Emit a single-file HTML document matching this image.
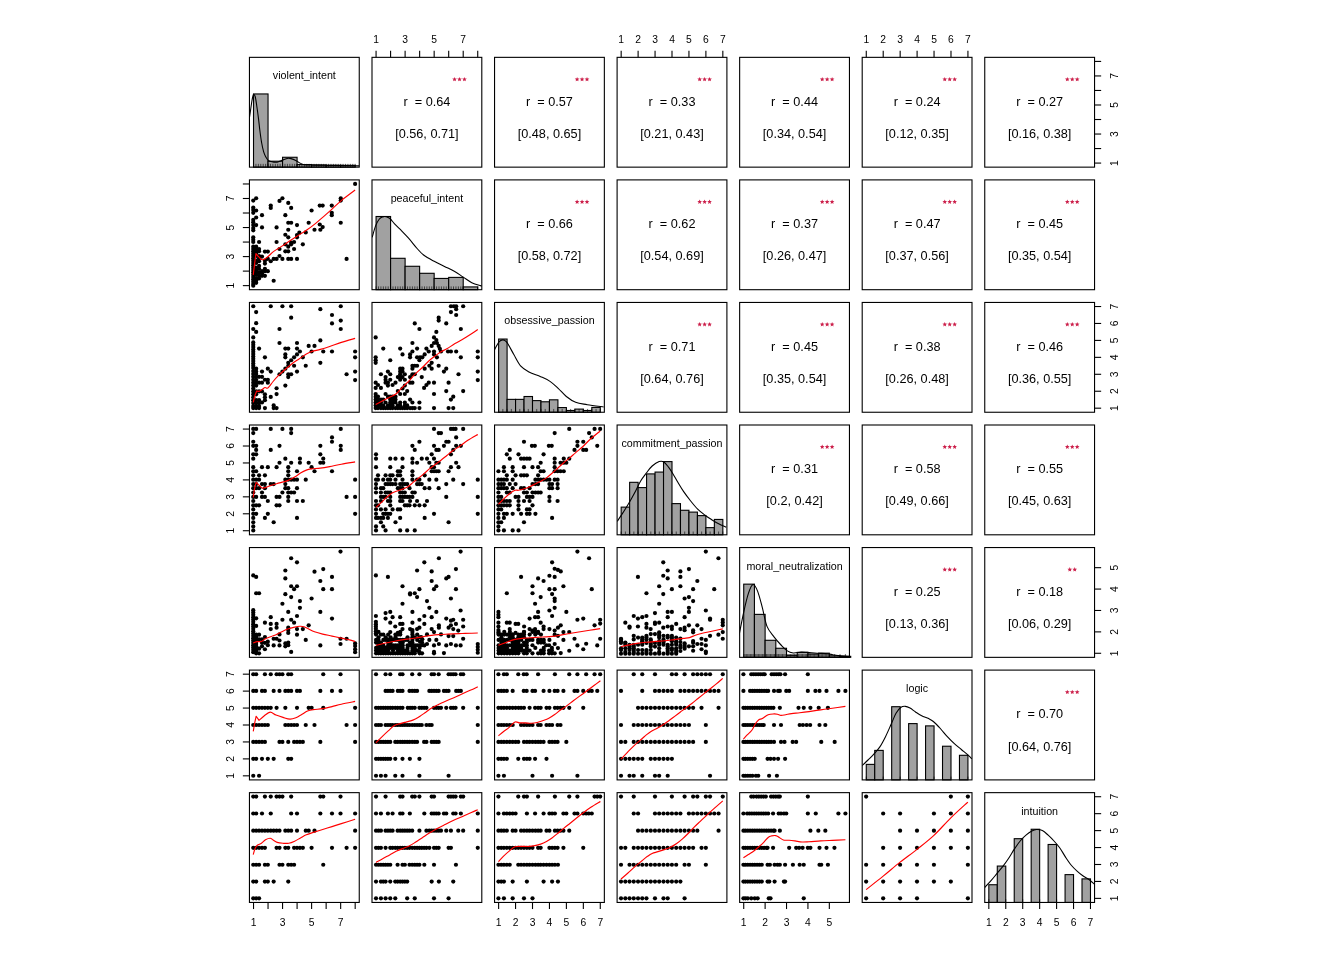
<!DOCTYPE html>
<html><head><meta charset="utf-8"><style>
html,body{margin:0;padding:0;background:#fff;}
svg{display:block;will-change:transform;}
text{font-family:"Liberation Sans", sans-serif;fill:#000;text-anchor:middle;}
.ax{font-size:10.3px;}
.lab{font-size:10.7px;}
.rt{font-size:12.7px;}
.stp{fill:#CC1F4A;}
.box rect{fill:none;stroke:#000;stroke-width:1.1;}
.axl line{stroke:#000;stroke-width:1.1;}
.bar rect{fill:#A1A1A1;stroke:#000;stroke-width:1.1;}
.dens{fill:none;stroke:#000;stroke-width:1.1;stroke-linejoin:round;}
.rug line{stroke:#000;stroke-width:0.6;}
.pt circle{fill:#000;}
.lo{fill:none;stroke:#FF0000;stroke-width:1.15;stroke-linejoin:round;}
</style></head><body>
<svg width="1344" height="960" viewBox="0 0 1344 960">
<rect width="1344" height="960" fill="#fff"/>
<defs>
<clipPath id="c00"><rect x="249.45" y="57.35" width="109.8" height="109.8"/></clipPath>
<clipPath id="c01"><rect x="372" y="57.35" width="109.8" height="109.8"/></clipPath>
<clipPath id="c02"><rect x="494.55" y="57.35" width="109.8" height="109.8"/></clipPath>
<clipPath id="c03"><rect x="617.1" y="57.35" width="109.8" height="109.8"/></clipPath>
<clipPath id="c04"><rect x="739.65" y="57.35" width="109.8" height="109.8"/></clipPath>
<clipPath id="c05"><rect x="862.2" y="57.35" width="109.8" height="109.8"/></clipPath>
<clipPath id="c06"><rect x="984.75" y="57.35" width="109.8" height="109.8"/></clipPath>
<clipPath id="c10"><rect x="249.45" y="179.9" width="109.8" height="109.8"/></clipPath>
<clipPath id="c11"><rect x="372" y="179.9" width="109.8" height="109.8"/></clipPath>
<clipPath id="c12"><rect x="494.55" y="179.9" width="109.8" height="109.8"/></clipPath>
<clipPath id="c13"><rect x="617.1" y="179.9" width="109.8" height="109.8"/></clipPath>
<clipPath id="c14"><rect x="739.65" y="179.9" width="109.8" height="109.8"/></clipPath>
<clipPath id="c15"><rect x="862.2" y="179.9" width="109.8" height="109.8"/></clipPath>
<clipPath id="c16"><rect x="984.75" y="179.9" width="109.8" height="109.8"/></clipPath>
<clipPath id="c20"><rect x="249.45" y="302.45" width="109.8" height="109.8"/></clipPath>
<clipPath id="c21"><rect x="372" y="302.45" width="109.8" height="109.8"/></clipPath>
<clipPath id="c22"><rect x="494.55" y="302.45" width="109.8" height="109.8"/></clipPath>
<clipPath id="c23"><rect x="617.1" y="302.45" width="109.8" height="109.8"/></clipPath>
<clipPath id="c24"><rect x="739.65" y="302.45" width="109.8" height="109.8"/></clipPath>
<clipPath id="c25"><rect x="862.2" y="302.45" width="109.8" height="109.8"/></clipPath>
<clipPath id="c26"><rect x="984.75" y="302.45" width="109.8" height="109.8"/></clipPath>
<clipPath id="c30"><rect x="249.45" y="425" width="109.8" height="109.8"/></clipPath>
<clipPath id="c31"><rect x="372" y="425" width="109.8" height="109.8"/></clipPath>
<clipPath id="c32"><rect x="494.55" y="425" width="109.8" height="109.8"/></clipPath>
<clipPath id="c33"><rect x="617.1" y="425" width="109.8" height="109.8"/></clipPath>
<clipPath id="c34"><rect x="739.65" y="425" width="109.8" height="109.8"/></clipPath>
<clipPath id="c35"><rect x="862.2" y="425" width="109.8" height="109.8"/></clipPath>
<clipPath id="c36"><rect x="984.75" y="425" width="109.8" height="109.8"/></clipPath>
<clipPath id="c40"><rect x="249.45" y="547.55" width="109.8" height="109.8"/></clipPath>
<clipPath id="c41"><rect x="372" y="547.55" width="109.8" height="109.8"/></clipPath>
<clipPath id="c42"><rect x="494.55" y="547.55" width="109.8" height="109.8"/></clipPath>
<clipPath id="c43"><rect x="617.1" y="547.55" width="109.8" height="109.8"/></clipPath>
<clipPath id="c44"><rect x="739.65" y="547.55" width="109.8" height="109.8"/></clipPath>
<clipPath id="c45"><rect x="862.2" y="547.55" width="109.8" height="109.8"/></clipPath>
<clipPath id="c46"><rect x="984.75" y="547.55" width="109.8" height="109.8"/></clipPath>
<clipPath id="c50"><rect x="249.45" y="670.1" width="109.8" height="109.8"/></clipPath>
<clipPath id="c51"><rect x="372" y="670.1" width="109.8" height="109.8"/></clipPath>
<clipPath id="c52"><rect x="494.55" y="670.1" width="109.8" height="109.8"/></clipPath>
<clipPath id="c53"><rect x="617.1" y="670.1" width="109.8" height="109.8"/></clipPath>
<clipPath id="c54"><rect x="739.65" y="670.1" width="109.8" height="109.8"/></clipPath>
<clipPath id="c55"><rect x="862.2" y="670.1" width="109.8" height="109.8"/></clipPath>
<clipPath id="c56"><rect x="984.75" y="670.1" width="109.8" height="109.8"/></clipPath>
<clipPath id="c60"><rect x="249.45" y="792.65" width="109.8" height="109.8"/></clipPath>
<clipPath id="c61"><rect x="372" y="792.65" width="109.8" height="109.8"/></clipPath>
<clipPath id="c62"><rect x="494.55" y="792.65" width="109.8" height="109.8"/></clipPath>
<clipPath id="c63"><rect x="617.1" y="792.65" width="109.8" height="109.8"/></clipPath>
<clipPath id="c64"><rect x="739.65" y="792.65" width="109.8" height="109.8"/></clipPath>
<clipPath id="c65"><rect x="862.2" y="792.65" width="109.8" height="109.8"/></clipPath>
<clipPath id="c66"><rect x="984.75" y="792.65" width="109.8" height="109.8"/></clipPath>
</defs>
<g class="bar">
<rect x="253.52" y="93.95" width="14.52" height="73.2"/>
<rect x="268.04" y="161.22" width="14.52" height="5.93"/>
<rect x="282.56" y="157.27" width="14.52" height="9.88"/>
<rect x="297.09" y="164.59" width="14.52" height="2.56"/>
<rect x="311.61" y="164.95" width="14.52" height="2.2"/>
<rect x="326.14" y="165.32" width="14.52" height="1.83"/>
<rect x="340.66" y="165.32" width="14.52" height="1.83"/>
</g>
<g clip-path="url(#c00)"><path class="dens" d="M249.3,118.6 C249.52,117.13 250.17,112.73 250.6,109.8 C251.03,106.87 251.53,103.22 251.9,101 C252.27,98.78 252.52,97.6 252.8,96.5 C253.08,95.4 253.2,94.4 253.6,94.4 C254,94.4 254.68,94.65 255.2,96.5 C255.72,98.35 256.15,101.82 256.7,105.5 C257.25,109.18 257.98,114.52 258.5,118.6 C259.02,122.68 259.3,126.1 259.8,130 C260.3,133.9 260.87,138.38 261.5,142 C262.13,145.62 262.9,149.25 263.6,151.7 C264.3,154.15 265.01,155.35 265.7,156.7 C266.39,158.05 267.03,159.05 267.75,159.8 C268.47,160.55 268.96,160.82 270,161.2 C271.04,161.58 272.67,161.97 274,162.1 C275.33,162.23 276.75,162.25 278,162 C279.25,161.75 280.33,161.07 281.5,160.6 C282.67,160.13 283.88,159.58 285,159.2 C286.12,158.82 287.2,158.4 288.2,158.3 C289.2,158.2 289.75,158.25 291,158.6 C292.25,158.95 294.37,159.75 295.7,160.4 C297.03,161.05 297.9,161.87 299,162.5 C300.1,163.13 301.13,163.8 302.3,164.2 C303.47,164.6 303.88,164.75 306,164.9 C308.12,165.05 311,165.03 315,165.1 C319,165.17 325,165.22 330,165.3 C335,165.38 340.12,165.5 345,165.6 C349.88,165.7 356.92,165.85 359.3,165.9"/></g>
<g class="rug">
<line x1="253.52" y1="167.15" x2="253.52" y2="163.85"/>
<line x1="255.94" y1="167.15" x2="255.94" y2="163.85"/>
<line x1="258.36" y1="167.15" x2="258.36" y2="163.85"/>
<line x1="260.78" y1="167.15" x2="260.78" y2="163.85"/>
<line x1="263.2" y1="167.15" x2="263.2" y2="163.85"/>
<line x1="265.62" y1="167.15" x2="265.62" y2="163.85"/>
<line x1="268.04" y1="167.15" x2="268.04" y2="163.85"/>
<line x1="270.46" y1="167.15" x2="270.46" y2="163.85"/>
<line x1="272.88" y1="167.15" x2="272.88" y2="163.85"/>
<line x1="275.3" y1="167.15" x2="275.3" y2="163.85"/>
<line x1="277.72" y1="167.15" x2="277.72" y2="163.85"/>
<line x1="280.14" y1="167.15" x2="280.14" y2="163.85"/>
<line x1="282.56" y1="167.15" x2="282.56" y2="163.85"/>
<line x1="284.98" y1="167.15" x2="284.98" y2="163.85"/>
<line x1="287.41" y1="167.15" x2="287.41" y2="163.85"/>
<line x1="289.83" y1="167.15" x2="289.83" y2="163.85"/>
<line x1="292.25" y1="167.15" x2="292.25" y2="163.85"/>
<line x1="294.67" y1="167.15" x2="294.67" y2="163.85"/>
<line x1="297.09" y1="167.15" x2="297.09" y2="163.85"/>
<line x1="299.51" y1="167.15" x2="299.51" y2="163.85"/>
<line x1="301.93" y1="167.15" x2="301.93" y2="163.85"/>
<line x1="304.35" y1="167.15" x2="304.35" y2="163.85"/>
<line x1="306.77" y1="167.15" x2="306.77" y2="163.85"/>
<line x1="309.19" y1="167.15" x2="309.19" y2="163.85"/>
<line x1="311.61" y1="167.15" x2="311.61" y2="163.85"/>
<line x1="314.03" y1="167.15" x2="314.03" y2="163.85"/>
<line x1="316.45" y1="167.15" x2="316.45" y2="163.85"/>
<line x1="318.87" y1="167.15" x2="318.87" y2="163.85"/>
<line x1="321.29" y1="167.15" x2="321.29" y2="163.85"/>
<line x1="323.72" y1="167.15" x2="323.72" y2="163.85"/>
<line x1="326.14" y1="167.15" x2="326.14" y2="163.85"/>
<line x1="328.56" y1="167.15" x2="328.56" y2="163.85"/>
<line x1="330.98" y1="167.15" x2="330.98" y2="163.85"/>
<line x1="333.4" y1="167.15" x2="333.4" y2="163.85"/>
<line x1="335.82" y1="167.15" x2="335.82" y2="163.85"/>
<line x1="338.24" y1="167.15" x2="338.24" y2="163.85"/>
<line x1="340.66" y1="167.15" x2="340.66" y2="163.85"/>
<line x1="343.08" y1="167.15" x2="343.08" y2="163.85"/>
<line x1="345.5" y1="167.15" x2="345.5" y2="163.85"/>
<line x1="347.92" y1="167.15" x2="347.92" y2="163.85"/>
<line x1="350.34" y1="167.15" x2="350.34" y2="163.85"/>
<line x1="352.76" y1="167.15" x2="352.76" y2="163.85"/>
<line x1="355.18" y1="167.15" x2="355.18" y2="163.85"/>
</g>
<text class="lab" x="304.35" y="79.3">violent_intent</text>
<text class="rt" x="426.9" y="105.65">r&#160;&#160;= 0.64</text>
<text class="rt" x="426.9" y="137.75">[0.56, 0.71]</text>
<polygon class="stp" points="454.55,76.9 455.2,78.46 456.88,78.59 455.6,79.69 455.99,81.33 454.55,80.45 453.11,81.33 453.5,79.69 452.22,78.59 453.9,78.46"/>
<polygon class="stp" points="459.5,76.9 460.15,78.46 461.83,78.59 460.55,79.69 460.94,81.33 459.5,80.45 458.06,81.33 458.45,79.69 457.17,78.59 458.85,78.46"/>
<polygon class="stp" points="464.45,76.9 465.1,78.46 466.78,78.59 465.5,79.69 465.89,81.33 464.45,80.45 463.01,81.33 463.4,79.69 462.12,78.59 463.8,78.46"/>
<text class="rt" x="549.45" y="105.65">r&#160;&#160;= 0.57</text>
<text class="rt" x="549.45" y="137.75">[0.48, 0.65]</text>
<polygon class="stp" points="577.1,76.9 577.75,78.46 579.43,78.59 578.15,79.69 578.54,81.33 577.1,80.45 575.66,81.33 576.05,79.69 574.77,78.59 576.45,78.46"/>
<polygon class="stp" points="582.05,76.9 582.7,78.46 584.38,78.59 583.1,79.69 583.49,81.33 582.05,80.45 580.61,81.33 581,79.69 579.72,78.59 581.4,78.46"/>
<polygon class="stp" points="587,76.9 587.65,78.46 589.33,78.59 588.05,79.69 588.44,81.33 587,80.45 585.56,81.33 585.95,79.69 584.67,78.59 586.35,78.46"/>
<text class="rt" x="672" y="105.65">r&#160;&#160;= 0.33</text>
<text class="rt" x="672" y="137.75">[0.21, 0.43]</text>
<polygon class="stp" points="699.65,76.9 700.3,78.46 701.98,78.59 700.7,79.69 701.09,81.33 699.65,80.45 698.21,81.33 698.6,79.69 697.32,78.59 699,78.46"/>
<polygon class="stp" points="704.6,76.9 705.25,78.46 706.93,78.59 705.65,79.69 706.04,81.33 704.6,80.45 703.16,81.33 703.55,79.69 702.27,78.59 703.95,78.46"/>
<polygon class="stp" points="709.55,76.9 710.2,78.46 711.88,78.59 710.6,79.69 710.99,81.33 709.55,80.45 708.11,81.33 708.5,79.69 707.22,78.59 708.9,78.46"/>
<text class="rt" x="794.55" y="105.65">r&#160;&#160;= 0.44</text>
<text class="rt" x="794.55" y="137.75">[0.34, 0.54]</text>
<polygon class="stp" points="822.2,76.9 822.85,78.46 824.53,78.59 823.25,79.69 823.64,81.33 822.2,80.45 820.76,81.33 821.15,79.69 819.87,78.59 821.55,78.46"/>
<polygon class="stp" points="827.15,76.9 827.8,78.46 829.48,78.59 828.2,79.69 828.59,81.33 827.15,80.45 825.71,81.33 826.1,79.69 824.82,78.59 826.5,78.46"/>
<polygon class="stp" points="832.1,76.9 832.75,78.46 834.43,78.59 833.15,79.69 833.54,81.33 832.1,80.45 830.66,81.33 831.05,79.69 829.77,78.59 831.45,78.46"/>
<text class="rt" x="917.1" y="105.65">r&#160;&#160;= 0.24</text>
<text class="rt" x="917.1" y="137.75">[0.12, 0.35]</text>
<polygon class="stp" points="944.75,76.9 945.4,78.46 947.08,78.59 945.8,79.69 946.19,81.33 944.75,80.45 943.31,81.33 943.7,79.69 942.42,78.59 944.1,78.46"/>
<polygon class="stp" points="949.7,76.9 950.35,78.46 952.03,78.59 950.75,79.69 951.14,81.33 949.7,80.45 948.26,81.33 948.65,79.69 947.37,78.59 949.05,78.46"/>
<polygon class="stp" points="954.65,76.9 955.3,78.46 956.98,78.59 955.7,79.69 956.09,81.33 954.65,80.45 953.21,81.33 953.6,79.69 952.32,78.59 954,78.46"/>
<text class="rt" x="1039.65" y="105.65">r&#160;&#160;= 0.27</text>
<text class="rt" x="1039.65" y="137.75">[0.16, 0.38]</text>
<polygon class="stp" points="1067.3,76.9 1067.95,78.46 1069.63,78.59 1068.35,79.69 1068.74,81.33 1067.3,80.45 1065.86,81.33 1066.25,79.69 1064.97,78.59 1066.65,78.46"/>
<polygon class="stp" points="1072.25,76.9 1072.9,78.46 1074.58,78.59 1073.3,79.69 1073.69,81.33 1072.25,80.45 1070.81,81.33 1071.2,79.69 1069.92,78.59 1071.6,78.46"/>
<polygon class="stp" points="1077.2,76.9 1077.85,78.46 1079.53,78.59 1078.25,79.69 1078.64,81.33 1077.2,80.45 1075.76,81.33 1076.15,79.69 1074.87,78.59 1076.55,78.46"/>
<g class="pt">
<circle cx="355.11" cy="183.9" r="2.1"/>
<circle cx="340.75" cy="198.25" r="2.1"/>
<circle cx="340.75" cy="200.58" r="2.1"/>
<circle cx="331.77" cy="205.6" r="2.1"/>
<circle cx="331.77" cy="212.84" r="2.1"/>
<circle cx="331.77" cy="215.17" r="2.1"/>
<circle cx="319.75" cy="205.6" r="2.1"/>
<circle cx="322.67" cy="205.6" r="2.1"/>
<circle cx="311.59" cy="210.5" r="2.1"/>
<circle cx="308.67" cy="222.75" r="2.1"/>
<circle cx="319.75" cy="224.5" r="2.1"/>
<circle cx="322.67" cy="227.07" r="2.1"/>
<circle cx="320.34" cy="229.75" r="2.1"/>
<circle cx="314.5" cy="229.75" r="2.1"/>
<circle cx="340.75" cy="222.75" r="2.1"/>
<circle cx="346.59" cy="258.92" r="2.1"/>
<circle cx="305.75" cy="232.44" r="2.1"/>
<circle cx="302.84" cy="244.34" r="2.1"/>
<circle cx="299.34" cy="232.67" r="2.1"/>
<circle cx="297" cy="235" r="2.1"/>
<circle cx="297" cy="237.34" r="2.1"/>
<circle cx="297" cy="225.09" r="2.1"/>
<circle cx="294.09" cy="242" r="2.1"/>
<circle cx="291.17" cy="242.59" r="2.1"/>
<circle cx="294.09" cy="249" r="2.1"/>
<circle cx="291.17" cy="244.34" r="2.1"/>
<circle cx="288.25" cy="222.75" r="2.1"/>
<circle cx="291.17" cy="222.75" r="2.1"/>
<circle cx="288.25" cy="229.75" r="2.1"/>
<circle cx="288.25" cy="202.92" r="2.1"/>
<circle cx="291.17" cy="207.93" r="2.1"/>
<circle cx="285.34" cy="215.17" r="2.1"/>
<circle cx="282.42" cy="198.25" r="2.1"/>
<circle cx="279.5" cy="200.93" r="2.1"/>
<circle cx="270.75" cy="205.6" r="2.1"/>
<circle cx="270.75" cy="207.93" r="2.1"/>
<circle cx="262" cy="215.17" r="2.1"/>
<circle cx="262" cy="227.42" r="2.1"/>
<circle cx="276.58" cy="227.42" r="2.1"/>
<circle cx="276.58" cy="242" r="2.1"/>
<circle cx="259.08" cy="242" r="2.1"/>
<circle cx="285.34" cy="234.77" r="2.1"/>
<circle cx="288.25" cy="237.34" r="2.1"/>
<circle cx="285.34" cy="244.34" r="2.1"/>
<circle cx="288.25" cy="246.67" r="2.1"/>
<circle cx="285.34" cy="251.34" r="2.1"/>
<circle cx="288.25" cy="251.34" r="2.1"/>
<circle cx="279.5" cy="249" r="2.1"/>
<circle cx="264.92" cy="251.57" r="2.1"/>
<circle cx="267.83" cy="251.57" r="2.1"/>
<circle cx="279.5" cy="256" r="2.1"/>
<circle cx="273.67" cy="258.92" r="2.1"/>
<circle cx="276.58" cy="258.92" r="2.1"/>
<circle cx="282.42" cy="258.92" r="2.1"/>
<circle cx="288.25" cy="258.92" r="2.1"/>
<circle cx="291.17" cy="258.92" r="2.1"/>
<circle cx="297" cy="258.92" r="2.1"/>
<circle cx="270.75" cy="261.25" r="2.1"/>
<circle cx="267.83" cy="258.92" r="2.1"/>
<circle cx="264.92" cy="260.67" r="2.1"/>
<circle cx="264.92" cy="263.59" r="2.1"/>
<circle cx="262" cy="256.59" r="2.1"/>
<circle cx="259.08" cy="249" r="2.1"/>
<circle cx="259.08" cy="251.34" r="2.1"/>
<circle cx="256.17" cy="246.67" r="2.1"/>
<circle cx="259.08" cy="261.25" r="2.1"/>
<circle cx="259.08" cy="265.92" r="2.1"/>
<circle cx="264.92" cy="268.84" r="2.1"/>
<circle cx="267.83" cy="271.17" r="2.1"/>
<circle cx="264.92" cy="271.17" r="2.1"/>
<circle cx="262" cy="273.5" r="2.1"/>
<circle cx="259.08" cy="275.84" r="2.1"/>
<circle cx="264.92" cy="275.84" r="2.1"/>
<circle cx="259.08" cy="278.4" r="2.1"/>
<circle cx="273.67" cy="280.74" r="2.1"/>
<circle cx="256.17" cy="282.84" r="2.1"/>
<circle cx="253.25" cy="200.58" r="2.1"/>
<circle cx="256.17" cy="198.25" r="2.1"/>
<circle cx="253.25" cy="207.58" r="2.1"/>
<circle cx="253.25" cy="209.92" r="2.1"/>
<circle cx="253.25" cy="212.84" r="2.1"/>
<circle cx="256.17" cy="210.5" r="2.1"/>
<circle cx="256.17" cy="217.5" r="2.1"/>
<circle cx="253.25" cy="219.84" r="2.1"/>
<circle cx="253.25" cy="222.17" r="2.1"/>
<circle cx="253.25" cy="225.09" r="2.1"/>
<circle cx="256.17" cy="225.09" r="2.1"/>
<circle cx="253.25" cy="228" r="2.1"/>
<circle cx="253.25" cy="230.34" r="2.1"/>
<circle cx="253.25" cy="237.34" r="2.1"/>
<circle cx="253.25" cy="239.67" r="2.1"/>
<circle cx="253.25" cy="242" r="2.1"/>
<circle cx="253.25" cy="246.67" r="2.1"/>
<circle cx="253.25" cy="249" r="2.1"/>
<circle cx="253.25" cy="251.34" r="2.1"/>
<circle cx="253.25" cy="253.67" r="2.1"/>
<circle cx="253.25" cy="256" r="2.1"/>
<circle cx="253.25" cy="258.34" r="2.1"/>
<circle cx="253.25" cy="260.67" r="2.1"/>
<circle cx="253.25" cy="263" r="2.1"/>
<circle cx="253.25" cy="265.34" r="2.1"/>
<circle cx="253.25" cy="267.67" r="2.1"/>
<circle cx="253.25" cy="270" r="2.1"/>
<circle cx="253.25" cy="272.34" r="2.1"/>
<circle cx="253.25" cy="274.67" r="2.1"/>
<circle cx="253.25" cy="277" r="2.1"/>
<circle cx="253.25" cy="279.34" r="2.1"/>
<circle cx="253.25" cy="281.67" r="2.1"/>
<circle cx="253.25" cy="284.01" r="2.1"/>
<circle cx="253.25" cy="285.76" r="2.1"/>
<circle cx="256.17" cy="249" r="2.1"/>
<circle cx="256.17" cy="251.34" r="2.1"/>
<circle cx="256.17" cy="253.67" r="2.1"/>
<circle cx="256.17" cy="256" r="2.1"/>
<circle cx="256.17" cy="260.67" r="2.1"/>
<circle cx="256.17" cy="263" r="2.1"/>
<circle cx="256.17" cy="267.67" r="2.1"/>
<circle cx="256.17" cy="270" r="2.1"/>
<circle cx="256.17" cy="272.34" r="2.1"/>
<circle cx="256.17" cy="274.67" r="2.1"/>
<circle cx="256.17" cy="278.17" r="2.1"/>
<circle cx="256.17" cy="280.51" r="2.1"/>
<circle cx="259.08" cy="256" r="2.1"/>
<circle cx="259.08" cy="258.34" r="2.1"/>
<circle cx="259.08" cy="268.84" r="2.1"/>
<circle cx="259.08" cy="272.34" r="2.1"/>
<circle cx="262" cy="271.17" r="2.1"/>
<circle cx="262" cy="275.84" r="2.1"/>
</g>
<g clip-path="url(#c10)"><path class="lo" d="M253.25,274.9 C253.44,273.31 253.97,268.88 254.42,265.34 C254.86,261.8 255.68,255.61 255.93,253.67 C256.46,254.25 258.07,256.16 259.08,257.17 C260.1,258.18 261.03,259.45 262,259.74 C262.97,260.03 263.85,259.5 264.92,258.92 C265.99,258.34 267.06,257.4 268.42,256.24 C269.78,255.07 271.43,253.22 273.08,251.92 C274.74,250.62 276.1,249.88 278.33,248.42 C280.57,246.96 283.39,245.21 286.5,243.17 C289.61,241.13 293.7,238.31 297,236.17 C300.31,234.03 303.22,232.47 306.34,230.34 C309.45,228.2 312.75,225.67 315.67,223.34 C318.59,221 321.11,218.71 323.84,216.34 C326.56,213.96 329.09,211.73 332,209.1 C334.92,206.48 337.49,203.75 341.34,200.58 C345.19,197.41 352.81,191.83 355.11,190.08"/></g>
<g class="bar">
<rect x="376.07" y="216.5" width="14.52" height="73.2"/>
<rect x="390.59" y="258.3" width="14.52" height="31.4"/>
<rect x="405.11" y="266.28" width="14.52" height="23.42"/>
<rect x="419.64" y="273.3" width="14.52" height="16.4"/>
<rect x="434.16" y="278.43" width="14.52" height="11.27"/>
<rect x="448.69" y="277.4" width="14.52" height="12.3"/>
<rect x="463.21" y="286.92" width="14.52" height="2.78"/>
</g>
<g clip-path="url(#c11)"><path class="dens" d="M372.17,237.34 C372.75,235.39 374.5,228.68 375.67,225.67 C376.83,222.65 378,220.71 379.17,219.25 C380.33,217.79 381.69,217.37 382.67,216.92 C383.64,216.47 384.13,216.47 385,216.57 C385.88,216.67 386.98,217.05 387.92,217.5 C388.85,217.95 389.53,218.24 390.6,219.25 C391.67,220.26 392.77,221.91 394.33,223.57 C395.9,225.23 397.64,226.77 400,229.2 C402.37,231.64 405.7,234.98 408.55,238.2 C411.39,241.42 414.53,245.65 417.1,248.5 C419.66,251.35 421.1,253.17 423.95,255.3 C426.8,257.44 430.78,259.45 434.2,261.3 C437.62,263.15 441.03,264.7 444.45,266.4 C447.86,268.1 451.57,269.73 454.7,271.51 C457.83,273.29 460.36,275.24 463.21,277.1 C466.06,278.95 468.94,281.22 471.79,282.64 C474.64,284.06 478.43,285.03 480.3,285.6 C482.17,286.18 482.55,286.02 483.01,286.11"/></g>
<g class="rug">
<line x1="376.07" y1="289.7" x2="376.07" y2="286.4"/>
<line x1="378.49" y1="289.7" x2="378.49" y2="286.4"/>
<line x1="380.91" y1="289.7" x2="380.91" y2="286.4"/>
<line x1="383.33" y1="289.7" x2="383.33" y2="286.4"/>
<line x1="385.75" y1="289.7" x2="385.75" y2="286.4"/>
<line x1="388.17" y1="289.7" x2="388.17" y2="286.4"/>
<line x1="390.59" y1="289.7" x2="390.59" y2="286.4"/>
<line x1="393.01" y1="289.7" x2="393.01" y2="286.4"/>
<line x1="395.43" y1="289.7" x2="395.43" y2="286.4"/>
<line x1="397.85" y1="289.7" x2="397.85" y2="286.4"/>
<line x1="400.27" y1="289.7" x2="400.27" y2="286.4"/>
<line x1="402.69" y1="289.7" x2="402.69" y2="286.4"/>
<line x1="405.11" y1="289.7" x2="405.11" y2="286.4"/>
<line x1="407.53" y1="289.7" x2="407.53" y2="286.4"/>
<line x1="409.96" y1="289.7" x2="409.96" y2="286.4"/>
<line x1="412.38" y1="289.7" x2="412.38" y2="286.4"/>
<line x1="414.8" y1="289.7" x2="414.8" y2="286.4"/>
<line x1="417.22" y1="289.7" x2="417.22" y2="286.4"/>
<line x1="419.64" y1="289.7" x2="419.64" y2="286.4"/>
<line x1="422.06" y1="289.7" x2="422.06" y2="286.4"/>
<line x1="424.48" y1="289.7" x2="424.48" y2="286.4"/>
<line x1="426.9" y1="289.7" x2="426.9" y2="286.4"/>
<line x1="429.32" y1="289.7" x2="429.32" y2="286.4"/>
<line x1="431.74" y1="289.7" x2="431.74" y2="286.4"/>
<line x1="434.16" y1="289.7" x2="434.16" y2="286.4"/>
<line x1="436.58" y1="289.7" x2="436.58" y2="286.4"/>
<line x1="439" y1="289.7" x2="439" y2="286.4"/>
<line x1="441.42" y1="289.7" x2="441.42" y2="286.4"/>
<line x1="443.84" y1="289.7" x2="443.84" y2="286.4"/>
<line x1="446.27" y1="289.7" x2="446.27" y2="286.4"/>
<line x1="448.69" y1="289.7" x2="448.69" y2="286.4"/>
<line x1="451.11" y1="289.7" x2="451.11" y2="286.4"/>
<line x1="453.53" y1="289.7" x2="453.53" y2="286.4"/>
<line x1="455.95" y1="289.7" x2="455.95" y2="286.4"/>
<line x1="458.37" y1="289.7" x2="458.37" y2="286.4"/>
<line x1="460.79" y1="289.7" x2="460.79" y2="286.4"/>
<line x1="463.21" y1="289.7" x2="463.21" y2="286.4"/>
<line x1="477.73" y1="289.7" x2="477.73" y2="286.4"/>
</g>
<text class="lab" x="426.9" y="201.85">peaceful_intent</text>
<text class="rt" x="549.45" y="228.2">r&#160;&#160;= 0.66</text>
<text class="rt" x="549.45" y="260.3">[0.58, 0.72]</text>
<polygon class="stp" points="577.1,199.45 577.75,201.01 579.43,201.14 578.15,202.24 578.54,203.88 577.1,203 575.66,203.88 576.05,202.24 574.77,201.14 576.45,201.01"/>
<polygon class="stp" points="582.05,199.45 582.7,201.01 584.38,201.14 583.1,202.24 583.49,203.88 582.05,203 580.61,203.88 581,202.24 579.72,201.14 581.4,201.01"/>
<polygon class="stp" points="587,199.45 587.65,201.01 589.33,201.14 588.05,202.24 588.44,203.88 587,203 585.56,203.88 585.95,202.24 584.67,201.14 586.35,201.01"/>
<text class="rt" x="672" y="228.2">r&#160;&#160;= 0.62</text>
<text class="rt" x="672" y="260.3">[0.54, 0.69]</text>
<polygon class="stp" points="699.65,199.45 700.3,201.01 701.98,201.14 700.7,202.24 701.09,203.88 699.65,203 698.21,203.88 698.6,202.24 697.32,201.14 699,201.01"/>
<polygon class="stp" points="704.6,199.45 705.25,201.01 706.93,201.14 705.65,202.24 706.04,203.88 704.6,203 703.16,203.88 703.55,202.24 702.27,201.14 703.95,201.01"/>
<polygon class="stp" points="709.55,199.45 710.2,201.01 711.88,201.14 710.6,202.24 710.99,203.88 709.55,203 708.11,203.88 708.5,202.24 707.22,201.14 708.9,201.01"/>
<text class="rt" x="794.55" y="228.2">r&#160;&#160;= 0.37</text>
<text class="rt" x="794.55" y="260.3">[0.26, 0.47]</text>
<polygon class="stp" points="822.2,199.45 822.85,201.01 824.53,201.14 823.25,202.24 823.64,203.88 822.2,203 820.76,203.88 821.15,202.24 819.87,201.14 821.55,201.01"/>
<polygon class="stp" points="827.15,199.45 827.8,201.01 829.48,201.14 828.2,202.24 828.59,203.88 827.15,203 825.71,203.88 826.1,202.24 824.82,201.14 826.5,201.01"/>
<polygon class="stp" points="832.1,199.45 832.75,201.01 834.43,201.14 833.15,202.24 833.54,203.88 832.1,203 830.66,203.88 831.05,202.24 829.77,201.14 831.45,201.01"/>
<text class="rt" x="917.1" y="228.2">r&#160;&#160;= 0.47</text>
<text class="rt" x="917.1" y="260.3">[0.37, 0.56]</text>
<polygon class="stp" points="944.75,199.45 945.4,201.01 947.08,201.14 945.8,202.24 946.19,203.88 944.75,203 943.31,203.88 943.7,202.24 942.42,201.14 944.1,201.01"/>
<polygon class="stp" points="949.7,199.45 950.35,201.01 952.03,201.14 950.75,202.24 951.14,203.88 949.7,203 948.26,203.88 948.65,202.24 947.37,201.14 949.05,201.01"/>
<polygon class="stp" points="954.65,199.45 955.3,201.01 956.98,201.14 955.7,202.24 956.09,203.88 954.65,203 953.21,203.88 953.6,202.24 952.32,201.14 954,201.01"/>
<text class="rt" x="1039.65" y="228.2">r&#160;&#160;= 0.45</text>
<text class="rt" x="1039.65" y="260.3">[0.35, 0.54]</text>
<polygon class="stp" points="1067.3,199.45 1067.95,201.01 1069.63,201.14 1068.35,202.24 1068.74,203.88 1067.3,203 1065.86,203.88 1066.25,202.24 1064.97,201.14 1066.65,201.01"/>
<polygon class="stp" points="1072.25,199.45 1072.9,201.01 1074.58,201.14 1073.3,202.24 1073.69,203.88 1072.25,203 1070.81,203.88 1071.2,202.24 1069.92,201.14 1071.6,201.01"/>
<polygon class="stp" points="1077.2,199.45 1077.85,201.01 1079.53,201.14 1078.25,202.24 1078.64,203.88 1077.2,203 1075.76,203.88 1076.15,202.24 1074.87,201.14 1076.55,201.01"/>
<g class="pt">
<circle cx="253.25" cy="306.25" r="2.1"/>
<circle cx="270.75" cy="306.25" r="2.1"/>
<circle cx="282.42" cy="306.25" r="2.1"/>
<circle cx="291.17" cy="306.25" r="2.1"/>
<circle cx="340.75" cy="306.25" r="2.1"/>
<circle cx="256.17" cy="312.08" r="2.1"/>
<circle cx="320.34" cy="309.17" r="2.1"/>
<circle cx="332" cy="315" r="2.1"/>
<circle cx="291.17" cy="317.68" r="2.1"/>
<circle cx="340.75" cy="320.6" r="2.1"/>
<circle cx="332" cy="323.4" r="2.1"/>
<circle cx="340.75" cy="329" r="2.1"/>
<circle cx="256.17" cy="323.17" r="2.1"/>
<circle cx="253.25" cy="329" r="2.1"/>
<circle cx="256.17" cy="331.92" r="2.1"/>
<circle cx="279.5" cy="329" r="2.1"/>
<circle cx="253.25" cy="337.4" r="2.1"/>
<circle cx="320.34" cy="340.44" r="2.1"/>
<circle cx="279.5" cy="343" r="2.1"/>
<circle cx="297" cy="343" r="2.1"/>
<circle cx="308.67" cy="345.92" r="2.1"/>
<circle cx="314.5" cy="345.92" r="2.1"/>
<circle cx="259.08" cy="348.6" r="2.1"/>
<circle cx="285.34" cy="348.6" r="2.1"/>
<circle cx="288.25" cy="348.6" r="2.1"/>
<circle cx="297" cy="348.6" r="2.1"/>
<circle cx="299.92" cy="351.52" r="2.1"/>
<circle cx="311.59" cy="351.52" r="2.1"/>
<circle cx="323.25" cy="351.52" r="2.1"/>
<circle cx="332" cy="351.52" r="2.1"/>
<circle cx="355.11" cy="351.52" r="2.1"/>
<circle cx="355.11" cy="357.35" r="2.1"/>
<circle cx="264.92" cy="357.35" r="2.1"/>
<circle cx="285.34" cy="354.44" r="2.1"/>
<circle cx="285.34" cy="357.35" r="2.1"/>
<circle cx="297" cy="354.44" r="2.1"/>
<circle cx="294.09" cy="357.35" r="2.1"/>
<circle cx="302.84" cy="357.35" r="2.1"/>
<circle cx="291.17" cy="360.27" r="2.1"/>
<circle cx="288.25" cy="362.84" r="2.1"/>
<circle cx="320.34" cy="362.84" r="2.1"/>
<circle cx="305.75" cy="365.75" r="2.1"/>
<circle cx="294.09" cy="365.75" r="2.1"/>
<circle cx="288.25" cy="365.75" r="2.1"/>
<circle cx="285.34" cy="368.67" r="2.1"/>
<circle cx="267.83" cy="368.67" r="2.1"/>
<circle cx="270.75" cy="371.59" r="2.1"/>
<circle cx="262" cy="371.59" r="2.1"/>
<circle cx="297" cy="371.59" r="2.1"/>
<circle cx="355.11" cy="371.59" r="2.1"/>
<circle cx="346.59" cy="374.27" r="2.1"/>
<circle cx="355.11" cy="380.1" r="2.1"/>
<circle cx="282.42" cy="371.59" r="2.1"/>
<circle cx="279.5" cy="374.27" r="2.1"/>
<circle cx="288.25" cy="374.27" r="2.1"/>
<circle cx="291.17" cy="374.27" r="2.1"/>
<circle cx="288.25" cy="377.07" r="2.1"/>
<circle cx="285.34" cy="385.59" r="2.1"/>
<circle cx="276.58" cy="388.27" r="2.1"/>
<circle cx="276.58" cy="394.1" r="2.1"/>
<circle cx="270.75" cy="396.9" r="2.1"/>
<circle cx="264.92" cy="408.11" r="2.1"/>
<circle cx="273.67" cy="405.42" r="2.1"/>
<circle cx="273.67" cy="408.11" r="2.1"/>
<circle cx="276.58" cy="408.11" r="2.1"/>
<circle cx="259.08" cy="376.84" r="2.1"/>
<circle cx="259.08" cy="382.67" r="2.1"/>
<circle cx="262" cy="376.84" r="2.1"/>
<circle cx="262" cy="382.67" r="2.1"/>
<circle cx="264.92" cy="379.75" r="2.1"/>
<circle cx="267.83" cy="379.75" r="2.1"/>
<circle cx="267.83" cy="382.67" r="2.1"/>
<circle cx="259.08" cy="391.42" r="2.1"/>
<circle cx="262" cy="391.42" r="2.1"/>
<circle cx="264.92" cy="394.34" r="2.1"/>
<circle cx="264.92" cy="397.25" r="2.1"/>
<circle cx="264.92" cy="400.17" r="2.1"/>
<circle cx="262" cy="402.51" r="2.1"/>
<circle cx="259.08" cy="400.17" r="2.1"/>
<circle cx="259.08" cy="403.09" r="2.1"/>
<circle cx="259.08" cy="406.01" r="2.1"/>
<circle cx="259.08" cy="408.11" r="2.1"/>
<circle cx="256.17" cy="408.11" r="2.1"/>
<circle cx="253.25" cy="342.42" r="2.1"/>
<circle cx="253.25" cy="344.75" r="2.1"/>
<circle cx="253.25" cy="347.09" r="2.1"/>
<circle cx="253.25" cy="349.42" r="2.1"/>
<circle cx="253.25" cy="351.75" r="2.1"/>
<circle cx="253.25" cy="354.09" r="2.1"/>
<circle cx="253.25" cy="356.42" r="2.1"/>
<circle cx="253.25" cy="358.75" r="2.1"/>
<circle cx="253.25" cy="361.09" r="2.1"/>
<circle cx="253.25" cy="363.42" r="2.1"/>
<circle cx="253.25" cy="365.75" r="2.1"/>
<circle cx="253.25" cy="368.09" r="2.1"/>
<circle cx="253.25" cy="371" r="2.1"/>
<circle cx="253.25" cy="373.92" r="2.1"/>
<circle cx="253.25" cy="376.84" r="2.1"/>
<circle cx="253.25" cy="379.75" r="2.1"/>
<circle cx="253.25" cy="382.67" r="2.1"/>
<circle cx="253.25" cy="385.59" r="2.1"/>
<circle cx="253.25" cy="388.5" r="2.1"/>
<circle cx="253.25" cy="391.42" r="2.1"/>
<circle cx="253.25" cy="394.34" r="2.1"/>
<circle cx="253.25" cy="397.25" r="2.1"/>
<circle cx="253.25" cy="400.17" r="2.1"/>
<circle cx="253.25" cy="403.09" r="2.1"/>
<circle cx="253.25" cy="406.01" r="2.1"/>
<circle cx="253.25" cy="408.11" r="2.1"/>
<circle cx="256.17" cy="368.67" r="2.1"/>
<circle cx="256.17" cy="371.59" r="2.1"/>
<circle cx="256.17" cy="373.92" r="2.1"/>
<circle cx="256.17" cy="376.84" r="2.1"/>
<circle cx="256.17" cy="379.75" r="2.1"/>
<circle cx="256.17" cy="382.67" r="2.1"/>
<circle cx="256.17" cy="385.59" r="2.1"/>
<circle cx="256.17" cy="391.42" r="2.1"/>
<circle cx="256.17" cy="394.34" r="2.1"/>
<circle cx="256.17" cy="400.17" r="2.1"/>
<circle cx="256.17" cy="403.09" r="2.1"/>
<circle cx="256.17" cy="406.01" r="2.1"/>
</g>
<g clip-path="url(#c20)"><path class="lo" d="M253.25,402.27 C253.54,401.14 254.42,397.41 255,395.5 C255.58,393.6 256.46,391.62 256.75,390.84 C257.04,390.94 257.82,391.46 258.5,391.42 C259.18,391.38 259.76,391.25 260.83,390.6 C261.9,389.96 263.85,387.96 264.92,387.57 C265.99,387.18 266.47,388.5 267.25,388.27 C268.03,388.04 268.61,387.3 269.58,386.17 C270.56,385.04 271.63,383.25 273.08,381.5 C274.54,379.75 276.29,377.71 278.33,375.67 C280.38,373.63 283,371.3 285.34,369.25 C287.67,367.21 290,365.17 292.34,363.42 C294.67,361.67 297,360.31 299.34,358.75 C301.67,357.2 304.2,355.31 306.34,354.09 C308.48,352.86 309.84,352.18 312.17,351.4 C314.5,350.62 317.42,350.24 320.34,349.42 C323.25,348.6 326.17,347.67 329.67,346.5 C333.17,345.34 337.1,343.78 341.34,342.42 C345.58,341.06 352.81,339.02 355.11,338.34"/></g>
<g class="pt">
<circle cx="450.92" cy="306.25" r="2.1"/>
<circle cx="453.84" cy="306.25" r="2.1"/>
<circle cx="456.17" cy="306.25" r="2.1"/>
<circle cx="463.17" cy="306.25" r="2.1"/>
<circle cx="456.17" cy="309.17" r="2.1"/>
<circle cx="450.92" cy="312.08" r="2.1"/>
<circle cx="456.17" cy="315" r="2.1"/>
<circle cx="438.67" cy="317.68" r="2.1"/>
<circle cx="438.67" cy="320.6" r="2.1"/>
<circle cx="446.25" cy="323.4" r="2.1"/>
<circle cx="414.75" cy="323.4" r="2.1"/>
<circle cx="419.42" cy="329" r="2.1"/>
<circle cx="460.84" cy="329" r="2.1"/>
<circle cx="436.34" cy="331.92" r="2.1"/>
<circle cx="375.67" cy="337.4" r="2.1"/>
<circle cx="434" cy="337.4" r="2.1"/>
<circle cx="436.34" cy="340.09" r="2.1"/>
<circle cx="434" cy="343" r="2.1"/>
<circle cx="436.92" cy="343" r="2.1"/>
<circle cx="412.42" cy="343" r="2.1"/>
<circle cx="431.67" cy="345.92" r="2.1"/>
<circle cx="438.67" cy="345.92" r="2.1"/>
<circle cx="383.25" cy="348.6" r="2.1"/>
<circle cx="400.17" cy="348.6" r="2.1"/>
<circle cx="417.09" cy="348.6" r="2.1"/>
<circle cx="426.42" cy="348.6" r="2.1"/>
<circle cx="439.84" cy="348.84" r="2.1"/>
<circle cx="441" cy="351.52" r="2.1"/>
<circle cx="448" cy="351.52" r="2.1"/>
<circle cx="450.92" cy="351.52" r="2.1"/>
<circle cx="456.17" cy="351.52" r="2.1"/>
<circle cx="477.76" cy="351.52" r="2.1"/>
<circle cx="477.76" cy="357.35" r="2.1"/>
<circle cx="412.42" cy="351.52" r="2.1"/>
<circle cx="428.75" cy="351.52" r="2.1"/>
<circle cx="434" cy="351.52" r="2.1"/>
<circle cx="434" cy="354.44" r="2.1"/>
<circle cx="402.5" cy="354.44" r="2.1"/>
<circle cx="410.09" cy="354.44" r="2.1"/>
<circle cx="424.67" cy="354.44" r="2.1"/>
<circle cx="410.09" cy="357.35" r="2.1"/>
<circle cx="417.09" cy="357.35" r="2.1"/>
<circle cx="420" cy="357.35" r="2.1"/>
<circle cx="422.34" cy="357.35" r="2.1"/>
<circle cx="436.92" cy="357.35" r="2.1"/>
<circle cx="460.84" cy="357.35" r="2.1"/>
<circle cx="419.42" cy="360.27" r="2.1"/>
<circle cx="375.67" cy="357.35" r="2.1"/>
<circle cx="375.67" cy="360.27" r="2.1"/>
<circle cx="375.67" cy="362.84" r="2.1"/>
<circle cx="390.25" cy="360.27" r="2.1"/>
<circle cx="431.67" cy="362.84" r="2.1"/>
<circle cx="412.42" cy="365.75" r="2.1"/>
<circle cx="414.75" cy="365.75" r="2.1"/>
<circle cx="417.09" cy="365.75" r="2.1"/>
<circle cx="429.34" cy="365.75" r="2.1"/>
<circle cx="438.67" cy="365.75" r="2.1"/>
<circle cx="412.42" cy="368.67" r="2.1"/>
<circle cx="400.17" cy="368.67" r="2.1"/>
<circle cx="402.5" cy="368.67" r="2.1"/>
<circle cx="424.67" cy="368.67" r="2.1"/>
<circle cx="431.67" cy="368.67" r="2.1"/>
<circle cx="446.25" cy="368.67" r="2.1"/>
<circle cx="443.92" cy="371.59" r="2.1"/>
<circle cx="387.92" cy="371.59" r="2.1"/>
<circle cx="400.17" cy="371.59" r="2.1"/>
<circle cx="402.5" cy="371.59" r="2.1"/>
<circle cx="477.76" cy="371.59" r="2.1"/>
<circle cx="380.92" cy="374.27" r="2.1"/>
<circle cx="390.25" cy="374.27" r="2.1"/>
<circle cx="400.17" cy="374.27" r="2.1"/>
<circle cx="404.84" cy="374.27" r="2.1"/>
<circle cx="412.42" cy="374.27" r="2.1"/>
<circle cx="414.75" cy="374.27" r="2.1"/>
<circle cx="458.5" cy="374.27" r="2.1"/>
<circle cx="385.58" cy="377.07" r="2.1"/>
<circle cx="397.83" cy="377.07" r="2.1"/>
<circle cx="400.17" cy="377.07" r="2.1"/>
<circle cx="402.5" cy="377.07" r="2.1"/>
<circle cx="410.09" cy="377.07" r="2.1"/>
<circle cx="421.75" cy="377.07" r="2.1"/>
<circle cx="385.58" cy="379.75" r="2.1"/>
<circle cx="390.25" cy="379.75" r="2.1"/>
<circle cx="400.17" cy="379.75" r="2.1"/>
<circle cx="404.84" cy="379.75" r="2.1"/>
<circle cx="477.76" cy="380.1" r="2.1"/>
<circle cx="375.67" cy="382.67" r="2.1"/>
<circle cx="387.92" cy="382.67" r="2.1"/>
<circle cx="385.58" cy="382.67" r="2.1"/>
<circle cx="395.5" cy="382.67" r="2.1"/>
<circle cx="392.58" cy="385" r="2.1"/>
<circle cx="410.09" cy="382.67" r="2.1"/>
<circle cx="412.42" cy="382.67" r="2.1"/>
<circle cx="434" cy="382.67" r="2.1"/>
<circle cx="448.59" cy="382.67" r="2.1"/>
<circle cx="428.75" cy="382.67" r="2.1"/>
<circle cx="426.42" cy="385" r="2.1"/>
<circle cx="424.09" cy="387.92" r="2.1"/>
<circle cx="375.67" cy="387.92" r="2.1"/>
<circle cx="380.92" cy="387.92" r="2.1"/>
<circle cx="378" cy="385" r="2.1"/>
<circle cx="387.92" cy="385.59" r="2.1"/>
<circle cx="404.84" cy="385.59" r="2.1"/>
<circle cx="402.5" cy="388.5" r="2.1"/>
<circle cx="397.83" cy="391.07" r="2.1"/>
<circle cx="407.17" cy="391.07" r="2.1"/>
<circle cx="446.25" cy="391.07" r="2.1"/>
<circle cx="463.17" cy="391.07" r="2.1"/>
<circle cx="385.58" cy="393.99" r="2.1"/>
<circle cx="400.17" cy="393.99" r="2.1"/>
<circle cx="404.84" cy="393.99" r="2.1"/>
<circle cx="434" cy="393.99" r="2.1"/>
<circle cx="453.25" cy="396.67" r="2.1"/>
<circle cx="450.92" cy="399.59" r="2.1"/>
<circle cx="410.09" cy="399.59" r="2.1"/>
<circle cx="412.42" cy="402.51" r="2.1"/>
<circle cx="419.42" cy="402.51" r="2.1"/>
<circle cx="404.84" cy="402.51" r="2.1"/>
<circle cx="375.67" cy="393.99" r="2.1"/>
<circle cx="375.67" cy="396.67" r="2.1"/>
<circle cx="378" cy="399.59" r="2.1"/>
<circle cx="380.92" cy="399.59" r="2.1"/>
<circle cx="375.67" cy="408.11" r="2.1"/>
<circle cx="378" cy="408.11" r="2.1"/>
<circle cx="380.92" cy="408.11" r="2.1"/>
<circle cx="383.25" cy="408.11" r="2.1"/>
<circle cx="385.58" cy="408.11" r="2.1"/>
<circle cx="387.92" cy="408.11" r="2.1"/>
<circle cx="390.25" cy="408.11" r="2.1"/>
<circle cx="392.58" cy="408.11" r="2.1"/>
<circle cx="395.5" cy="408.11" r="2.1"/>
<circle cx="397.83" cy="408.11" r="2.1"/>
<circle cx="400.17" cy="408.11" r="2.1"/>
<circle cx="402.5" cy="408.11" r="2.1"/>
<circle cx="404.84" cy="408.11" r="2.1"/>
<circle cx="407.17" cy="408.11" r="2.1"/>
<circle cx="410.09" cy="408.11" r="2.1"/>
<circle cx="412.42" cy="408.11" r="2.1"/>
<circle cx="414.75" cy="408.11" r="2.1"/>
<circle cx="419.42" cy="408.11" r="2.1"/>
<circle cx="434" cy="408.11" r="2.1"/>
<circle cx="448.59" cy="408.11" r="2.1"/>
<circle cx="453.25" cy="408.11" r="2.1"/>
<circle cx="375.67" cy="405.42" r="2.1"/>
<circle cx="378" cy="405.42" r="2.1"/>
<circle cx="380.92" cy="405.42" r="2.1"/>
<circle cx="383.25" cy="405.42" r="2.1"/>
<circle cx="387.92" cy="405.42" r="2.1"/>
<circle cx="390.25" cy="405.42" r="2.1"/>
<circle cx="392.58" cy="405.42" r="2.1"/>
<circle cx="397.83" cy="405.42" r="2.1"/>
<circle cx="400.17" cy="405.42" r="2.1"/>
<circle cx="404.84" cy="405.42" r="2.1"/>
<circle cx="407.17" cy="405.42" r="2.1"/>
<circle cx="375.67" cy="402.51" r="2.1"/>
<circle cx="378" cy="402.51" r="2.1"/>
<circle cx="380.92" cy="402.51" r="2.1"/>
<circle cx="385.58" cy="402.51" r="2.1"/>
<circle cx="390.25" cy="402.51" r="2.1"/>
<circle cx="392.58" cy="402.51" r="2.1"/>
<circle cx="395.5" cy="402.51" r="2.1"/>
<circle cx="400.17" cy="402.51" r="2.1"/>
<circle cx="375.67" cy="399.59" r="2.1"/>
<circle cx="383.25" cy="399.59" r="2.1"/>
<circle cx="390.25" cy="399.59" r="2.1"/>
<circle cx="392.58" cy="399.59" r="2.1"/>
<circle cx="395.5" cy="399.59" r="2.1"/>
<circle cx="378" cy="396.67" r="2.1"/>
<circle cx="390.25" cy="396.67" r="2.1"/>
<circle cx="392.58" cy="396.67" r="2.1"/>
<circle cx="395.5" cy="396.67" r="2.1"/>
<circle cx="387.92" cy="396.67" r="2.1"/>
</g>
<g clip-path="url(#c21)"><path class="lo" d="M375.67,404.61 C376.83,403.96 380.33,401.98 382.67,400.75 C385,399.53 387.53,398.32 389.67,397.25 C391.81,396.19 393.75,395.6 395.5,394.34 C397.25,393.07 398.61,391.23 400.17,389.67 C401.72,388.12 403.28,386.56 404.84,385 C406.39,383.45 407.75,382.18 409.5,380.34 C411.25,378.49 413.2,376.06 415.34,373.92 C417.47,371.78 420,369.74 422.34,367.5 C424.67,365.27 427.2,362.45 429.34,360.5 C431.48,358.56 433.23,357.29 435.17,355.84 C437.11,354.38 439.06,352.92 441,351.75 C442.95,350.59 444.5,350.2 446.84,348.84 C449.17,347.47 452.09,345.34 455,343.59 C457.92,341.84 460.55,340.67 464.34,338.34 C468.13,336 475.52,331.04 477.76,329.58"/></g>
<g class="bar">
<rect x="498.62" y="339.05" width="8.47" height="73.2"/>
<rect x="507.09" y="399.37" width="8.47" height="12.88"/>
<rect x="515.56" y="399.37" width="8.47" height="12.88"/>
<rect x="524.03" y="396.51" width="8.47" height="15.74"/>
<rect x="532.51" y="400.61" width="8.47" height="11.64"/>
<rect x="540.98" y="401.78" width="8.47" height="10.47"/>
<rect x="549.45" y="399.81" width="8.47" height="12.44"/>
<rect x="557.92" y="407.57" width="8.47" height="4.68"/>
<rect x="566.39" y="410.49" width="8.47" height="1.76"/>
<rect x="574.87" y="409.1" width="8.47" height="3.15"/>
<rect x="583.34" y="410.49" width="8.47" height="1.76"/>
<rect x="591.81" y="407.42" width="8.47" height="4.83"/>
</g>
<g clip-path="url(#c22)"><path class="dens" d="M494,351 C494.39,350.22 495.46,347.89 496.33,346.34 C497.21,344.78 498.18,342.74 499.25,341.67 C500.32,340.6 501.68,340.02 502.75,339.92 C503.82,339.82 504.79,340.4 505.67,341.09 C506.54,341.77 506.64,341.77 508,344 C509.36,346.24 511.7,350.81 513.83,354.5 C515.97,358.2 518.31,363.25 520.83,366.17 C523.36,369.09 525.7,370.25 529,372 C532.31,373.75 537.17,375.11 540.67,376.67 C544.17,378.23 547.09,379.39 550,381.34 C552.92,383.28 555.45,385.81 558.17,388.34 C560.89,390.87 563.42,394.17 566.34,396.5 C569.25,398.84 572.17,400.98 575.67,402.34 C579.17,403.7 582.67,403.89 587.34,404.67 C592,405.45 600.95,406.62 603.67,407.01"/></g>
<g class="rug">
<line x1="498.62" y1="412.25" x2="498.62" y2="408.95"/>
<line x1="502.85" y1="412.25" x2="502.85" y2="408.95"/>
<line x1="507.09" y1="412.25" x2="507.09" y2="408.95"/>
<line x1="511.32" y1="412.25" x2="511.32" y2="408.95"/>
<line x1="515.56" y1="412.25" x2="515.56" y2="408.95"/>
<line x1="519.8" y1="412.25" x2="519.8" y2="408.95"/>
<line x1="524.03" y1="412.25" x2="524.03" y2="408.95"/>
<line x1="528.27" y1="412.25" x2="528.27" y2="408.95"/>
<line x1="532.51" y1="412.25" x2="532.51" y2="408.95"/>
<line x1="536.74" y1="412.25" x2="536.74" y2="408.95"/>
<line x1="540.98" y1="412.25" x2="540.98" y2="408.95"/>
<line x1="545.21" y1="412.25" x2="545.21" y2="408.95"/>
<line x1="549.45" y1="412.25" x2="549.45" y2="408.95"/>
<line x1="553.69" y1="412.25" x2="553.69" y2="408.95"/>
<line x1="557.92" y1="412.25" x2="557.92" y2="408.95"/>
<line x1="562.16" y1="412.25" x2="562.16" y2="408.95"/>
<line x1="566.39" y1="412.25" x2="566.39" y2="408.95"/>
<line x1="570.63" y1="412.25" x2="570.63" y2="408.95"/>
<line x1="574.87" y1="412.25" x2="574.87" y2="408.95"/>
<line x1="579.1" y1="412.25" x2="579.1" y2="408.95"/>
<line x1="583.34" y1="412.25" x2="583.34" y2="408.95"/>
<line x1="587.57" y1="412.25" x2="587.57" y2="408.95"/>
<line x1="591.81" y1="412.25" x2="591.81" y2="408.95"/>
<line x1="596.05" y1="412.25" x2="596.05" y2="408.95"/>
<line x1="600.28" y1="412.25" x2="600.28" y2="408.95"/>
</g>
<text class="lab" x="549.45" y="324.4">obsessive_passion</text>
<text class="rt" x="672" y="350.75">r&#160;&#160;= 0.71</text>
<text class="rt" x="672" y="382.85">[0.64, 0.76]</text>
<polygon class="stp" points="699.65,322 700.3,323.56 701.98,323.69 700.7,324.79 701.09,326.43 699.65,325.55 698.21,326.43 698.6,324.79 697.32,323.69 699,323.56"/>
<polygon class="stp" points="704.6,322 705.25,323.56 706.93,323.69 705.65,324.79 706.04,326.43 704.6,325.55 703.16,326.43 703.55,324.79 702.27,323.69 703.95,323.56"/>
<polygon class="stp" points="709.55,322 710.2,323.56 711.88,323.69 710.6,324.79 710.99,326.43 709.55,325.55 708.11,326.43 708.5,324.79 707.22,323.69 708.9,323.56"/>
<text class="rt" x="794.55" y="350.75">r&#160;&#160;= 0.45</text>
<text class="rt" x="794.55" y="382.85">[0.35, 0.54]</text>
<polygon class="stp" points="822.2,322 822.85,323.56 824.53,323.69 823.25,324.79 823.64,326.43 822.2,325.55 820.76,326.43 821.15,324.79 819.87,323.69 821.55,323.56"/>
<polygon class="stp" points="827.15,322 827.8,323.56 829.48,323.69 828.2,324.79 828.59,326.43 827.15,325.55 825.71,326.43 826.1,324.79 824.82,323.69 826.5,323.56"/>
<polygon class="stp" points="832.1,322 832.75,323.56 834.43,323.69 833.15,324.79 833.54,326.43 832.1,325.55 830.66,326.43 831.05,324.79 829.77,323.69 831.45,323.56"/>
<text class="rt" x="917.1" y="350.75">r&#160;&#160;= 0.38</text>
<text class="rt" x="917.1" y="382.85">[0.26, 0.48]</text>
<polygon class="stp" points="944.75,322 945.4,323.56 947.08,323.69 945.8,324.79 946.19,326.43 944.75,325.55 943.31,326.43 943.7,324.79 942.42,323.69 944.1,323.56"/>
<polygon class="stp" points="949.7,322 950.35,323.56 952.03,323.69 950.75,324.79 951.14,326.43 949.7,325.55 948.26,326.43 948.65,324.79 947.37,323.69 949.05,323.56"/>
<polygon class="stp" points="954.65,322 955.3,323.56 956.98,323.69 955.7,324.79 956.09,326.43 954.65,325.55 953.21,326.43 953.6,324.79 952.32,323.69 954,323.56"/>
<text class="rt" x="1039.65" y="350.75">r&#160;&#160;= 0.46</text>
<text class="rt" x="1039.65" y="382.85">[0.36, 0.55]</text>
<polygon class="stp" points="1067.3,322 1067.95,323.56 1069.63,323.69 1068.35,324.79 1068.74,326.43 1067.3,325.55 1065.86,326.43 1066.25,324.79 1064.97,323.69 1066.65,323.56"/>
<polygon class="stp" points="1072.25,322 1072.9,323.56 1074.58,323.69 1073.3,324.79 1073.69,326.43 1072.25,325.55 1070.81,326.43 1071.2,324.79 1069.92,323.69 1071.6,323.56"/>
<polygon class="stp" points="1077.2,322 1077.85,323.56 1079.53,323.69 1078.25,324.79 1078.64,326.43 1077.2,325.55 1075.76,326.43 1076.15,324.79 1074.87,323.69 1076.55,323.56"/>
<g class="pt">
<circle cx="253.25" cy="428.9" r="2.1"/>
<circle cx="256.17" cy="428.9" r="2.1"/>
<circle cx="270.75" cy="428.9" r="2.1"/>
<circle cx="282.42" cy="428.9" r="2.1"/>
<circle cx="291.17" cy="428.9" r="2.1"/>
<circle cx="340.75" cy="428.9" r="2.1"/>
<circle cx="253.25" cy="433.1" r="2.1"/>
<circle cx="291.17" cy="433.1" r="2.1"/>
<circle cx="332" cy="437.42" r="2.1"/>
<circle cx="332" cy="441.73" r="2.1"/>
<circle cx="253.25" cy="441.73" r="2.1"/>
<circle cx="253.25" cy="445.82" r="2.1"/>
<circle cx="256.17" cy="445.82" r="2.1"/>
<circle cx="279.5" cy="445.82" r="2.1"/>
<circle cx="320.34" cy="445.82" r="2.1"/>
<circle cx="340.75" cy="445.82" r="2.1"/>
<circle cx="256.17" cy="449.9" r="2.1"/>
<circle cx="270.75" cy="449.9" r="2.1"/>
<circle cx="340.75" cy="449.9" r="2.1"/>
<circle cx="253.25" cy="454.33" r="2.1"/>
<circle cx="256.17" cy="454.33" r="2.1"/>
<circle cx="320.34" cy="454.33" r="2.1"/>
<circle cx="253.25" cy="458.65" r="2.1"/>
<circle cx="285.34" cy="458.65" r="2.1"/>
<circle cx="299.92" cy="458.65" r="2.1"/>
<circle cx="323.25" cy="458.65" r="2.1"/>
<circle cx="279.5" cy="462.74" r="2.1"/>
<circle cx="291.17" cy="462.74" r="2.1"/>
<circle cx="299.92" cy="462.74" r="2.1"/>
<circle cx="308.67" cy="462.74" r="2.1"/>
<circle cx="320.34" cy="462.74" r="2.1"/>
<circle cx="323.25" cy="462.74" r="2.1"/>
<circle cx="253.25" cy="467.17" r="2.1"/>
<circle cx="262" cy="467.17" r="2.1"/>
<circle cx="267.83" cy="467.17" r="2.1"/>
<circle cx="276.58" cy="467.17" r="2.1"/>
<circle cx="288.25" cy="467.17" r="2.1"/>
<circle cx="311.59" cy="467.17" r="2.1"/>
<circle cx="253.25" cy="471.25" r="2.1"/>
<circle cx="256.17" cy="471.25" r="2.1"/>
<circle cx="288.25" cy="471.25" r="2.1"/>
<circle cx="297" cy="471.25" r="2.1"/>
<circle cx="314.5" cy="471.25" r="2.1"/>
<circle cx="332" cy="471.25" r="2.1"/>
<circle cx="253.25" cy="475.34" r="2.1"/>
<circle cx="259.08" cy="475.34" r="2.1"/>
<circle cx="264.92" cy="475.34" r="2.1"/>
<circle cx="288.25" cy="475.34" r="2.1"/>
<circle cx="253.25" cy="479.65" r="2.1"/>
<circle cx="256.17" cy="479.65" r="2.1"/>
<circle cx="259.08" cy="479.65" r="2.1"/>
<circle cx="285.34" cy="479.65" r="2.1"/>
<circle cx="288.25" cy="479.65" r="2.1"/>
<circle cx="291.17" cy="479.65" r="2.1"/>
<circle cx="294.09" cy="479.65" r="2.1"/>
<circle cx="297" cy="479.65" r="2.1"/>
<circle cx="305.75" cy="479.65" r="2.1"/>
<circle cx="355.11" cy="479.65" r="2.1"/>
<circle cx="253.25" cy="484.09" r="2.1"/>
<circle cx="256.17" cy="484.09" r="2.1"/>
<circle cx="262" cy="484.09" r="2.1"/>
<circle cx="264.92" cy="484.09" r="2.1"/>
<circle cx="270.75" cy="484.09" r="2.1"/>
<circle cx="273.67" cy="484.09" r="2.1"/>
<circle cx="285.34" cy="484.09" r="2.1"/>
<circle cx="253.25" cy="488.17" r="2.1"/>
<circle cx="256.17" cy="488.17" r="2.1"/>
<circle cx="259.08" cy="488.17" r="2.1"/>
<circle cx="264.92" cy="488.17" r="2.1"/>
<circle cx="285.34" cy="488.17" r="2.1"/>
<circle cx="288.25" cy="488.17" r="2.1"/>
<circle cx="297" cy="488.17" r="2.1"/>
<circle cx="253.25" cy="492.49" r="2.1"/>
<circle cx="262" cy="492.49" r="2.1"/>
<circle cx="282.42" cy="492.49" r="2.1"/>
<circle cx="288.25" cy="492.49" r="2.1"/>
<circle cx="291.17" cy="492.49" r="2.1"/>
<circle cx="294.09" cy="492.49" r="2.1"/>
<circle cx="253.25" cy="496.92" r="2.1"/>
<circle cx="256.17" cy="496.92" r="2.1"/>
<circle cx="262" cy="496.92" r="2.1"/>
<circle cx="264.92" cy="496.92" r="2.1"/>
<circle cx="276.58" cy="496.92" r="2.1"/>
<circle cx="279.5" cy="496.92" r="2.1"/>
<circle cx="288.25" cy="496.92" r="2.1"/>
<circle cx="346.59" cy="496.92" r="2.1"/>
<circle cx="355.11" cy="496.92" r="2.1"/>
<circle cx="253.25" cy="501" r="2.1"/>
<circle cx="267.83" cy="501" r="2.1"/>
<circle cx="288.25" cy="501" r="2.1"/>
<circle cx="297" cy="501" r="2.1"/>
<circle cx="302.84" cy="501" r="2.1"/>
<circle cx="253.25" cy="505.32" r="2.1"/>
<circle cx="256.17" cy="505.32" r="2.1"/>
<circle cx="259.08" cy="505.32" r="2.1"/>
<circle cx="276.58" cy="505.32" r="2.1"/>
<circle cx="279.5" cy="505.32" r="2.1"/>
<circle cx="253.25" cy="509.4" r="2.1"/>
<circle cx="253.25" cy="513.84" r="2.1"/>
<circle cx="256.17" cy="513.84" r="2.1"/>
<circle cx="267.83" cy="513.84" r="2.1"/>
<circle cx="355.11" cy="513.84" r="2.1"/>
<circle cx="253.25" cy="517.92" r="2.1"/>
<circle cx="264.92" cy="517.92" r="2.1"/>
<circle cx="297" cy="517.92" r="2.1"/>
<circle cx="253.25" cy="522.24" r="2.1"/>
<circle cx="273.67" cy="522.24" r="2.1"/>
<circle cx="253.25" cy="526.44" r="2.1"/>
<circle cx="253.25" cy="530.41" r="2.1"/>
</g>
<g clip-path="url(#c30)"><path class="lo" d="M253.25,497.5 C253.44,496.14 253.93,491.86 254.42,489.34 C254.9,486.81 255.88,483.5 256.17,482.34 C256.65,482.82 258.11,484.32 259.08,485.25 C260.06,486.19 260.93,487.55 262,487.94 C263.07,488.33 263.95,488.03 265.5,487.59 C267.06,487.14 269,486.03 271.33,485.25 C273.67,484.48 276.78,483.7 279.5,482.92 C282.22,482.14 285.14,481.56 287.67,480.59 C290.2,479.61 292.53,478.35 294.67,477.09 C296.81,475.82 298.56,474.17 300.5,473 C302.45,471.84 304.59,470.77 306.34,470.09 C308.09,469.41 308.67,469.25 311,468.92 C313.34,468.59 317.23,468.49 320.34,468.1 C323.45,467.71 326.17,467.23 329.67,466.59 C333.17,465.94 337.1,465.03 341.34,464.25 C345.58,463.47 352.81,462.31 355.11,461.92"/></g>
<g class="pt">
<circle cx="434" cy="428.9" r="2.1"/>
<circle cx="450.92" cy="428.9" r="2.1"/>
<circle cx="453.25" cy="428.9" r="2.1"/>
<circle cx="455.59" cy="428.9" r="2.1"/>
<circle cx="463.17" cy="428.9" r="2.1"/>
<circle cx="438.67" cy="433.1" r="2.1"/>
<circle cx="441" cy="433.1" r="2.1"/>
<circle cx="456.17" cy="437.42" r="2.1"/>
<circle cx="419.42" cy="441.73" r="2.1"/>
<circle cx="446.25" cy="441.73" r="2.1"/>
<circle cx="448.59" cy="441.73" r="2.1"/>
<circle cx="412.42" cy="445.82" r="2.1"/>
<circle cx="434" cy="445.82" r="2.1"/>
<circle cx="443.92" cy="445.82" r="2.1"/>
<circle cx="456.17" cy="445.82" r="2.1"/>
<circle cx="460.84" cy="445.82" r="2.1"/>
<circle cx="414.75" cy="449.9" r="2.1"/>
<circle cx="436.34" cy="449.9" r="2.1"/>
<circle cx="438.67" cy="449.9" r="2.1"/>
<circle cx="453.25" cy="449.9" r="2.1"/>
<circle cx="376.02" cy="454.33" r="2.1"/>
<circle cx="431.67" cy="454.33" r="2.1"/>
<circle cx="450.92" cy="454.33" r="2.1"/>
<circle cx="376.02" cy="458.65" r="2.1"/>
<circle cx="390.25" cy="458.65" r="2.1"/>
<circle cx="395.5" cy="458.65" r="2.1"/>
<circle cx="402.5" cy="458.65" r="2.1"/>
<circle cx="412.42" cy="458.65" r="2.1"/>
<circle cx="421.75" cy="458.65" r="2.1"/>
<circle cx="427" cy="458.65" r="2.1"/>
<circle cx="434" cy="458.65" r="2.1"/>
<circle cx="412.42" cy="462.74" r="2.1"/>
<circle cx="417.09" cy="462.74" r="2.1"/>
<circle cx="429.34" cy="462.74" r="2.1"/>
<circle cx="436.34" cy="462.74" r="2.1"/>
<circle cx="438.67" cy="462.74" r="2.1"/>
<circle cx="456.17" cy="462.74" r="2.1"/>
<circle cx="376.02" cy="467.17" r="2.1"/>
<circle cx="390.25" cy="467.17" r="2.1"/>
<circle cx="402.5" cy="467.17" r="2.1"/>
<circle cx="431.67" cy="467.17" r="2.1"/>
<circle cx="434" cy="467.17" r="2.1"/>
<circle cx="450.92" cy="467.17" r="2.1"/>
<circle cx="458.5" cy="467.17" r="2.1"/>
<circle cx="397.83" cy="471.25" r="2.1"/>
<circle cx="400.17" cy="471.25" r="2.1"/>
<circle cx="412.42" cy="471.25" r="2.1"/>
<circle cx="431.67" cy="471.25" r="2.1"/>
<circle cx="434" cy="471.25" r="2.1"/>
<circle cx="436.34" cy="471.25" r="2.1"/>
<circle cx="438.67" cy="471.25" r="2.1"/>
<circle cx="448.59" cy="471.25" r="2.1"/>
<circle cx="378" cy="475.34" r="2.1"/>
<circle cx="385.58" cy="475.34" r="2.1"/>
<circle cx="390.25" cy="475.34" r="2.1"/>
<circle cx="392.58" cy="475.34" r="2.1"/>
<circle cx="397.83" cy="475.34" r="2.1"/>
<circle cx="400.17" cy="475.34" r="2.1"/>
<circle cx="412.42" cy="475.34" r="2.1"/>
<circle cx="424.67" cy="475.34" r="2.1"/>
<circle cx="376.02" cy="479.65" r="2.1"/>
<circle cx="378" cy="479.65" r="2.1"/>
<circle cx="383.25" cy="479.65" r="2.1"/>
<circle cx="387.92" cy="479.65" r="2.1"/>
<circle cx="390.25" cy="479.65" r="2.1"/>
<circle cx="395.5" cy="479.65" r="2.1"/>
<circle cx="402.5" cy="479.65" r="2.1"/>
<circle cx="412.42" cy="479.65" r="2.1"/>
<circle cx="417.09" cy="479.65" r="2.1"/>
<circle cx="419.42" cy="479.65" r="2.1"/>
<circle cx="429.34" cy="479.65" r="2.1"/>
<circle cx="436.34" cy="479.65" r="2.1"/>
<circle cx="453.25" cy="479.65" r="2.1"/>
<circle cx="477.76" cy="479.65" r="2.1"/>
<circle cx="376.02" cy="484.09" r="2.1"/>
<circle cx="385.58" cy="484.09" r="2.1"/>
<circle cx="387.92" cy="484.09" r="2.1"/>
<circle cx="390.25" cy="484.09" r="2.1"/>
<circle cx="392.58" cy="484.09" r="2.1"/>
<circle cx="395.5" cy="484.09" r="2.1"/>
<circle cx="400.17" cy="484.09" r="2.1"/>
<circle cx="402.5" cy="484.09" r="2.1"/>
<circle cx="404.84" cy="484.09" r="2.1"/>
<circle cx="407.17" cy="484.09" r="2.1"/>
<circle cx="417.09" cy="484.09" r="2.1"/>
<circle cx="419.42" cy="484.09" r="2.1"/>
<circle cx="421.75" cy="484.09" r="2.1"/>
<circle cx="446.25" cy="484.09" r="2.1"/>
<circle cx="463.17" cy="484.09" r="2.1"/>
<circle cx="376.02" cy="488.17" r="2.1"/>
<circle cx="380.92" cy="488.17" r="2.1"/>
<circle cx="383.25" cy="488.17" r="2.1"/>
<circle cx="397.83" cy="488.17" r="2.1"/>
<circle cx="400.17" cy="488.17" r="2.1"/>
<circle cx="402.5" cy="488.17" r="2.1"/>
<circle cx="409.5" cy="488.17" r="2.1"/>
<circle cx="424.67" cy="488.17" r="2.1"/>
<circle cx="429.34" cy="488.17" r="2.1"/>
<circle cx="438.67" cy="488.17" r="2.1"/>
<circle cx="376.02" cy="492.49" r="2.1"/>
<circle cx="380.92" cy="492.49" r="2.1"/>
<circle cx="385.58" cy="492.49" r="2.1"/>
<circle cx="387.92" cy="492.49" r="2.1"/>
<circle cx="390.25" cy="492.49" r="2.1"/>
<circle cx="400.17" cy="492.49" r="2.1"/>
<circle cx="402.5" cy="492.49" r="2.1"/>
<circle cx="404.84" cy="492.49" r="2.1"/>
<circle cx="412.42" cy="492.49" r="2.1"/>
<circle cx="414.75" cy="492.49" r="2.1"/>
<circle cx="380.92" cy="496.92" r="2.1"/>
<circle cx="383.25" cy="496.92" r="2.1"/>
<circle cx="385.58" cy="496.92" r="2.1"/>
<circle cx="390.25" cy="496.92" r="2.1"/>
<circle cx="400.17" cy="496.92" r="2.1"/>
<circle cx="402.5" cy="496.92" r="2.1"/>
<circle cx="404.84" cy="496.92" r="2.1"/>
<circle cx="407.17" cy="496.92" r="2.1"/>
<circle cx="409.5" cy="496.92" r="2.1"/>
<circle cx="412.42" cy="496.92" r="2.1"/>
<circle cx="446.25" cy="496.92" r="2.1"/>
<circle cx="477.76" cy="496.92" r="2.1"/>
<circle cx="376.02" cy="501" r="2.1"/>
<circle cx="380.92" cy="501" r="2.1"/>
<circle cx="387.92" cy="501" r="2.1"/>
<circle cx="390.25" cy="501" r="2.1"/>
<circle cx="400.17" cy="501" r="2.1"/>
<circle cx="402.5" cy="501" r="2.1"/>
<circle cx="410.09" cy="501" r="2.1"/>
<circle cx="417.09" cy="501" r="2.1"/>
<circle cx="427" cy="501" r="2.1"/>
<circle cx="376.02" cy="505.32" r="2.1"/>
<circle cx="378" cy="505.32" r="2.1"/>
<circle cx="390.25" cy="505.32" r="2.1"/>
<circle cx="404.84" cy="505.32" r="2.1"/>
<circle cx="407.17" cy="505.32" r="2.1"/>
<circle cx="409.5" cy="505.32" r="2.1"/>
<circle cx="414.75" cy="505.32" r="2.1"/>
<circle cx="419.42" cy="505.32" r="2.1"/>
<circle cx="424.67" cy="505.32" r="2.1"/>
<circle cx="376.02" cy="509.4" r="2.1"/>
<circle cx="380.92" cy="509.4" r="2.1"/>
<circle cx="385.58" cy="509.4" r="2.1"/>
<circle cx="392.58" cy="509.4" r="2.1"/>
<circle cx="397.83" cy="509.4" r="2.1"/>
<circle cx="400.17" cy="509.4" r="2.1"/>
<circle cx="376.02" cy="513.84" r="2.1"/>
<circle cx="383.25" cy="513.84" r="2.1"/>
<circle cx="385.58" cy="513.84" r="2.1"/>
<circle cx="387.92" cy="513.84" r="2.1"/>
<circle cx="390.25" cy="513.84" r="2.1"/>
<circle cx="434" cy="513.84" r="2.1"/>
<circle cx="477.76" cy="513.84" r="2.1"/>
<circle cx="376.02" cy="517.92" r="2.1"/>
<circle cx="378" cy="517.92" r="2.1"/>
<circle cx="380.92" cy="517.92" r="2.1"/>
<circle cx="383.25" cy="517.92" r="2.1"/>
<circle cx="387.92" cy="517.92" r="2.1"/>
<circle cx="400.17" cy="517.92" r="2.1"/>
<circle cx="424.67" cy="517.92" r="2.1"/>
<circle cx="380.92" cy="522.24" r="2.1"/>
<circle cx="395.5" cy="522.24" r="2.1"/>
<circle cx="448.59" cy="522.24" r="2.1"/>
<circle cx="376.02" cy="526.44" r="2.1"/>
<circle cx="383.25" cy="526.44" r="2.1"/>
<circle cx="376.02" cy="530.41" r="2.1"/>
<circle cx="385.58" cy="530.41" r="2.1"/>
<circle cx="400.17" cy="530.41" r="2.1"/>
<circle cx="407.17" cy="530.41" r="2.1"/>
<circle cx="414.75" cy="530.41" r="2.1"/>
</g>
<g clip-path="url(#c31)"><path class="lo" d="M376.02,507.42 C376.93,506.58 379.81,504.02 381.5,502.4 C383.19,500.79 384.42,499.29 386.17,497.74 C387.92,496.18 390.06,494.24 392,493.07 C393.95,491.9 396.08,491.4 397.83,490.74 C399.58,490.08 400.75,489.82 402.5,489.1 C404.25,488.38 406.59,487.55 408.34,486.42 C410.09,485.29 411.45,483.6 413,482.34 C414.56,481.07 415.92,480.2 417.67,478.84 C419.42,477.47 421.56,475.82 423.5,474.17 C425.45,472.52 427.59,470.38 429.34,468.92 C431.09,467.46 432.06,466.88 434,465.42 C435.95,463.96 438.86,461.82 441,460.17 C443.14,458.52 444.89,457.06 446.84,455.5 C448.78,453.95 450.53,452.39 452.67,450.83 C454.81,449.28 457.14,447.92 459.67,446.17 C462.2,444.42 464.82,442.28 467.84,440.33 C470.85,438.39 476.1,435.47 477.76,434.5"/></g>
<g class="pt">
<circle cx="569.25" cy="428.9" r="2.1"/>
<circle cx="594.57" cy="428.9" r="2.1"/>
<circle cx="600.17" cy="428.9" r="2.1"/>
<circle cx="554.67" cy="433.1" r="2.1"/>
<circle cx="589.09" cy="433.1" r="2.1"/>
<circle cx="591.77" cy="437.42" r="2.1"/>
<circle cx="523.98" cy="441.73" r="2.1"/>
<circle cx="577.42" cy="441.73" r="2.1"/>
<circle cx="583.25" cy="441.73" r="2.1"/>
<circle cx="531.92" cy="445.82" r="2.1"/>
<circle cx="534.84" cy="445.82" r="2.1"/>
<circle cx="548.84" cy="445.82" r="2.1"/>
<circle cx="551.75" cy="445.82" r="2.1"/>
<circle cx="577.42" cy="445.82" r="2.1"/>
<circle cx="597.26" cy="445.82" r="2.1"/>
<circle cx="509.75" cy="449.9" r="2.1"/>
<circle cx="574.5" cy="449.9" r="2.1"/>
<circle cx="583.25" cy="449.9" r="2.1"/>
<circle cx="586.17" cy="449.9" r="2.1"/>
<circle cx="506.83" cy="454.33" r="2.1"/>
<circle cx="518.5" cy="454.33" r="2.1"/>
<circle cx="543.59" cy="454.33" r="2.1"/>
<circle cx="509.75" cy="458.65" r="2.1"/>
<circle cx="521.07" cy="458.65" r="2.1"/>
<circle cx="523.98" cy="458.65" r="2.1"/>
<circle cx="526.9" cy="458.65" r="2.1"/>
<circle cx="529.59" cy="458.65" r="2.1"/>
<circle cx="554.67" cy="458.65" r="2.1"/>
<circle cx="563.77" cy="458.65" r="2.1"/>
<circle cx="569.25" cy="458.65" r="2.1"/>
<circle cx="540.67" cy="462.74" r="2.1"/>
<circle cx="554.67" cy="462.74" r="2.1"/>
<circle cx="560.5" cy="462.74" r="2.1"/>
<circle cx="563.77" cy="462.74" r="2.1"/>
<circle cx="566.34" cy="462.74" r="2.1"/>
<circle cx="503.92" cy="467.17" r="2.1"/>
<circle cx="512.67" cy="467.17" r="2.1"/>
<circle cx="523.98" cy="467.17" r="2.1"/>
<circle cx="532.5" cy="467.17" r="2.1"/>
<circle cx="538.1" cy="467.17" r="2.1"/>
<circle cx="554.67" cy="467.17" r="2.1"/>
<circle cx="498.43" cy="471.25" r="2.1"/>
<circle cx="503.92" cy="471.25" r="2.1"/>
<circle cx="512.67" cy="471.25" r="2.1"/>
<circle cx="540.67" cy="471.25" r="2.1"/>
<circle cx="543.59" cy="471.25" r="2.1"/>
<circle cx="554.67" cy="471.25" r="2.1"/>
<circle cx="557.59" cy="471.25" r="2.1"/>
<circle cx="560.5" cy="471.25" r="2.1"/>
<circle cx="563.77" cy="471.25" r="2.1"/>
<circle cx="506.83" cy="475.34" r="2.1"/>
<circle cx="515.58" cy="475.34" r="2.1"/>
<circle cx="521.07" cy="475.34" r="2.1"/>
<circle cx="523.98" cy="475.34" r="2.1"/>
<circle cx="526.9" cy="475.34" r="2.1"/>
<circle cx="538.1" cy="475.34" r="2.1"/>
<circle cx="498.43" cy="479.65" r="2.1"/>
<circle cx="501.23" cy="479.65" r="2.1"/>
<circle cx="503.92" cy="479.65" r="2.1"/>
<circle cx="506.83" cy="479.65" r="2.1"/>
<circle cx="512.67" cy="479.65" r="2.1"/>
<circle cx="535.42" cy="479.65" r="2.1"/>
<circle cx="538.1" cy="479.65" r="2.1"/>
<circle cx="540.67" cy="479.65" r="2.1"/>
<circle cx="543.59" cy="479.65" r="2.1"/>
<circle cx="546.5" cy="479.65" r="2.1"/>
<circle cx="549.42" cy="479.65" r="2.1"/>
<circle cx="554.67" cy="479.65" r="2.1"/>
<circle cx="557.59" cy="479.65" r="2.1"/>
<circle cx="498.43" cy="484.09" r="2.1"/>
<circle cx="501.23" cy="484.09" r="2.1"/>
<circle cx="503.92" cy="484.09" r="2.1"/>
<circle cx="509.75" cy="484.09" r="2.1"/>
<circle cx="515.58" cy="484.09" r="2.1"/>
<circle cx="532.5" cy="484.09" r="2.1"/>
<circle cx="535.42" cy="484.09" r="2.1"/>
<circle cx="538.1" cy="484.09" r="2.1"/>
<circle cx="549.42" cy="484.09" r="2.1"/>
<circle cx="552.1" cy="484.09" r="2.1"/>
<circle cx="557.59" cy="484.09" r="2.1"/>
<circle cx="498.43" cy="488.17" r="2.1"/>
<circle cx="501.23" cy="488.17" r="2.1"/>
<circle cx="503.92" cy="488.17" r="2.1"/>
<circle cx="506.83" cy="488.17" r="2.1"/>
<circle cx="512.67" cy="488.17" r="2.1"/>
<circle cx="521.07" cy="488.17" r="2.1"/>
<circle cx="523.98" cy="488.17" r="2.1"/>
<circle cx="529.59" cy="488.17" r="2.1"/>
<circle cx="549.42" cy="488.17" r="2.1"/>
<circle cx="552.1" cy="488.17" r="2.1"/>
<circle cx="557.59" cy="488.17" r="2.1"/>
<circle cx="498.43" cy="492.49" r="2.1"/>
<circle cx="506.83" cy="492.49" r="2.1"/>
<circle cx="509.75" cy="492.49" r="2.1"/>
<circle cx="523.98" cy="492.49" r="2.1"/>
<circle cx="526.9" cy="492.49" r="2.1"/>
<circle cx="532.5" cy="492.49" r="2.1"/>
<circle cx="535.42" cy="492.49" r="2.1"/>
<circle cx="538.1" cy="492.49" r="2.1"/>
<circle cx="540.67" cy="492.49" r="2.1"/>
<circle cx="498.43" cy="496.92" r="2.1"/>
<circle cx="501.23" cy="496.92" r="2.1"/>
<circle cx="515.58" cy="496.92" r="2.1"/>
<circle cx="518.5" cy="496.92" r="2.1"/>
<circle cx="526.9" cy="496.92" r="2.1"/>
<circle cx="529.59" cy="496.92" r="2.1"/>
<circle cx="532.5" cy="496.92" r="2.1"/>
<circle cx="549.42" cy="496.92" r="2.1"/>
<circle cx="498.43" cy="501" r="2.1"/>
<circle cx="501.23" cy="501" r="2.1"/>
<circle cx="503.92" cy="501" r="2.1"/>
<circle cx="506.83" cy="501" r="2.1"/>
<circle cx="509.75" cy="501" r="2.1"/>
<circle cx="518.5" cy="501" r="2.1"/>
<circle cx="523.98" cy="501" r="2.1"/>
<circle cx="529.59" cy="501" r="2.1"/>
<circle cx="549.42" cy="501" r="2.1"/>
<circle cx="557.59" cy="501" r="2.1"/>
<circle cx="498.43" cy="505.32" r="2.1"/>
<circle cx="501.23" cy="505.32" r="2.1"/>
<circle cx="503.92" cy="505.32" r="2.1"/>
<circle cx="506.83" cy="505.32" r="2.1"/>
<circle cx="509.75" cy="505.32" r="2.1"/>
<circle cx="518.5" cy="505.32" r="2.1"/>
<circle cx="532.5" cy="505.32" r="2.1"/>
<circle cx="498.43" cy="509.4" r="2.1"/>
<circle cx="501.23" cy="509.4" r="2.1"/>
<circle cx="518.5" cy="509.4" r="2.1"/>
<circle cx="526.9" cy="509.4" r="2.1"/>
<circle cx="529.59" cy="509.4" r="2.1"/>
<circle cx="498.43" cy="513.84" r="2.1"/>
<circle cx="503.92" cy="513.84" r="2.1"/>
<circle cx="506.83" cy="513.84" r="2.1"/>
<circle cx="512.67" cy="513.84" r="2.1"/>
<circle cx="521.07" cy="513.84" r="2.1"/>
<circle cx="526.9" cy="513.84" r="2.1"/>
<circle cx="529.59" cy="513.84" r="2.1"/>
<circle cx="535.42" cy="513.84" r="2.1"/>
<circle cx="498.43" cy="517.92" r="2.1"/>
<circle cx="503.92" cy="517.92" r="2.1"/>
<circle cx="552.1" cy="517.92" r="2.1"/>
<circle cx="498.43" cy="522.24" r="2.1"/>
<circle cx="501.23" cy="522.24" r="2.1"/>
<circle cx="523.98" cy="522.24" r="2.1"/>
<circle cx="498.43" cy="526.44" r="2.1"/>
<circle cx="498.43" cy="530.41" r="2.1"/>
<circle cx="503.92" cy="530.41" r="2.1"/>
<circle cx="512.67" cy="530.41" r="2.1"/>
<circle cx="518.5" cy="530.41" r="2.1"/>
</g>
<g clip-path="url(#c32)"><path class="lo" d="M498.43,504.27 C499.25,503.43 501.54,500.96 503.33,499.25 C505.12,497.54 507.22,495.5 509.17,494 C511.11,492.51 513.45,490.89 515,490.27 C516.56,489.65 516.95,490.52 518.5,490.27 C520.06,490.02 522.58,489.3 524.33,488.75 C526.08,488.21 527.25,487.78 529,487 C530.75,486.23 532.89,485.06 534.84,484.09 C536.78,483.11 538.72,482.2 540.67,481.17 C542.61,480.14 544.56,479.26 546.5,477.9 C548.45,476.54 550.39,474.69 552.34,473 C554.28,471.31 556.23,469.5 558.17,467.75 C560.11,466 562.06,464.15 564,462.5 C565.95,460.85 567.89,459.49 569.84,457.84 C571.78,456.18 573.53,454.43 575.67,452.58 C577.81,450.74 580.34,448.89 582.67,446.75 C585,444.61 586.75,442.38 589.67,439.75 C592.59,437.13 598.42,432.46 600.17,431"/></g>
<g class="bar">
<rect x="621.17" y="507.13" width="8.47" height="27.67"/>
<rect x="629.64" y="482.32" width="8.47" height="52.48"/>
<rect x="638.11" y="487.59" width="8.47" height="47.21"/>
<rect x="646.58" y="473.9" width="8.47" height="60.9"/>
<rect x="655.06" y="472.07" width="8.47" height="62.73"/>
<rect x="663.53" y="461.6" width="8.47" height="73.2"/>
<rect x="672" y="503.62" width="8.47" height="31.18"/>
<rect x="680.47" y="510.28" width="8.47" height="24.52"/>
<rect x="688.94" y="512.11" width="8.47" height="22.69"/>
<rect x="697.42" y="515.62" width="8.47" height="19.18"/>
<rect x="705.89" y="527.63" width="8.47" height="7.17"/>
<rect x="714.36" y="519.43" width="8.47" height="15.37"/>
</g>
<g clip-path="url(#c33)"><path class="dens" d="M617.17,521.42 C618.14,519.96 621.06,515.69 623,512.67 C624.94,509.66 626.89,506.64 628.83,503.34 C630.78,500.03 632.72,496.53 634.67,492.84 C636.61,489.14 638.56,484.48 640.5,481.17 C642.45,477.86 644.39,475.53 646.33,473 C648.28,470.47 650.03,467.91 652.17,466 C654.31,464.1 657.22,462.25 659.17,461.57 C661.11,460.89 662.28,460.99 663.84,461.92 C665.39,462.85 666.95,465.13 668.5,467.17 C670.06,469.21 671.61,471.64 673.17,474.17 C674.73,476.7 676.09,479.42 677.84,482.34 C679.59,485.25 681.53,488.56 683.67,491.67 C685.81,494.78 688.34,498.09 690.67,501 C693,503.92 695.34,506.84 697.67,509.17 C700,511.5 702.34,513.25 704.67,515 C707,516.75 709.34,518.21 711.67,519.67 C714,521.13 716.24,522.49 718.67,523.75 C721.1,525.02 724.99,526.67 726.26,527.26"/></g>
<g class="rug">
<line x1="621.17" y1="534.8" x2="621.17" y2="531.5"/>
<line x1="625.4" y1="534.8" x2="625.4" y2="531.5"/>
<line x1="629.64" y1="534.8" x2="629.64" y2="531.5"/>
<line x1="633.87" y1="534.8" x2="633.87" y2="531.5"/>
<line x1="638.11" y1="534.8" x2="638.11" y2="531.5"/>
<line x1="642.35" y1="534.8" x2="642.35" y2="531.5"/>
<line x1="646.58" y1="534.8" x2="646.58" y2="531.5"/>
<line x1="650.82" y1="534.8" x2="650.82" y2="531.5"/>
<line x1="655.06" y1="534.8" x2="655.06" y2="531.5"/>
<line x1="659.29" y1="534.8" x2="659.29" y2="531.5"/>
<line x1="663.53" y1="534.8" x2="663.53" y2="531.5"/>
<line x1="667.76" y1="534.8" x2="667.76" y2="531.5"/>
<line x1="672" y1="534.8" x2="672" y2="531.5"/>
<line x1="676.24" y1="534.8" x2="676.24" y2="531.5"/>
<line x1="680.47" y1="534.8" x2="680.47" y2="531.5"/>
<line x1="684.71" y1="534.8" x2="684.71" y2="531.5"/>
<line x1="688.94" y1="534.8" x2="688.94" y2="531.5"/>
<line x1="693.18" y1="534.8" x2="693.18" y2="531.5"/>
<line x1="697.42" y1="534.8" x2="697.42" y2="531.5"/>
<line x1="701.65" y1="534.8" x2="701.65" y2="531.5"/>
<line x1="705.89" y1="534.8" x2="705.89" y2="531.5"/>
<line x1="710.12" y1="534.8" x2="710.12" y2="531.5"/>
<line x1="714.36" y1="534.8" x2="714.36" y2="531.5"/>
<line x1="718.6" y1="534.8" x2="718.6" y2="531.5"/>
<line x1="722.83" y1="534.8" x2="722.83" y2="531.5"/>
</g>
<text class="lab" x="672" y="446.95">commitment_passion</text>
<text class="rt" x="794.55" y="473.3">r&#160;&#160;= 0.31</text>
<text class="rt" x="794.55" y="505.4">[0.2, 0.42]</text>
<polygon class="stp" points="822.2,444.55 822.85,446.11 824.53,446.24 823.25,447.34 823.64,448.98 822.2,448.1 820.76,448.98 821.15,447.34 819.87,446.24 821.55,446.11"/>
<polygon class="stp" points="827.15,444.55 827.8,446.11 829.48,446.24 828.2,447.34 828.59,448.98 827.15,448.1 825.71,448.98 826.1,447.34 824.82,446.24 826.5,446.11"/>
<polygon class="stp" points="832.1,444.55 832.75,446.11 834.43,446.24 833.15,447.34 833.54,448.98 832.1,448.1 830.66,448.98 831.05,447.34 829.77,446.24 831.45,446.11"/>
<text class="rt" x="917.1" y="473.3">r&#160;&#160;= 0.58</text>
<text class="rt" x="917.1" y="505.4">[0.49, 0.66]</text>
<polygon class="stp" points="944.75,444.55 945.4,446.11 947.08,446.24 945.8,447.34 946.19,448.98 944.75,448.1 943.31,448.98 943.7,447.34 942.42,446.24 944.1,446.11"/>
<polygon class="stp" points="949.7,444.55 950.35,446.11 952.03,446.24 950.75,447.34 951.14,448.98 949.7,448.1 948.26,448.98 948.65,447.34 947.37,446.24 949.05,446.11"/>
<polygon class="stp" points="954.65,444.55 955.3,446.11 956.98,446.24 955.7,447.34 956.09,448.98 954.65,448.1 953.21,448.98 953.6,447.34 952.32,446.24 954,446.11"/>
<text class="rt" x="1039.65" y="473.3">r&#160;&#160;= 0.55</text>
<text class="rt" x="1039.65" y="505.4">[0.45, 0.63]</text>
<polygon class="stp" points="1067.3,444.55 1067.95,446.11 1069.63,446.24 1068.35,447.34 1068.74,448.98 1067.3,448.1 1065.86,448.98 1066.25,447.34 1064.97,446.24 1066.65,446.11"/>
<polygon class="stp" points="1072.25,444.55 1072.9,446.11 1074.58,446.24 1073.3,447.34 1073.69,448.98 1072.25,448.1 1070.81,448.98 1071.2,447.34 1069.92,446.24 1071.6,446.11"/>
<polygon class="stp" points="1077.2,444.55 1077.85,446.11 1079.53,446.24 1078.25,447.34 1078.64,448.98 1077.2,448.1 1075.76,448.98 1076.15,447.34 1074.87,446.24 1076.55,446.11"/>
<g class="pt">
<circle cx="340.52" cy="551.6" r="2.1"/>
<circle cx="291.17" cy="558.25" r="2.1"/>
<circle cx="297" cy="562.33" r="2.1"/>
<circle cx="285.34" cy="570.5" r="2.1"/>
<circle cx="314.5" cy="571.67" r="2.1"/>
<circle cx="323.25" cy="569.1" r="2.1"/>
<circle cx="253.25" cy="575.4" r="2.1"/>
<circle cx="256.17" cy="576.92" r="2.1"/>
<circle cx="285.34" cy="578.43" r="2.1"/>
<circle cx="332" cy="576.92" r="2.1"/>
<circle cx="320.34" cy="581" r="2.1"/>
<circle cx="291.17" cy="586.25" r="2.1"/>
<circle cx="297" cy="586.25" r="2.1"/>
<circle cx="294.09" cy="589.17" r="2.1"/>
<circle cx="323.25" cy="589.17" r="2.1"/>
<circle cx="332" cy="589.17" r="2.1"/>
<circle cx="256.17" cy="593.25" r="2.1"/>
<circle cx="259.08" cy="593.25" r="2.1"/>
<circle cx="285.34" cy="594.19" r="2.1"/>
<circle cx="291.17" cy="597.1" r="2.1"/>
<circle cx="311.59" cy="598.5" r="2.1"/>
<circle cx="299.92" cy="601.07" r="2.1"/>
<circle cx="282.42" cy="603.75" r="2.1"/>
<circle cx="299.92" cy="607.84" r="2.1"/>
<circle cx="288.25" cy="611.92" r="2.1"/>
<circle cx="320.34" cy="611.92" r="2.1"/>
<circle cx="297" cy="616" r="2.1"/>
<circle cx="270.75" cy="617.17" r="2.1"/>
<circle cx="282.42" cy="619.74" r="2.1"/>
<circle cx="291.17" cy="619.74" r="2.1"/>
<circle cx="332" cy="618.57" r="2.1"/>
<circle cx="264.92" cy="622.65" r="2.1"/>
<circle cx="294.09" cy="622.65" r="2.1"/>
<circle cx="270.75" cy="623.94" r="2.1"/>
<circle cx="276.58" cy="623.94" r="2.1"/>
<circle cx="308.67" cy="625.34" r="2.1"/>
<circle cx="276.58" cy="627.67" r="2.1"/>
<circle cx="270.75" cy="629.07" r="2.1"/>
<circle cx="288.25" cy="627.67" r="2.1"/>
<circle cx="288.25" cy="630" r="2.1"/>
<circle cx="297" cy="629.07" r="2.1"/>
<circle cx="302.84" cy="629.07" r="2.1"/>
<circle cx="288.25" cy="632.92" r="2.1"/>
<circle cx="297" cy="634.67" r="2.1"/>
<circle cx="279.5" cy="634.44" r="2.1"/>
<circle cx="259.08" cy="634.67" r="2.1"/>
<circle cx="264.92" cy="637" r="2.1"/>
<circle cx="273.67" cy="638.75" r="2.1"/>
<circle cx="276.58" cy="638.75" r="2.1"/>
<circle cx="279.5" cy="640.5" r="2.1"/>
<circle cx="305.75" cy="639.92" r="2.1"/>
<circle cx="340.52" cy="638.75" r="2.1"/>
<circle cx="346.59" cy="638.75" r="2.1"/>
<circle cx="267.83" cy="641.67" r="2.1"/>
<circle cx="264.92" cy="642.84" r="2.1"/>
<circle cx="267.83" cy="645.17" r="2.1"/>
<circle cx="273.67" cy="645.4" r="2.1"/>
<circle cx="279.5" cy="645.4" r="2.1"/>
<circle cx="285.34" cy="643.42" r="2.1"/>
<circle cx="288.25" cy="642.6" r="2.1"/>
<circle cx="285.34" cy="646.34" r="2.1"/>
<circle cx="288.25" cy="645.17" r="2.1"/>
<circle cx="320.34" cy="645.4" r="2.1"/>
<circle cx="340.52" cy="644" r="2.1"/>
<circle cx="355.11" cy="643.42" r="2.1"/>
<circle cx="355.11" cy="646.11" r="2.1"/>
<circle cx="355.11" cy="649.26" r="2.1"/>
<circle cx="355.11" cy="652.17" r="2.1"/>
<circle cx="291.17" cy="651.94" r="2.1"/>
<circle cx="264.92" cy="649.26" r="2.1"/>
<circle cx="259.08" cy="653.34" r="2.1"/>
<circle cx="256.17" cy="653.34" r="2.1"/>
<circle cx="259.08" cy="648.67" r="2.1"/>
<circle cx="259.08" cy="639.34" r="2.1"/>
<circle cx="262" cy="639.34" r="2.1"/>
<circle cx="262" cy="642.84" r="2.1"/>
<circle cx="262" cy="646.34" r="2.1"/>
<circle cx="253.25" cy="610.17" r="2.1"/>
<circle cx="253.25" cy="612.5" r="2.1"/>
<circle cx="253.25" cy="614.84" r="2.1"/>
<circle cx="253.25" cy="617.17" r="2.1"/>
<circle cx="253.25" cy="619.5" r="2.1"/>
<circle cx="253.25" cy="621.84" r="2.1"/>
<circle cx="253.25" cy="624.17" r="2.1"/>
<circle cx="253.25" cy="626.5" r="2.1"/>
<circle cx="253.25" cy="628.84" r="2.1"/>
<circle cx="253.25" cy="631.17" r="2.1"/>
<circle cx="253.25" cy="633.5" r="2.1"/>
<circle cx="253.25" cy="635.84" r="2.1"/>
<circle cx="253.25" cy="638.17" r="2.1"/>
<circle cx="253.25" cy="640.5" r="2.1"/>
<circle cx="253.25" cy="642.84" r="2.1"/>
<circle cx="253.25" cy="645.17" r="2.1"/>
<circle cx="253.25" cy="647.51" r="2.1"/>
<circle cx="253.25" cy="649.84" r="2.1"/>
<circle cx="253.25" cy="652.17" r="2.1"/>
<circle cx="256.17" cy="618.34" r="2.1"/>
<circle cx="256.17" cy="625.92" r="2.1"/>
<circle cx="256.17" cy="634.67" r="2.1"/>
<circle cx="256.17" cy="637" r="2.1"/>
<circle cx="256.17" cy="639.34" r="2.1"/>
<circle cx="256.17" cy="641.67" r="2.1"/>
<circle cx="256.17" cy="644" r="2.1"/>
<circle cx="256.17" cy="646.34" r="2.1"/>
<circle cx="256.17" cy="648.67" r="2.1"/>
<circle cx="256.17" cy="651.01" r="2.1"/>
</g>
<g clip-path="url(#c40)"><path class="lo" d="M253.25,642.84 C253.93,642.64 255.97,641.9 257.33,641.67 C258.69,641.44 260.06,641.92 261.42,641.44 C262.78,640.95 263.85,639.59 265.5,638.75 C267.15,637.92 269.58,637.1 271.33,636.42 C273.08,635.74 274.25,635.45 276,634.67 C277.75,633.89 279.89,632.69 281.84,631.75 C283.78,630.82 285.53,629.85 287.67,629.07 C289.81,628.29 292.63,627.55 294.67,627.09 C296.71,626.62 298.36,626.33 299.92,626.27 C301.47,626.21 302.54,626.27 304,626.74 C305.46,627.2 306.92,628.23 308.67,629.07 C310.42,629.91 312.17,630.92 314.5,631.75 C316.84,632.59 319.75,633.37 322.67,634.09 C325.59,634.81 328.89,635.39 332,636.07 C335.12,636.75 338.42,637.53 341.34,638.17 C344.25,638.81 347.21,639.38 349.51,639.92 C351.8,640.47 354.17,641.19 355.11,641.44"/></g>
<g class="pt">
<circle cx="460.6" cy="551.6" r="2.1"/>
<circle cx="438.9" cy="558.25" r="2.1"/>
<circle cx="424.32" cy="562.33" r="2.1"/>
<circle cx="417.09" cy="570.5" r="2.1"/>
<circle cx="431.67" cy="571.43" r="2.1"/>
<circle cx="455.94" cy="569.1" r="2.1"/>
<circle cx="375.9" cy="575.4" r="2.1"/>
<circle cx="387.92" cy="576.92" r="2.1"/>
<circle cx="446.25" cy="578.43" r="2.1"/>
<circle cx="448.59" cy="576.92" r="2.1"/>
<circle cx="431.67" cy="581" r="2.1"/>
<circle cx="402.5" cy="586.25" r="2.1"/>
<circle cx="419.42" cy="589.17" r="2.1"/>
<circle cx="434" cy="589.17" r="2.1"/>
<circle cx="436.34" cy="586.25" r="2.1"/>
<circle cx="455.94" cy="589.17" r="2.1"/>
<circle cx="410.09" cy="593.25" r="2.1"/>
<circle cx="410.09" cy="594.42" r="2.1"/>
<circle cx="414.75" cy="593.25" r="2.1"/>
<circle cx="417.09" cy="597.1" r="2.1"/>
<circle cx="450.92" cy="598.5" r="2.1"/>
<circle cx="427" cy="601.07" r="2.1"/>
<circle cx="402.5" cy="603.75" r="2.1"/>
<circle cx="429.34" cy="607.84" r="2.1"/>
<circle cx="460.6" cy="610.52" r="2.1"/>
<circle cx="385.58" cy="613.09" r="2.1"/>
<circle cx="390.25" cy="611.92" r="2.1"/>
<circle cx="412.42" cy="611.92" r="2.1"/>
<circle cx="436.34" cy="611.92" r="2.1"/>
<circle cx="375.9" cy="616" r="2.1"/>
<circle cx="385.58" cy="618.57" r="2.1"/>
<circle cx="392.58" cy="617.17" r="2.1"/>
<circle cx="400.17" cy="617.17" r="2.1"/>
<circle cx="424.32" cy="616" r="2.1"/>
<circle cx="431.67" cy="617.17" r="2.1"/>
<circle cx="446.25" cy="618.57" r="2.1"/>
<circle cx="463.17" cy="619.74" r="2.1"/>
<circle cx="450.92" cy="620.67" r="2.1"/>
<circle cx="453.25" cy="619.74" r="2.1"/>
<circle cx="390.25" cy="622.65" r="2.1"/>
<circle cx="400.17" cy="623.94" r="2.1"/>
<circle cx="402.5" cy="623.94" r="2.1"/>
<circle cx="412.42" cy="622.65" r="2.1"/>
<circle cx="419.42" cy="619.74" r="2.1"/>
<circle cx="424.32" cy="623.94" r="2.1"/>
<circle cx="438.9" cy="625.34" r="2.1"/>
<circle cx="455.94" cy="623.94" r="2.1"/>
<circle cx="450.92" cy="625.34" r="2.1"/>
<circle cx="395.27" cy="626.5" r="2.1"/>
<circle cx="438.9" cy="627.67" r="2.1"/>
<circle cx="448.59" cy="627.67" r="2.1"/>
<circle cx="463.17" cy="626.5" r="2.1"/>
<circle cx="402.5" cy="629.07" r="2.1"/>
<circle cx="410.09" cy="629.07" r="2.1"/>
<circle cx="412.42" cy="630" r="2.1"/>
<circle cx="417.09" cy="629.07" r="2.1"/>
<circle cx="419.42" cy="627.67" r="2.1"/>
<circle cx="431.67" cy="629.07" r="2.1"/>
<circle cx="453.25" cy="629.07" r="2.1"/>
<circle cx="458.27" cy="630.59" r="2.1"/>
<circle cx="434" cy="632.1" r="2.1"/>
<circle cx="390.25" cy="632.1" r="2.1"/>
<circle cx="397.83" cy="632.92" r="2.1"/>
<circle cx="427" cy="634.44" r="2.1"/>
<circle cx="412.42" cy="634.44" r="2.1"/>
<circle cx="441" cy="634.44" r="2.1"/>
<circle cx="448.59" cy="636.07" r="2.1"/>
<circle cx="453.25" cy="636.07" r="2.1"/>
<circle cx="463.17" cy="638.75" r="2.1"/>
<circle cx="429.34" cy="639.92" r="2.1"/>
<circle cx="436.34" cy="639.92" r="2.1"/>
<circle cx="438.9" cy="644" r="2.1"/>
<circle cx="434" cy="645.4" r="2.1"/>
<circle cx="446.25" cy="645.4" r="2.1"/>
<circle cx="450.92" cy="644" r="2.1"/>
<circle cx="455.94" cy="645.4" r="2.1"/>
<circle cx="460.6" cy="645.4" r="2.1"/>
<circle cx="424.32" cy="645.4" r="2.1"/>
<circle cx="427" cy="644" r="2.1"/>
<circle cx="477.76" cy="644" r="2.1"/>
<circle cx="477.76" cy="646.92" r="2.1"/>
<circle cx="477.76" cy="649.84" r="2.1"/>
<circle cx="477.76" cy="652.76" r="2.1"/>
<circle cx="419.42" cy="651.94" r="2.1"/>
<circle cx="434" cy="651.94" r="2.1"/>
<circle cx="434" cy="653.34" r="2.1"/>
<circle cx="443.92" cy="653.11" r="2.1"/>
<circle cx="414.75" cy="649.26" r="2.1"/>
<circle cx="420" cy="641.67" r="2.1"/>
<circle cx="422.34" cy="639.34" r="2.1"/>
<circle cx="421.17" cy="637" r="2.1"/>
<circle cx="375.9" cy="621.84" r="2.1"/>
<circle cx="375.9" cy="624.17" r="2.1"/>
<circle cx="375.9" cy="626.5" r="2.1"/>
<circle cx="375.9" cy="628.84" r="2.1"/>
<circle cx="375.9" cy="631.17" r="2.1"/>
<circle cx="375.9" cy="633.5" r="2.1"/>
<circle cx="376.08" cy="653.28" r="2.1"/>
<circle cx="376.08" cy="650.61" r="2.1"/>
<circle cx="376.08" cy="647.94" r="2.1"/>
<circle cx="376.08" cy="642.59" r="2.1"/>
<circle cx="376.08" cy="639.92" r="2.1"/>
<circle cx="376.08" cy="634.58" r="2.1"/>
<circle cx="378.5" cy="653.28" r="2.1"/>
<circle cx="378.5" cy="650.61" r="2.1"/>
<circle cx="378.5" cy="647.94" r="2.1"/>
<circle cx="378.5" cy="645.26" r="2.1"/>
<circle cx="378.5" cy="642.59" r="2.1"/>
<circle cx="378.5" cy="639.92" r="2.1"/>
<circle cx="378.5" cy="637.25" r="2.1"/>
<circle cx="378.5" cy="631.91" r="2.1"/>
<circle cx="380.92" cy="653.28" r="2.1"/>
<circle cx="380.92" cy="650.61" r="2.1"/>
<circle cx="380.92" cy="647.94" r="2.1"/>
<circle cx="380.92" cy="645.26" r="2.1"/>
<circle cx="380.92" cy="642.59" r="2.1"/>
<circle cx="380.92" cy="634.58" r="2.1"/>
<circle cx="383.34" cy="653.28" r="2.1"/>
<circle cx="383.34" cy="650.61" r="2.1"/>
<circle cx="383.34" cy="647.94" r="2.1"/>
<circle cx="383.34" cy="645.26" r="2.1"/>
<circle cx="383.34" cy="639.92" r="2.1"/>
<circle cx="383.34" cy="634.58" r="2.1"/>
<circle cx="385.76" cy="653.28" r="2.1"/>
<circle cx="385.76" cy="650.61" r="2.1"/>
<circle cx="385.76" cy="647.94" r="2.1"/>
<circle cx="385.76" cy="639.92" r="2.1"/>
<circle cx="385.76" cy="637.25" r="2.1"/>
<circle cx="388.18" cy="653.28" r="2.1"/>
<circle cx="388.18" cy="650.61" r="2.1"/>
<circle cx="388.18" cy="647.94" r="2.1"/>
<circle cx="388.18" cy="645.26" r="2.1"/>
<circle cx="388.18" cy="642.59" r="2.1"/>
<circle cx="388.18" cy="639.92" r="2.1"/>
<circle cx="388.18" cy="634.58" r="2.1"/>
<circle cx="390.6" cy="653.28" r="2.1"/>
<circle cx="390.6" cy="647.94" r="2.1"/>
<circle cx="390.6" cy="645.26" r="2.1"/>
<circle cx="390.6" cy="642.59" r="2.1"/>
<circle cx="390.6" cy="639.92" r="2.1"/>
<circle cx="390.6" cy="637.25" r="2.1"/>
<circle cx="393.02" cy="653.28" r="2.1"/>
<circle cx="393.02" cy="650.61" r="2.1"/>
<circle cx="393.02" cy="647.94" r="2.1"/>
<circle cx="393.02" cy="645.26" r="2.1"/>
<circle cx="393.02" cy="639.92" r="2.1"/>
<circle cx="395.44" cy="653.28" r="2.1"/>
<circle cx="395.44" cy="647.94" r="2.1"/>
<circle cx="395.44" cy="645.26" r="2.1"/>
<circle cx="395.44" cy="639.92" r="2.1"/>
<circle cx="395.44" cy="637.25" r="2.1"/>
<circle cx="395.44" cy="634.58" r="2.1"/>
<circle cx="397.86" cy="653.28" r="2.1"/>
<circle cx="397.86" cy="650.61" r="2.1"/>
<circle cx="397.86" cy="647.94" r="2.1"/>
<circle cx="397.86" cy="645.26" r="2.1"/>
<circle cx="397.86" cy="639.92" r="2.1"/>
<circle cx="397.86" cy="634.58" r="2.1"/>
<circle cx="400.28" cy="653.28" r="2.1"/>
<circle cx="400.28" cy="650.61" r="2.1"/>
<circle cx="400.28" cy="647.94" r="2.1"/>
<circle cx="400.28" cy="645.26" r="2.1"/>
<circle cx="400.28" cy="642.59" r="2.1"/>
<circle cx="400.28" cy="639.92" r="2.1"/>
<circle cx="400.28" cy="634.58" r="2.1"/>
<circle cx="400.28" cy="631.91" r="2.1"/>
<circle cx="402.71" cy="653.28" r="2.1"/>
<circle cx="402.71" cy="650.61" r="2.1"/>
<circle cx="402.71" cy="647.94" r="2.1"/>
<circle cx="402.71" cy="645.26" r="2.1"/>
<circle cx="402.71" cy="642.59" r="2.1"/>
<circle cx="402.71" cy="639.92" r="2.1"/>
<circle cx="405.13" cy="653.28" r="2.1"/>
<circle cx="405.13" cy="650.61" r="2.1"/>
<circle cx="405.13" cy="639.92" r="2.1"/>
<circle cx="407.55" cy="653.28" r="2.1"/>
<circle cx="407.55" cy="650.61" r="2.1"/>
<circle cx="407.55" cy="647.94" r="2.1"/>
<circle cx="407.55" cy="645.26" r="2.1"/>
<circle cx="407.55" cy="639.92" r="2.1"/>
<circle cx="407.55" cy="637.25" r="2.1"/>
<circle cx="409.97" cy="653.28" r="2.1"/>
<circle cx="409.97" cy="645.26" r="2.1"/>
<circle cx="409.97" cy="642.59" r="2.1"/>
<circle cx="412.39" cy="653.28" r="2.1"/>
<circle cx="412.39" cy="650.61" r="2.1"/>
<circle cx="412.39" cy="647.94" r="2.1"/>
<circle cx="412.39" cy="645.26" r="2.1"/>
<circle cx="412.39" cy="642.59" r="2.1"/>
<circle cx="412.39" cy="639.92" r="2.1"/>
<circle cx="412.39" cy="637.25" r="2.1"/>
<circle cx="412.39" cy="631.91" r="2.1"/>
<circle cx="414.81" cy="653.28" r="2.1"/>
<circle cx="414.81" cy="650.61" r="2.1"/>
<circle cx="414.81" cy="647.94" r="2.1"/>
<circle cx="414.81" cy="645.26" r="2.1"/>
<circle cx="414.81" cy="637.25" r="2.1"/>
<circle cx="417.23" cy="650.61" r="2.1"/>
<circle cx="417.23" cy="645.26" r="2.1"/>
<circle cx="417.23" cy="639.92" r="2.1"/>
<circle cx="417.23" cy="634.58" r="2.1"/>
<circle cx="419.65" cy="653.28" r="2.1"/>
<circle cx="419.65" cy="647.94" r="2.1"/>
<circle cx="419.65" cy="645.26" r="2.1"/>
<circle cx="419.65" cy="637.25" r="2.1"/>
<circle cx="422.07" cy="653.28" r="2.1"/>
<circle cx="422.07" cy="645.26" r="2.1"/>
<circle cx="422.07" cy="642.59" r="2.1"/>
</g>
<g clip-path="url(#c41)"><path class="lo" d="M375.9,645.4 C377.03,645.13 380.37,644.3 382.67,643.77 C384.96,643.25 387.33,642.76 389.67,642.25 C392,641.75 394.33,641.19 396.67,640.74 C399,640.29 401.33,639.9 403.67,639.57 C406,639.24 408.34,639.09 410.67,638.75 C413,638.42 415.34,637.98 417.67,637.59 C420,637.2 422.34,636.79 424.67,636.42 C427,636.05 429.34,635.66 431.67,635.37 C434,635.08 436.34,634.87 438.67,634.67 C441,634.48 443.34,634.34 445.67,634.2 C448,634.07 449.95,633.97 452.67,633.85 C455.39,633.74 458.89,633.6 462,633.5 C465.12,633.41 468.71,633.35 471.34,633.27 C473.96,633.19 476.69,633.08 477.76,633.04"/></g>
<g class="pt">
<circle cx="577.42" cy="551.6" r="2.1"/>
<circle cx="589.09" cy="558.25" r="2.1"/>
<circle cx="552.1" cy="562.33" r="2.1"/>
<circle cx="554.67" cy="568.75" r="2.1"/>
<circle cx="557.94" cy="569.92" r="2.1"/>
<circle cx="560.74" cy="571.43" r="2.1"/>
<circle cx="521.07" cy="576.92" r="2.1"/>
<circle cx="549.42" cy="575.75" r="2.1"/>
<circle cx="554.67" cy="576.92" r="2.1"/>
<circle cx="538.1" cy="578.43" r="2.1"/>
<circle cx="543.59" cy="581" r="2.1"/>
<circle cx="532.5" cy="586.25" r="2.1"/>
<circle cx="563.42" cy="586.25" r="2.1"/>
<circle cx="591.77" cy="589.17" r="2.1"/>
<circle cx="549.42" cy="589.17" r="2.1"/>
<circle cx="554.67" cy="589.17" r="2.1"/>
<circle cx="506.83" cy="593.25" r="2.1"/>
<circle cx="532.5" cy="593.25" r="2.1"/>
<circle cx="552.1" cy="594.07" r="2.1"/>
<circle cx="540.67" cy="597.1" r="2.1"/>
<circle cx="554.67" cy="598.5" r="2.1"/>
<circle cx="554.67" cy="601.07" r="2.1"/>
<circle cx="535.07" cy="603.75" r="2.1"/>
<circle cx="554.67" cy="607.84" r="2.1"/>
<circle cx="549.42" cy="610.52" r="2.1"/>
<circle cx="538.1" cy="611.92" r="2.1"/>
<circle cx="566.34" cy="611.92" r="2.1"/>
<circle cx="498.43" cy="611.92" r="2.1"/>
<circle cx="498.43" cy="614.84" r="2.1"/>
<circle cx="498.43" cy="617.17" r="2.1"/>
<circle cx="552.1" cy="616" r="2.1"/>
<circle cx="529.59" cy="618.57" r="2.1"/>
<circle cx="535.07" cy="617.17" r="2.1"/>
<circle cx="538.1" cy="617.17" r="2.1"/>
<circle cx="577.42" cy="619.74" r="2.1"/>
<circle cx="583.25" cy="618.57" r="2.1"/>
<circle cx="600.17" cy="619.74" r="2.1"/>
<circle cx="600.17" cy="623.59" r="2.1"/>
<circle cx="498.43" cy="622.65" r="2.1"/>
<circle cx="506.83" cy="622.65" r="2.1"/>
<circle cx="509.75" cy="622.65" r="2.1"/>
<circle cx="540.67" cy="622.65" r="2.1"/>
<circle cx="515.58" cy="623.94" r="2.1"/>
<circle cx="518.27" cy="623.94" r="2.1"/>
<circle cx="594.57" cy="625.34" r="2.1"/>
<circle cx="560.74" cy="625.34" r="2.1"/>
<circle cx="498.43" cy="626.5" r="2.1"/>
<circle cx="524.1" cy="626.5" r="2.1"/>
<circle cx="543.59" cy="626.5" r="2.1"/>
<circle cx="557.94" cy="627.67" r="2.1"/>
<circle cx="509.75" cy="629.07" r="2.1"/>
<circle cx="529.59" cy="629.07" r="2.1"/>
<circle cx="535.07" cy="629.07" r="2.1"/>
<circle cx="543.59" cy="629.07" r="2.1"/>
<circle cx="549.42" cy="629.07" r="2.1"/>
<circle cx="554.67" cy="630.59" r="2.1"/>
<circle cx="563.42" cy="632.1" r="2.1"/>
<circle cx="569.25" cy="632.1" r="2.1"/>
<circle cx="498.43" cy="630" r="2.1"/>
<circle cx="498.43" cy="632.92" r="2.1"/>
<circle cx="512.67" cy="634.67" r="2.1"/>
<circle cx="515.58" cy="632.92" r="2.1"/>
<circle cx="524.1" cy="632.1" r="2.1"/>
<circle cx="532.5" cy="630.59" r="2.1"/>
<circle cx="538.1" cy="632.92" r="2.1"/>
<circle cx="554.67" cy="634.67" r="2.1"/>
<circle cx="557.94" cy="635.84" r="2.1"/>
<circle cx="574.5" cy="638.75" r="2.1"/>
<circle cx="600.17" cy="638.75" r="2.1"/>
<circle cx="563.42" cy="639.92" r="2.1"/>
<circle cx="577.42" cy="645.4" r="2.1"/>
<circle cx="586.17" cy="643.77" r="2.1"/>
<circle cx="597.26" cy="645.4" r="2.1"/>
<circle cx="583.25" cy="649.26" r="2.1"/>
<circle cx="569.25" cy="650.77" r="2.1"/>
<circle cx="560.74" cy="653.11" r="2.1"/>
<circle cx="557.94" cy="648.09" r="2.1"/>
<circle cx="549.42" cy="639.92" r="2.1"/>
<circle cx="554.67" cy="644" r="2.1"/>
<circle cx="498.6" cy="653.28" r="2.1"/>
<circle cx="498.6" cy="650.61" r="2.1"/>
<circle cx="498.6" cy="647.94" r="2.1"/>
<circle cx="498.6" cy="645.26" r="2.1"/>
<circle cx="498.6" cy="639.92" r="2.1"/>
<circle cx="498.6" cy="634.58" r="2.1"/>
<circle cx="498.6" cy="631.91" r="2.1"/>
<circle cx="501.42" cy="653.28" r="2.1"/>
<circle cx="501.42" cy="650.61" r="2.1"/>
<circle cx="501.42" cy="647.94" r="2.1"/>
<circle cx="501.42" cy="645.26" r="2.1"/>
<circle cx="501.42" cy="642.59" r="2.1"/>
<circle cx="501.42" cy="639.92" r="2.1"/>
<circle cx="501.42" cy="637.25" r="2.1"/>
<circle cx="501.42" cy="634.58" r="2.1"/>
<circle cx="504.24" cy="653.28" r="2.1"/>
<circle cx="504.24" cy="650.61" r="2.1"/>
<circle cx="504.24" cy="647.94" r="2.1"/>
<circle cx="504.24" cy="645.26" r="2.1"/>
<circle cx="504.24" cy="642.59" r="2.1"/>
<circle cx="504.24" cy="639.92" r="2.1"/>
<circle cx="504.24" cy="634.58" r="2.1"/>
<circle cx="504.24" cy="631.91" r="2.1"/>
<circle cx="507.07" cy="653.28" r="2.1"/>
<circle cx="507.07" cy="650.61" r="2.1"/>
<circle cx="507.07" cy="647.94" r="2.1"/>
<circle cx="507.07" cy="645.26" r="2.1"/>
<circle cx="507.07" cy="639.92" r="2.1"/>
<circle cx="507.07" cy="634.58" r="2.1"/>
<circle cx="509.89" cy="653.28" r="2.1"/>
<circle cx="509.89" cy="650.61" r="2.1"/>
<circle cx="509.89" cy="645.26" r="2.1"/>
<circle cx="509.89" cy="639.92" r="2.1"/>
<circle cx="509.89" cy="637.25" r="2.1"/>
<circle cx="509.89" cy="634.58" r="2.1"/>
<circle cx="509.89" cy="631.91" r="2.1"/>
<circle cx="512.71" cy="653.28" r="2.1"/>
<circle cx="512.71" cy="650.61" r="2.1"/>
<circle cx="512.71" cy="647.94" r="2.1"/>
<circle cx="512.71" cy="645.26" r="2.1"/>
<circle cx="512.71" cy="642.59" r="2.1"/>
<circle cx="512.71" cy="639.92" r="2.1"/>
<circle cx="512.71" cy="637.25" r="2.1"/>
<circle cx="512.71" cy="634.58" r="2.1"/>
<circle cx="515.54" cy="653.28" r="2.1"/>
<circle cx="515.54" cy="650.61" r="2.1"/>
<circle cx="515.54" cy="647.94" r="2.1"/>
<circle cx="515.54" cy="645.26" r="2.1"/>
<circle cx="515.54" cy="642.59" r="2.1"/>
<circle cx="515.54" cy="639.92" r="2.1"/>
<circle cx="518.36" cy="653.28" r="2.1"/>
<circle cx="518.36" cy="650.61" r="2.1"/>
<circle cx="518.36" cy="647.94" r="2.1"/>
<circle cx="518.36" cy="645.26" r="2.1"/>
<circle cx="518.36" cy="642.59" r="2.1"/>
<circle cx="518.36" cy="639.92" r="2.1"/>
<circle cx="518.36" cy="637.25" r="2.1"/>
<circle cx="518.36" cy="634.58" r="2.1"/>
<circle cx="521.18" cy="650.61" r="2.1"/>
<circle cx="521.18" cy="647.94" r="2.1"/>
<circle cx="521.18" cy="645.26" r="2.1"/>
<circle cx="521.18" cy="639.92" r="2.1"/>
<circle cx="521.18" cy="637.25" r="2.1"/>
<circle cx="521.18" cy="634.58" r="2.1"/>
<circle cx="524.01" cy="653.28" r="2.1"/>
<circle cx="524.01" cy="650.61" r="2.1"/>
<circle cx="524.01" cy="645.26" r="2.1"/>
<circle cx="524.01" cy="642.59" r="2.1"/>
<circle cx="524.01" cy="637.25" r="2.1"/>
<circle cx="524.01" cy="634.58" r="2.1"/>
<circle cx="524.01" cy="631.91" r="2.1"/>
<circle cx="526.83" cy="653.28" r="2.1"/>
<circle cx="526.83" cy="650.61" r="2.1"/>
<circle cx="526.83" cy="647.94" r="2.1"/>
<circle cx="526.83" cy="645.26" r="2.1"/>
<circle cx="526.83" cy="642.59" r="2.1"/>
<circle cx="526.83" cy="639.92" r="2.1"/>
<circle cx="529.66" cy="650.61" r="2.1"/>
<circle cx="529.66" cy="639.92" r="2.1"/>
<circle cx="529.66" cy="634.58" r="2.1"/>
<circle cx="532.48" cy="653.28" r="2.1"/>
<circle cx="532.48" cy="645.26" r="2.1"/>
<circle cx="532.48" cy="639.92" r="2.1"/>
<circle cx="532.48" cy="631.91" r="2.1"/>
<circle cx="535.3" cy="647.94" r="2.1"/>
<circle cx="535.3" cy="634.58" r="2.1"/>
<circle cx="535.3" cy="631.91" r="2.1"/>
<circle cx="538.13" cy="653.28" r="2.1"/>
<circle cx="538.13" cy="642.59" r="2.1"/>
<circle cx="538.13" cy="639.92" r="2.1"/>
<circle cx="538.13" cy="631.91" r="2.1"/>
<circle cx="540.95" cy="653.28" r="2.1"/>
<circle cx="540.95" cy="650.61" r="2.1"/>
<circle cx="540.95" cy="642.59" r="2.1"/>
<circle cx="540.95" cy="639.92" r="2.1"/>
<circle cx="540.95" cy="634.58" r="2.1"/>
<circle cx="543.77" cy="653.28" r="2.1"/>
<circle cx="543.77" cy="650.61" r="2.1"/>
<circle cx="543.77" cy="647.94" r="2.1"/>
<circle cx="543.77" cy="642.59" r="2.1"/>
<circle cx="543.77" cy="639.92" r="2.1"/>
<circle cx="546.27" cy="645.26" r="2.1"/>
<circle cx="549.09" cy="653.28" r="2.1"/>
<circle cx="549.09" cy="650.61" r="2.1"/>
<circle cx="549.09" cy="645.26" r="2.1"/>
<circle cx="551.92" cy="653.28" r="2.1"/>
<circle cx="551.92" cy="650.61" r="2.1"/>
<circle cx="551.92" cy="647.94" r="2.1"/>
<circle cx="554.74" cy="653.28" r="2.1"/>
</g>
<g clip-path="url(#c42)"><path class="lo" d="M498.43,645.17 C499.64,644.74 502.91,643.58 505.67,642.6 C508.43,641.63 511.89,640.08 515,639.34 C518.11,638.6 521.22,638.46 524.33,638.17 C527.45,637.88 530.56,637.78 533.67,637.59 C536.78,637.39 539.89,637.2 543,637 C546.11,636.81 549.22,636.77 552.34,636.42 C555.45,636.07 558.56,635.43 561.67,634.9 C564.78,634.38 567.89,633.8 571,633.27 C574.12,632.75 577.23,632.26 580.34,631.75 C583.45,631.25 586.37,630.76 589.67,630.24 C592.98,629.71 598.42,628.88 600.17,628.6"/></g>
<g class="pt">
<circle cx="705.84" cy="551.6" r="2.1"/>
<circle cx="718.44" cy="558.25" r="2.1"/>
<circle cx="663.25" cy="562.33" r="2.1"/>
<circle cx="667.69" cy="570.5" r="2.1"/>
<circle cx="680.4" cy="571.43" r="2.1"/>
<circle cx="688.92" cy="569.1" r="2.1"/>
<circle cx="637.93" cy="576.92" r="2.1"/>
<circle cx="663.25" cy="575.75" r="2.1"/>
<circle cx="667.69" cy="578.43" r="2.1"/>
<circle cx="680.4" cy="576.92" r="2.1"/>
<circle cx="697.32" cy="581" r="2.1"/>
<circle cx="659.17" cy="586.25" r="2.1"/>
<circle cx="680.4" cy="586.25" r="2.1"/>
<circle cx="671.89" cy="589.17" r="2.1"/>
<circle cx="693.12" cy="589.17" r="2.1"/>
<circle cx="714.24" cy="589.17" r="2.1"/>
<circle cx="646.45" cy="593.25" r="2.1"/>
<circle cx="663.25" cy="594.07" r="2.1"/>
<circle cx="684.6" cy="598.5" r="2.1"/>
<circle cx="688.92" cy="597.1" r="2.1"/>
<circle cx="693.12" cy="601.07" r="2.1"/>
<circle cx="659.17" cy="603.75" r="2.1"/>
<circle cx="688.92" cy="607.84" r="2.1"/>
<circle cx="688.92" cy="611.92" r="2.1"/>
<circle cx="705.84" cy="610.52" r="2.1"/>
<circle cx="667.69" cy="611.92" r="2.1"/>
<circle cx="671.89" cy="611.92" r="2.1"/>
<circle cx="654.97" cy="613.09" r="2.1"/>
<circle cx="633.73" cy="616" r="2.1"/>
<circle cx="637.93" cy="618.57" r="2.1"/>
<circle cx="642.25" cy="617.17" r="2.1"/>
<circle cx="646.45" cy="616" r="2.1"/>
<circle cx="667.69" cy="617.17" r="2.1"/>
<circle cx="684.6" cy="617.17" r="2.1"/>
<circle cx="710.04" cy="618.57" r="2.1"/>
<circle cx="710.04" cy="619.74" r="2.1"/>
<circle cx="722.76" cy="619.74" r="2.1"/>
<circle cx="722.76" cy="622.42" r="2.1"/>
<circle cx="722.76" cy="625.34" r="2.1"/>
<circle cx="625.33" cy="622.65" r="2.1"/>
<circle cx="629.53" cy="626.5" r="2.1"/>
<circle cx="629.53" cy="627.67" r="2.1"/>
<circle cx="637.93" cy="626.5" r="2.1"/>
<circle cx="646.45" cy="623.94" r="2.1"/>
<circle cx="646.45" cy="627.67" r="2.1"/>
<circle cx="654.97" cy="622.65" r="2.1"/>
<circle cx="654.97" cy="623.94" r="2.1"/>
<circle cx="659.17" cy="622.65" r="2.1"/>
<circle cx="650.65" cy="629.07" r="2.1"/>
<circle cx="663.25" cy="627.67" r="2.1"/>
<circle cx="667.69" cy="626.5" r="2.1"/>
<circle cx="671.89" cy="626.5" r="2.1"/>
<circle cx="671.89" cy="629.07" r="2.1"/>
<circle cx="676.2" cy="623.94" r="2.1"/>
<circle cx="680.4" cy="629.07" r="2.1"/>
<circle cx="684.6" cy="627.67" r="2.1"/>
<circle cx="684.6" cy="630.24" r="2.1"/>
<circle cx="688.92" cy="625.34" r="2.1"/>
<circle cx="697.32" cy="625.34" r="2.1"/>
<circle cx="701.52" cy="629.07" r="2.1"/>
<circle cx="693.12" cy="630.24" r="2.1"/>
<circle cx="693.12" cy="632.34" r="2.1"/>
<circle cx="722.76" cy="632.1" r="2.1"/>
<circle cx="710.04" cy="635.84" r="2.1"/>
<circle cx="718.44" cy="634.67" r="2.1"/>
<circle cx="722.76" cy="638.75" r="2.1"/>
<circle cx="621.02" cy="638.75" r="2.1"/>
<circle cx="625.33" cy="642.6" r="2.1"/>
<circle cx="701.52" cy="638.75" r="2.1"/>
<circle cx="705.84" cy="639.92" r="2.1"/>
<circle cx="697.32" cy="644" r="2.1"/>
<circle cx="701.52" cy="644" r="2.1"/>
<circle cx="705.84" cy="645.4" r="2.1"/>
<circle cx="701.52" cy="649.26" r="2.1"/>
<circle cx="693.12" cy="650.77" r="2.1"/>
<circle cx="705.84" cy="651.59" r="2.1"/>
<circle cx="705.84" cy="653.11" r="2.1"/>
<circle cx="621.02" cy="653.69" r="2.1"/>
<circle cx="621.02" cy="650.12" r="2.1"/>
<circle cx="621.02" cy="648.33" r="2.1"/>
<circle cx="621.02" cy="642.98" r="2.1"/>
<circle cx="621.02" cy="641.19" r="2.1"/>
<circle cx="621.02" cy="639.41" r="2.1"/>
<circle cx="625.33" cy="653.69" r="2.1"/>
<circle cx="625.33" cy="651.9" r="2.1"/>
<circle cx="625.33" cy="648.33" r="2.1"/>
<circle cx="625.33" cy="644.76" r="2.1"/>
<circle cx="625.33" cy="642.98" r="2.1"/>
<circle cx="629.53" cy="653.69" r="2.1"/>
<circle cx="629.53" cy="650.12" r="2.1"/>
<circle cx="629.53" cy="648.33" r="2.1"/>
<circle cx="629.53" cy="646.55" r="2.1"/>
<circle cx="629.53" cy="644.76" r="2.1"/>
<circle cx="633.73" cy="653.69" r="2.1"/>
<circle cx="633.73" cy="651.9" r="2.1"/>
<circle cx="633.73" cy="650.12" r="2.1"/>
<circle cx="633.73" cy="648.33" r="2.1"/>
<circle cx="633.73" cy="646.55" r="2.1"/>
<circle cx="633.73" cy="644.76" r="2.1"/>
<circle cx="633.73" cy="639.41" r="2.1"/>
<circle cx="633.73" cy="635.84" r="2.1"/>
<circle cx="638.05" cy="653.69" r="2.1"/>
<circle cx="638.05" cy="650.12" r="2.1"/>
<circle cx="638.05" cy="644.76" r="2.1"/>
<circle cx="638.05" cy="637.62" r="2.1"/>
<circle cx="642.25" cy="653.69" r="2.1"/>
<circle cx="642.25" cy="650.12" r="2.1"/>
<circle cx="642.25" cy="644.76" r="2.1"/>
<circle cx="642.25" cy="642.98" r="2.1"/>
<circle cx="642.25" cy="641.19" r="2.1"/>
<circle cx="642.25" cy="639.41" r="2.1"/>
<circle cx="642.25" cy="637.62" r="2.1"/>
<circle cx="646.45" cy="653.69" r="2.1"/>
<circle cx="646.45" cy="651.9" r="2.1"/>
<circle cx="646.45" cy="650.12" r="2.1"/>
<circle cx="646.45" cy="642.98" r="2.1"/>
<circle cx="646.45" cy="639.41" r="2.1"/>
<circle cx="646.45" cy="637.62" r="2.1"/>
<circle cx="646.45" cy="635.84" r="2.1"/>
<circle cx="650.77" cy="653.69" r="2.1"/>
<circle cx="650.77" cy="650.12" r="2.1"/>
<circle cx="650.77" cy="646.55" r="2.1"/>
<circle cx="650.77" cy="644.76" r="2.1"/>
<circle cx="650.77" cy="642.98" r="2.1"/>
<circle cx="650.77" cy="641.19" r="2.1"/>
<circle cx="650.77" cy="639.41" r="2.1"/>
<circle cx="650.77" cy="634.05" r="2.1"/>
<circle cx="654.97" cy="653.69" r="2.1"/>
<circle cx="654.97" cy="646.55" r="2.1"/>
<circle cx="654.97" cy="642.98" r="2.1"/>
<circle cx="654.97" cy="634.05" r="2.1"/>
<circle cx="659.17" cy="653.69" r="2.1"/>
<circle cx="659.17" cy="651.9" r="2.1"/>
<circle cx="659.17" cy="648.33" r="2.1"/>
<circle cx="659.17" cy="644.76" r="2.1"/>
<circle cx="659.17" cy="642.98" r="2.1"/>
<circle cx="659.17" cy="641.19" r="2.1"/>
<circle cx="659.17" cy="637.62" r="2.1"/>
<circle cx="659.17" cy="635.84" r="2.1"/>
<circle cx="659.17" cy="634.05" r="2.1"/>
<circle cx="659.17" cy="632.27" r="2.1"/>
<circle cx="663.49" cy="653.69" r="2.1"/>
<circle cx="663.49" cy="644.76" r="2.1"/>
<circle cx="663.49" cy="642.98" r="2.1"/>
<circle cx="663.49" cy="641.19" r="2.1"/>
<circle cx="663.49" cy="639.41" r="2.1"/>
<circle cx="663.49" cy="635.84" r="2.1"/>
<circle cx="667.69" cy="653.69" r="2.1"/>
<circle cx="667.69" cy="651.9" r="2.1"/>
<circle cx="667.69" cy="650.12" r="2.1"/>
<circle cx="667.69" cy="648.33" r="2.1"/>
<circle cx="667.69" cy="646.55" r="2.1"/>
<circle cx="667.69" cy="644.76" r="2.1"/>
<circle cx="667.69" cy="637.62" r="2.1"/>
<circle cx="667.69" cy="635.84" r="2.1"/>
<circle cx="671.89" cy="653.69" r="2.1"/>
<circle cx="671.89" cy="650.12" r="2.1"/>
<circle cx="671.89" cy="648.33" r="2.1"/>
<circle cx="671.89" cy="644.76" r="2.1"/>
<circle cx="671.89" cy="641.19" r="2.1"/>
<circle cx="671.89" cy="639.41" r="2.1"/>
<circle cx="671.89" cy="637.62" r="2.1"/>
<circle cx="671.89" cy="635.84" r="2.1"/>
<circle cx="676.2" cy="653.69" r="2.1"/>
<circle cx="676.2" cy="651.9" r="2.1"/>
<circle cx="676.2" cy="650.12" r="2.1"/>
<circle cx="676.2" cy="648.33" r="2.1"/>
<circle cx="676.2" cy="644.76" r="2.1"/>
<circle cx="676.2" cy="642.98" r="2.1"/>
<circle cx="676.2" cy="641.19" r="2.1"/>
<circle cx="676.2" cy="637.62" r="2.1"/>
<circle cx="680.4" cy="651.01" r="2.1"/>
<circle cx="680.4" cy="647.44" r="2.1"/>
<circle cx="680.4" cy="645.65" r="2.1"/>
<circle cx="680.4" cy="642.08" r="2.1"/>
<circle cx="680.4" cy="638.51" r="2.1"/>
<circle cx="684.6" cy="648.67" r="2.1"/>
<circle cx="684.6" cy="646.89" r="2.1"/>
<circle cx="684.6" cy="645.1" r="2.1"/>
<circle cx="684.6" cy="643.32" r="2.1"/>
<circle cx="688.92" cy="646.34" r="2.1"/>
<circle cx="693.12" cy="646.34" r="2.1"/>
<circle cx="693.12" cy="642.77" r="2.1"/>
<circle cx="693.12" cy="640.98" r="2.1"/>
</g>
<g clip-path="url(#c43)"><path class="lo" d="M621.02,646.57 C622.13,646.34 625,645.7 627.67,645.17 C630.33,644.65 633.89,643.91 637,643.42 C640.11,642.94 643.22,642.59 646.33,642.25 C649.45,641.92 652.56,641.69 655.67,641.44 C658.78,641.19 661.89,641.05 665,640.74 C668.11,640.43 671.22,639.96 674.34,639.57 C677.45,639.18 681.14,638.74 683.67,638.4 C686.2,638.07 687.56,638.11 689.5,637.59 C691.45,637.06 693.2,635.97 695.34,635.25 C697.48,634.53 700,633.85 702.34,633.27 C704.67,632.69 707,632.26 709.34,631.75 C711.67,631.25 714.1,630.72 716.34,630.24 C718.57,629.75 721.69,629.07 722.76,628.84"/></g>
<g class="bar">
<rect x="743.72" y="584.15" width="10.7" height="73.2"/>
<rect x="754.42" y="614.38" width="10.7" height="42.97"/>
<rect x="765.12" y="640.29" width="10.7" height="17.06"/>
<rect x="775.82" y="648.27" width="10.7" height="9.08"/>
<rect x="786.52" y="655.3" width="10.7" height="2.05"/>
<rect x="797.23" y="652.37" width="10.7" height="4.98"/>
<rect x="807.93" y="653.98" width="10.7" height="3.37"/>
<rect x="818.63" y="653.18" width="10.7" height="4.17"/>
<rect x="829.33" y="655.81" width="10.7" height="1.54"/>
<rect x="840.03" y="656.33" width="10.7" height="1.02"/>
</g>
<g clip-path="url(#c44)"><path class="dens" d="M739,635.67 C739.78,631.78 742.11,619.34 743.67,612.34 C745.22,605.34 746.78,598.3 748.33,593.67 C749.89,589.04 751.45,584.96 753,584.57 C754.56,584.18 756.11,587.49 757.67,591.34 C759.22,595.19 760.78,601.84 762.33,607.67 C763.89,613.5 765.06,621.48 767,626.34 C768.95,631.2 771.67,633.73 774,636.84 C776.34,639.95 778.85,642.71 781,645 C783.15,647.3 784.86,649.27 786.89,650.61 C788.93,651.94 790.84,652.75 793.21,653 C795.57,653.25 798.72,652.2 801.1,652.1 C803.49,652 804.85,652.22 807.5,652.4 C810.15,652.59 813.66,652.99 817,653.21 C820.33,653.42 824.86,653.43 827.5,653.7 C830.13,653.96 831.04,654.49 832.8,654.81 C834.57,655.12 835.45,655.33 838.1,655.6 C840.75,655.87 846.54,656.22 848.7,656.4 C850.85,656.58 850.62,656.63 851.01,656.67"/></g>
<g class="rug">
<line x1="743.72" y1="657.35" x2="743.72" y2="654.05"/>
<line x1="745.05" y1="657.35" x2="745.05" y2="654.05"/>
<line x1="746.39" y1="657.35" x2="746.39" y2="654.05"/>
<line x1="747.73" y1="657.35" x2="747.73" y2="654.05"/>
<line x1="749.07" y1="657.35" x2="749.07" y2="654.05"/>
<line x1="750.41" y1="657.35" x2="750.41" y2="654.05"/>
<line x1="751.74" y1="657.35" x2="751.74" y2="654.05"/>
<line x1="753.08" y1="657.35" x2="753.08" y2="654.05"/>
<line x1="754.42" y1="657.35" x2="754.42" y2="654.05"/>
<line x1="755.76" y1="657.35" x2="755.76" y2="654.05"/>
<line x1="757.09" y1="657.35" x2="757.09" y2="654.05"/>
<line x1="758.43" y1="657.35" x2="758.43" y2="654.05"/>
<line x1="759.77" y1="657.35" x2="759.77" y2="654.05"/>
<line x1="761.11" y1="657.35" x2="761.11" y2="654.05"/>
<line x1="762.44" y1="657.35" x2="762.44" y2="654.05"/>
<line x1="763.78" y1="657.35" x2="763.78" y2="654.05"/>
<line x1="765.12" y1="657.35" x2="765.12" y2="654.05"/>
<line x1="766.46" y1="657.35" x2="766.46" y2="654.05"/>
<line x1="767.8" y1="657.35" x2="767.8" y2="654.05"/>
<line x1="769.13" y1="657.35" x2="769.13" y2="654.05"/>
<line x1="770.47" y1="657.35" x2="770.47" y2="654.05"/>
<line x1="771.81" y1="657.35" x2="771.81" y2="654.05"/>
<line x1="773.15" y1="657.35" x2="773.15" y2="654.05"/>
<line x1="774.48" y1="657.35" x2="774.48" y2="654.05"/>
<line x1="775.82" y1="657.35" x2="775.82" y2="654.05"/>
<line x1="777.16" y1="657.35" x2="777.16" y2="654.05"/>
<line x1="778.5" y1="657.35" x2="778.5" y2="654.05"/>
<line x1="779.84" y1="657.35" x2="779.84" y2="654.05"/>
<line x1="781.17" y1="657.35" x2="781.17" y2="654.05"/>
<line x1="782.51" y1="657.35" x2="782.51" y2="654.05"/>
<line x1="783.85" y1="657.35" x2="783.85" y2="654.05"/>
<line x1="785.19" y1="657.35" x2="785.19" y2="654.05"/>
<line x1="786.52" y1="657.35" x2="786.52" y2="654.05"/>
<line x1="787.86" y1="657.35" x2="787.86" y2="654.05"/>
<line x1="789.2" y1="657.35" x2="789.2" y2="654.05"/>
<line x1="790.54" y1="657.35" x2="790.54" y2="654.05"/>
<line x1="791.87" y1="657.35" x2="791.87" y2="654.05"/>
<line x1="793.21" y1="657.35" x2="793.21" y2="654.05"/>
<line x1="794.55" y1="657.35" x2="794.55" y2="654.05"/>
<line x1="795.89" y1="657.35" x2="795.89" y2="654.05"/>
<line x1="797.23" y1="657.35" x2="797.23" y2="654.05"/>
<line x1="798.56" y1="657.35" x2="798.56" y2="654.05"/>
<line x1="799.9" y1="657.35" x2="799.9" y2="654.05"/>
<line x1="801.24" y1="657.35" x2="801.24" y2="654.05"/>
<line x1="802.58" y1="657.35" x2="802.58" y2="654.05"/>
<line x1="803.91" y1="657.35" x2="803.91" y2="654.05"/>
<line x1="805.25" y1="657.35" x2="805.25" y2="654.05"/>
<line x1="806.59" y1="657.35" x2="806.59" y2="654.05"/>
<line x1="807.93" y1="657.35" x2="807.93" y2="654.05"/>
<line x1="809.26" y1="657.35" x2="809.26" y2="654.05"/>
<line x1="810.6" y1="657.35" x2="810.6" y2="654.05"/>
<line x1="811.94" y1="657.35" x2="811.94" y2="654.05"/>
<line x1="813.28" y1="657.35" x2="813.28" y2="654.05"/>
<line x1="814.62" y1="657.35" x2="814.62" y2="654.05"/>
<line x1="815.95" y1="657.35" x2="815.95" y2="654.05"/>
<line x1="817.29" y1="657.35" x2="817.29" y2="654.05"/>
<line x1="818.63" y1="657.35" x2="818.63" y2="654.05"/>
<line x1="819.97" y1="657.35" x2="819.97" y2="654.05"/>
<line x1="821.3" y1="657.35" x2="821.3" y2="654.05"/>
<line x1="822.64" y1="657.35" x2="822.64" y2="654.05"/>
<line x1="823.98" y1="657.35" x2="823.98" y2="654.05"/>
<line x1="825.32" y1="657.35" x2="825.32" y2="654.05"/>
<line x1="826.66" y1="657.35" x2="826.66" y2="654.05"/>
<line x1="827.99" y1="657.35" x2="827.99" y2="654.05"/>
<line x1="829.33" y1="657.35" x2="829.33" y2="654.05"/>
<line x1="834.68" y1="657.35" x2="834.68" y2="654.05"/>
<line x1="840.03" y1="657.35" x2="840.03" y2="654.05"/>
<line x1="845.38" y1="657.35" x2="845.38" y2="654.05"/>
</g>
<text class="lab" x="794.55" y="569.5">moral_neutralization</text>
<text class="rt" x="917.1" y="595.85">r&#160;&#160;= 0.25</text>
<text class="rt" x="917.1" y="627.95">[0.13, 0.36]</text>
<polygon class="stp" points="944.75,567.1 945.4,568.66 947.08,568.79 945.8,569.89 946.19,571.53 944.75,570.65 943.31,571.53 943.7,569.89 942.42,568.79 944.1,568.66"/>
<polygon class="stp" points="949.7,567.1 950.35,568.66 952.03,568.79 950.75,569.89 951.14,571.53 949.7,570.65 948.26,571.53 948.65,569.89 947.37,568.79 949.05,568.66"/>
<polygon class="stp" points="954.65,567.1 955.3,568.66 956.98,568.79 955.7,569.89 956.09,571.53 954.65,570.65 953.21,571.53 953.6,569.89 952.32,568.79 954,568.66"/>
<text class="rt" x="1039.65" y="595.85">r&#160;&#160;= 0.18</text>
<text class="rt" x="1039.65" y="627.95">[0.06, 0.29]</text>
<polygon class="stp" points="1069.78,567.1 1070.42,568.66 1072.11,568.79 1070.82,569.89 1071.22,571.53 1069.78,570.65 1068.33,571.53 1068.73,569.89 1067.44,568.79 1069.13,568.66"/>
<polygon class="stp" points="1074.72,567.1 1075.37,568.66 1077.06,568.79 1075.77,569.89 1076.17,571.53 1074.72,570.65 1073.28,571.53 1073.68,569.89 1072.39,568.79 1074.08,568.66"/>
<g class="pt">
<circle cx="253.25" cy="674.25" r="2.1"/>
<circle cx="256.17" cy="674.25" r="2.1"/>
<circle cx="264.92" cy="674.25" r="2.1"/>
<circle cx="270.75" cy="674.25" r="2.1"/>
<circle cx="276.58" cy="674.25" r="2.1"/>
<circle cx="279.5" cy="674.25" r="2.1"/>
<circle cx="282.42" cy="674.25" r="2.1"/>
<circle cx="288.25" cy="674.25" r="2.1"/>
<circle cx="291.17" cy="674.25" r="2.1"/>
<circle cx="323.25" cy="674.25" r="2.1"/>
<circle cx="340.52" cy="674.25" r="2.1"/>
<circle cx="253.25" cy="690.93" r="2.1"/>
<circle cx="256.17" cy="690.93" r="2.1"/>
<circle cx="262" cy="690.93" r="2.1"/>
<circle cx="264.92" cy="690.93" r="2.1"/>
<circle cx="273.67" cy="690.93" r="2.1"/>
<circle cx="279.5" cy="690.93" r="2.1"/>
<circle cx="285.34" cy="690.93" r="2.1"/>
<circle cx="288.25" cy="690.93" r="2.1"/>
<circle cx="291.17" cy="690.93" r="2.1"/>
<circle cx="297" cy="690.93" r="2.1"/>
<circle cx="299.92" cy="690.93" r="2.1"/>
<circle cx="320.34" cy="690.93" r="2.1"/>
<circle cx="332" cy="690.93" r="2.1"/>
<circle cx="340.52" cy="690.93" r="2.1"/>
<circle cx="253.25" cy="707.85" r="2.1"/>
<circle cx="256.17" cy="707.85" r="2.1"/>
<circle cx="259.08" cy="707.85" r="2.1"/>
<circle cx="262" cy="707.85" r="2.1"/>
<circle cx="264.92" cy="707.85" r="2.1"/>
<circle cx="267.83" cy="707.85" r="2.1"/>
<circle cx="270.75" cy="707.85" r="2.1"/>
<circle cx="276.58" cy="707.85" r="2.1"/>
<circle cx="285.34" cy="707.85" r="2.1"/>
<circle cx="297" cy="707.85" r="2.1"/>
<circle cx="308.67" cy="707.85" r="2.1"/>
<circle cx="311.59" cy="707.85" r="2.1"/>
<circle cx="323.25" cy="707.85" r="2.1"/>
<circle cx="355.11" cy="707.85" r="2.1"/>
<circle cx="253.25" cy="725" r="2.1"/>
<circle cx="256.17" cy="725" r="2.1"/>
<circle cx="259.08" cy="725" r="2.1"/>
<circle cx="262" cy="725" r="2.1"/>
<circle cx="264.92" cy="725" r="2.1"/>
<circle cx="267.83" cy="725" r="2.1"/>
<circle cx="285.34" cy="725" r="2.1"/>
<circle cx="288.25" cy="725" r="2.1"/>
<circle cx="291.17" cy="725" r="2.1"/>
<circle cx="294.09" cy="725" r="2.1"/>
<circle cx="297" cy="725" r="2.1"/>
<circle cx="305.75" cy="725" r="2.1"/>
<circle cx="314.5" cy="725" r="2.1"/>
<circle cx="346.59" cy="725" r="2.1"/>
<circle cx="355.11" cy="725" r="2.1"/>
<circle cx="253.25" cy="741.92" r="2.1"/>
<circle cx="256.17" cy="741.92" r="2.1"/>
<circle cx="259.08" cy="741.92" r="2.1"/>
<circle cx="262" cy="741.92" r="2.1"/>
<circle cx="264.92" cy="741.92" r="2.1"/>
<circle cx="279.5" cy="741.92" r="2.1"/>
<circle cx="282.42" cy="741.92" r="2.1"/>
<circle cx="288.25" cy="741.92" r="2.1"/>
<circle cx="294.09" cy="741.92" r="2.1"/>
<circle cx="297" cy="741.92" r="2.1"/>
<circle cx="299.92" cy="741.92" r="2.1"/>
<circle cx="302.84" cy="741.92" r="2.1"/>
<circle cx="320.34" cy="741.92" r="2.1"/>
<circle cx="355.11" cy="741.92" r="2.1"/>
<circle cx="253.25" cy="758.84" r="2.1"/>
<circle cx="256.17" cy="758.84" r="2.1"/>
<circle cx="262" cy="758.84" r="2.1"/>
<circle cx="267.83" cy="758.84" r="2.1"/>
<circle cx="273.67" cy="758.84" r="2.1"/>
<circle cx="288.25" cy="758.84" r="2.1"/>
<circle cx="291.17" cy="758.84" r="2.1"/>
<circle cx="253.25" cy="775.76" r="2.1"/>
<circle cx="259.08" cy="775.76" r="2.1"/>
</g>
<g clip-path="url(#c50)"><path class="lo" d="M253.25,731.42 C253.5,729.96 254.28,725.2 254.77,722.67 C255.25,720.14 255.93,717.32 256.17,716.25 L259.08,720.34 C259.96,719.56 262.49,717.03 264.33,715.67 C266.18,714.31 268.22,712.27 270.17,712.17 C272.11,712.07 273.86,714.21 276,715.09 C278.14,715.96 280.67,716.74 283,717.42 C285.34,718.1 287.86,719.11 290,719.17 C292.14,719.23 293.89,718.55 295.84,717.77 C297.78,716.99 299.72,715.63 301.67,714.5 C303.61,713.37 305.56,711.82 307.5,711 C309.45,710.19 310.81,709.99 313.34,709.6 C315.86,709.21 319.56,709.17 322.67,708.67 C325.78,708.16 328.89,707.31 332,706.57 C335.12,705.83 337.49,705.09 341.34,704.24 C345.19,703.38 352.81,701.9 355.11,701.43"/></g>
<g class="pt">
<circle cx="376.02" cy="674.25" r="2.1"/>
<circle cx="385.58" cy="674.25" r="2.1"/>
<circle cx="390.25" cy="674.25" r="2.1"/>
<circle cx="400.17" cy="674.25" r="2.1"/>
<circle cx="402.5" cy="674.25" r="2.1"/>
<circle cx="412.19" cy="674.25" r="2.1"/>
<circle cx="419.42" cy="674.25" r="2.1"/>
<circle cx="431.67" cy="674.25" r="2.1"/>
<circle cx="434" cy="674.25" r="2.1"/>
<circle cx="438.67" cy="674.25" r="2.1"/>
<circle cx="448.59" cy="674.25" r="2.1"/>
<circle cx="450.92" cy="674.25" r="2.1"/>
<circle cx="453.25" cy="674.25" r="2.1"/>
<circle cx="455.59" cy="674.25" r="2.1"/>
<circle cx="460.84" cy="674.25" r="2.1"/>
<circle cx="463.17" cy="674.25" r="2.1"/>
<circle cx="385.58" cy="690.93" r="2.1"/>
<circle cx="387.92" cy="690.93" r="2.1"/>
<circle cx="390.25" cy="690.93" r="2.1"/>
<circle cx="392.58" cy="690.93" r="2.1"/>
<circle cx="397.83" cy="690.93" r="2.1"/>
<circle cx="400.17" cy="690.93" r="2.1"/>
<circle cx="402.5" cy="690.93" r="2.1"/>
<circle cx="409.5" cy="690.93" r="2.1"/>
<circle cx="412.19" cy="690.93" r="2.1"/>
<circle cx="414.75" cy="690.93" r="2.1"/>
<circle cx="417.09" cy="690.93" r="2.1"/>
<circle cx="429.34" cy="690.93" r="2.1"/>
<circle cx="431.67" cy="690.93" r="2.1"/>
<circle cx="434" cy="690.93" r="2.1"/>
<circle cx="436.34" cy="690.93" r="2.1"/>
<circle cx="438.67" cy="690.93" r="2.1"/>
<circle cx="443.92" cy="690.93" r="2.1"/>
<circle cx="446.25" cy="690.93" r="2.1"/>
<circle cx="448.59" cy="690.93" r="2.1"/>
<circle cx="456.17" cy="690.93" r="2.1"/>
<circle cx="458.5" cy="690.93" r="2.1"/>
<circle cx="460.84" cy="690.93" r="2.1"/>
<circle cx="376.02" cy="707.85" r="2.1"/>
<circle cx="378.47" cy="707.85" r="2.1"/>
<circle cx="380.92" cy="707.85" r="2.1"/>
<circle cx="383.25" cy="707.85" r="2.1"/>
<circle cx="385.58" cy="707.85" r="2.1"/>
<circle cx="387.92" cy="707.85" r="2.1"/>
<circle cx="390.25" cy="707.85" r="2.1"/>
<circle cx="392.58" cy="707.85" r="2.1"/>
<circle cx="395.27" cy="707.85" r="2.1"/>
<circle cx="397.6" cy="707.85" r="2.1"/>
<circle cx="400.17" cy="707.85" r="2.1"/>
<circle cx="402.5" cy="707.85" r="2.1"/>
<circle cx="407.75" cy="707.85" r="2.1"/>
<circle cx="410.09" cy="707.85" r="2.1"/>
<circle cx="412.19" cy="707.85" r="2.1"/>
<circle cx="414.75" cy="707.85" r="2.1"/>
<circle cx="419.42" cy="707.85" r="2.1"/>
<circle cx="421.75" cy="707.85" r="2.1"/>
<circle cx="424.09" cy="707.85" r="2.1"/>
<circle cx="426.42" cy="707.85" r="2.1"/>
<circle cx="434" cy="707.85" r="2.1"/>
<circle cx="436.34" cy="707.85" r="2.1"/>
<circle cx="438.67" cy="707.85" r="2.1"/>
<circle cx="441" cy="707.85" r="2.1"/>
<circle cx="446.25" cy="707.85" r="2.1"/>
<circle cx="450.92" cy="707.85" r="2.1"/>
<circle cx="453.25" cy="707.85" r="2.1"/>
<circle cx="455.59" cy="707.85" r="2.1"/>
<circle cx="463.17" cy="707.85" r="2.1"/>
<circle cx="477.76" cy="707.85" r="2.1"/>
<circle cx="376.02" cy="725" r="2.1"/>
<circle cx="378.47" cy="725" r="2.1"/>
<circle cx="380.92" cy="725" r="2.1"/>
<circle cx="385.58" cy="725" r="2.1"/>
<circle cx="387.92" cy="725" r="2.1"/>
<circle cx="390.25" cy="725" r="2.1"/>
<circle cx="392.58" cy="725" r="2.1"/>
<circle cx="395.27" cy="725" r="2.1"/>
<circle cx="397.6" cy="725" r="2.1"/>
<circle cx="400.17" cy="725" r="2.1"/>
<circle cx="402.5" cy="725" r="2.1"/>
<circle cx="404.84" cy="725" r="2.1"/>
<circle cx="407.17" cy="725" r="2.1"/>
<circle cx="409.5" cy="725" r="2.1"/>
<circle cx="412.19" cy="725" r="2.1"/>
<circle cx="414.75" cy="725" r="2.1"/>
<circle cx="417.09" cy="725" r="2.1"/>
<circle cx="419.42" cy="725" r="2.1"/>
<circle cx="421.75" cy="725" r="2.1"/>
<circle cx="426.42" cy="725" r="2.1"/>
<circle cx="429.34" cy="725" r="2.1"/>
<circle cx="431.67" cy="725" r="2.1"/>
<circle cx="477.76" cy="725" r="2.1"/>
<circle cx="376.02" cy="741.92" r="2.1"/>
<circle cx="378.47" cy="741.92" r="2.1"/>
<circle cx="380.92" cy="741.92" r="2.1"/>
<circle cx="383.25" cy="741.92" r="2.1"/>
<circle cx="385.58" cy="741.92" r="2.1"/>
<circle cx="387.92" cy="741.92" r="2.1"/>
<circle cx="390.25" cy="741.92" r="2.1"/>
<circle cx="395.27" cy="741.92" r="2.1"/>
<circle cx="397.6" cy="741.92" r="2.1"/>
<circle cx="400.17" cy="741.92" r="2.1"/>
<circle cx="402.5" cy="741.92" r="2.1"/>
<circle cx="404.84" cy="741.92" r="2.1"/>
<circle cx="407.17" cy="741.92" r="2.1"/>
<circle cx="409.5" cy="741.92" r="2.1"/>
<circle cx="412.19" cy="741.92" r="2.1"/>
<circle cx="414.75" cy="741.92" r="2.1"/>
<circle cx="417.09" cy="741.92" r="2.1"/>
<circle cx="424.09" cy="741.92" r="2.1"/>
<circle cx="426.42" cy="741.92" r="2.1"/>
<circle cx="431.67" cy="741.92" r="2.1"/>
<circle cx="434" cy="741.92" r="2.1"/>
<circle cx="436.34" cy="741.92" r="2.1"/>
<circle cx="438.67" cy="741.92" r="2.1"/>
<circle cx="477.76" cy="741.92" r="2.1"/>
<circle cx="376.02" cy="758.84" r="2.1"/>
<circle cx="378.47" cy="758.84" r="2.1"/>
<circle cx="380.92" cy="758.84" r="2.1"/>
<circle cx="383.25" cy="758.84" r="2.1"/>
<circle cx="385.58" cy="758.84" r="2.1"/>
<circle cx="387.92" cy="758.84" r="2.1"/>
<circle cx="390.25" cy="758.84" r="2.1"/>
<circle cx="395.27" cy="758.84" r="2.1"/>
<circle cx="402.5" cy="758.84" r="2.1"/>
<circle cx="409.85" cy="758.84" r="2.1"/>
<circle cx="419.42" cy="758.84" r="2.1"/>
<circle cx="376.02" cy="775.76" r="2.1"/>
<circle cx="380.92" cy="775.76" r="2.1"/>
<circle cx="385.58" cy="775.76" r="2.1"/>
<circle cx="395.27" cy="775.76" r="2.1"/>
<circle cx="402.5" cy="775.76" r="2.1"/>
<circle cx="419.42" cy="775.76" r="2.1"/>
<circle cx="448.59" cy="775.76" r="2.1"/>
</g>
<g clip-path="url(#c51)"><path class="lo" d="M376.02,742.74 C377.13,741.63 380.59,738.11 382.67,736.09 C384.75,734.06 386.56,732.35 388.5,730.6 C390.45,728.85 392.39,726.75 394.33,725.59 C396.28,724.42 398.22,724.19 400.17,723.6 C402.11,723.02 404.25,722.53 406,722.09 C407.75,721.64 409.11,721.44 410.67,720.92 C412.22,720.39 413.78,719.71 415.34,718.94 C416.89,718.16 418.25,717.38 420,716.25 C421.75,715.12 423.89,713.53 425.84,712.17 C427.78,710.81 429.73,709.29 431.67,708.09 C433.61,706.88 435.56,705.91 437.5,704.94 C439.45,703.96 440.81,703.38 443.34,702.25 C445.86,701.12 449.56,699.53 452.67,698.17 C455.78,696.81 459.09,695.39 462,694.08 C464.92,692.78 467.55,691.58 470.17,690.35 C472.8,689.13 476.49,687.34 477.76,686.73"/></g>
<g class="pt">
<circle cx="498.43" cy="674.25" r="2.1"/>
<circle cx="503.92" cy="674.25" r="2.1"/>
<circle cx="506.83" cy="674.25" r="2.1"/>
<circle cx="518.27" cy="674.25" r="2.1"/>
<circle cx="523.75" cy="674.25" r="2.1"/>
<circle cx="526.67" cy="674.25" r="2.1"/>
<circle cx="538.1" cy="674.25" r="2.1"/>
<circle cx="554.9" cy="674.25" r="2.1"/>
<circle cx="569.25" cy="674.25" r="2.1"/>
<circle cx="577.42" cy="674.25" r="2.1"/>
<circle cx="586.17" cy="674.25" r="2.1"/>
<circle cx="594.57" cy="674.25" r="2.1"/>
<circle cx="600.17" cy="674.25" r="2.1"/>
<circle cx="498.43" cy="690.93" r="2.1"/>
<circle cx="501.23" cy="690.93" r="2.1"/>
<circle cx="503.92" cy="690.93" r="2.1"/>
<circle cx="506.83" cy="690.93" r="2.1"/>
<circle cx="512.67" cy="690.93" r="2.1"/>
<circle cx="523.75" cy="690.93" r="2.1"/>
<circle cx="526.67" cy="690.93" r="2.1"/>
<circle cx="532.5" cy="690.93" r="2.1"/>
<circle cx="535.07" cy="690.93" r="2.1"/>
<circle cx="543.59" cy="690.93" r="2.1"/>
<circle cx="549.42" cy="690.93" r="2.1"/>
<circle cx="554.67" cy="690.93" r="2.1"/>
<circle cx="557.59" cy="690.93" r="2.1"/>
<circle cx="563.42" cy="690.93" r="2.1"/>
<circle cx="574.5" cy="690.93" r="2.1"/>
<circle cx="577.42" cy="690.93" r="2.1"/>
<circle cx="583.25" cy="690.93" r="2.1"/>
<circle cx="588.74" cy="690.93" r="2.1"/>
<circle cx="591.77" cy="690.93" r="2.1"/>
<circle cx="597.26" cy="690.93" r="2.1"/>
<circle cx="498.43" cy="707.85" r="2.1"/>
<circle cx="501.23" cy="707.85" r="2.1"/>
<circle cx="503.92" cy="707.85" r="2.1"/>
<circle cx="506.83" cy="707.85" r="2.1"/>
<circle cx="509.75" cy="707.85" r="2.1"/>
<circle cx="512.67" cy="707.85" r="2.1"/>
<circle cx="515.58" cy="707.85" r="2.1"/>
<circle cx="518.5" cy="707.85" r="2.1"/>
<circle cx="521.07" cy="707.85" r="2.1"/>
<circle cx="523.98" cy="707.85" r="2.1"/>
<circle cx="529.59" cy="707.85" r="2.1"/>
<circle cx="535.07" cy="707.85" r="2.1"/>
<circle cx="538.1" cy="707.85" r="2.1"/>
<circle cx="540.67" cy="707.85" r="2.1"/>
<circle cx="546.5" cy="707.85" r="2.1"/>
<circle cx="549.42" cy="707.85" r="2.1"/>
<circle cx="554.9" cy="707.85" r="2.1"/>
<circle cx="557.59" cy="707.85" r="2.1"/>
<circle cx="560.5" cy="707.85" r="2.1"/>
<circle cx="563.42" cy="707.85" r="2.1"/>
<circle cx="569.25" cy="707.85" r="2.1"/>
<circle cx="583.25" cy="707.85" r="2.1"/>
<circle cx="498.43" cy="725" r="2.1"/>
<circle cx="501.23" cy="725" r="2.1"/>
<circle cx="503.92" cy="725" r="2.1"/>
<circle cx="506.83" cy="725" r="2.1"/>
<circle cx="509.75" cy="725" r="2.1"/>
<circle cx="512.67" cy="725" r="2.1"/>
<circle cx="521.07" cy="725" r="2.1"/>
<circle cx="523.98" cy="725" r="2.1"/>
<circle cx="526.9" cy="725" r="2.1"/>
<circle cx="529.59" cy="725" r="2.1"/>
<circle cx="532.5" cy="725" r="2.1"/>
<circle cx="538.1" cy="725" r="2.1"/>
<circle cx="540.67" cy="725" r="2.1"/>
<circle cx="546.5" cy="725" r="2.1"/>
<circle cx="549.42" cy="725" r="2.1"/>
<circle cx="552.1" cy="725" r="2.1"/>
<circle cx="557.59" cy="725" r="2.1"/>
<circle cx="560.5" cy="725" r="2.1"/>
<circle cx="498.43" cy="741.92" r="2.1"/>
<circle cx="501.23" cy="741.92" r="2.1"/>
<circle cx="503.92" cy="741.92" r="2.1"/>
<circle cx="506.83" cy="741.92" r="2.1"/>
<circle cx="509.75" cy="741.92" r="2.1"/>
<circle cx="512.67" cy="741.92" r="2.1"/>
<circle cx="515.58" cy="741.92" r="2.1"/>
<circle cx="518.27" cy="741.92" r="2.1"/>
<circle cx="523.98" cy="741.92" r="2.1"/>
<circle cx="526.9" cy="741.92" r="2.1"/>
<circle cx="529.59" cy="741.92" r="2.1"/>
<circle cx="532.5" cy="741.92" r="2.1"/>
<circle cx="535.42" cy="741.92" r="2.1"/>
<circle cx="538.1" cy="741.92" r="2.1"/>
<circle cx="540.67" cy="741.92" r="2.1"/>
<circle cx="543.59" cy="741.92" r="2.1"/>
<circle cx="549.42" cy="741.92" r="2.1"/>
<circle cx="552.1" cy="741.92" r="2.1"/>
<circle cx="554.9" cy="741.92" r="2.1"/>
<circle cx="557.59" cy="741.92" r="2.1"/>
<circle cx="566.34" cy="741.92" r="2.1"/>
<circle cx="498.43" cy="758.84" r="2.1"/>
<circle cx="501.23" cy="758.84" r="2.1"/>
<circle cx="503.92" cy="758.84" r="2.1"/>
<circle cx="506.83" cy="758.84" r="2.1"/>
<circle cx="518.27" cy="758.84" r="2.1"/>
<circle cx="523.98" cy="758.84" r="2.1"/>
<circle cx="526.9" cy="758.84" r="2.1"/>
<circle cx="529.59" cy="758.84" r="2.1"/>
<circle cx="535.07" cy="758.84" r="2.1"/>
<circle cx="546.5" cy="758.84" r="2.1"/>
<circle cx="498.43" cy="775.76" r="2.1"/>
<circle cx="503.92" cy="775.76" r="2.1"/>
<circle cx="532.5" cy="775.76" r="2.1"/>
<circle cx="552.1" cy="775.76" r="2.1"/>
<circle cx="577.42" cy="775.76" r="2.1"/>
</g>
<g clip-path="url(#c52)"><path class="lo" d="M498.43,735.74 C499.25,735.08 501.54,733.17 503.33,731.77 C505.12,730.37 507.22,728.95 509.17,727.34 C511.11,725.72 513.25,722.82 515,722.09 C516.75,721.35 517.92,722.77 519.67,722.9 C521.42,723.04 523.56,722.84 525.5,722.9 C527.45,722.96 529.39,723.33 531.34,723.25 C533.28,723.17 535.22,722.88 537.17,722.44 C539.11,721.99 541.06,721.27 543,720.57 C544.95,719.87 546.89,719.25 548.84,718.24 C550.78,717.22 552.73,715.86 554.67,714.5 C556.61,713.14 558.56,711.47 560.5,710.07 C562.45,708.67 564.2,707.66 566.34,706.1 C568.48,704.55 571,702.49 573.34,700.73 C575.67,698.98 578,697.29 580.34,695.6 C582.67,693.91 585,692.3 587.34,690.58 C589.67,688.87 592.16,686.99 594.34,685.33 C596.52,683.68 599.39,681.45 600.41,680.67"/></g>
<g class="pt">
<circle cx="633.73" cy="674.25" r="2.1"/>
<circle cx="642.25" cy="674.25" r="2.1"/>
<circle cx="654.97" cy="674.25" r="2.1"/>
<circle cx="671.89" cy="674.25" r="2.1"/>
<circle cx="676.2" cy="674.25" r="2.1"/>
<circle cx="684.6" cy="674.25" r="2.1"/>
<circle cx="693.12" cy="674.25" r="2.1"/>
<circle cx="697.32" cy="674.25" r="2.1"/>
<circle cx="701.52" cy="674.25" r="2.1"/>
<circle cx="705.84" cy="674.25" r="2.1"/>
<circle cx="710.04" cy="674.25" r="2.1"/>
<circle cx="722.76" cy="674.25" r="2.1"/>
<circle cx="621.02" cy="690.93" r="2.1"/>
<circle cx="642.25" cy="690.93" r="2.1"/>
<circle cx="654.97" cy="690.93" r="2.1"/>
<circle cx="659.17" cy="690.93" r="2.1"/>
<circle cx="663.49" cy="690.93" r="2.1"/>
<circle cx="667.69" cy="690.93" r="2.1"/>
<circle cx="671.89" cy="690.93" r="2.1"/>
<circle cx="680.4" cy="690.93" r="2.1"/>
<circle cx="684.6" cy="690.93" r="2.1"/>
<circle cx="688.92" cy="690.93" r="2.1"/>
<circle cx="693.12" cy="690.93" r="2.1"/>
<circle cx="697.32" cy="690.93" r="2.1"/>
<circle cx="701.52" cy="690.93" r="2.1"/>
<circle cx="705.84" cy="690.93" r="2.1"/>
<circle cx="710.04" cy="690.93" r="2.1"/>
<circle cx="714.24" cy="690.93" r="2.1"/>
<circle cx="718.56" cy="690.93" r="2.1"/>
<circle cx="638.05" cy="707.85" r="2.1"/>
<circle cx="642.25" cy="707.85" r="2.1"/>
<circle cx="646.45" cy="707.85" r="2.1"/>
<circle cx="650.77" cy="707.85" r="2.1"/>
<circle cx="654.97" cy="707.85" r="2.1"/>
<circle cx="659.17" cy="707.85" r="2.1"/>
<circle cx="663.49" cy="707.85" r="2.1"/>
<circle cx="667.69" cy="707.85" r="2.1"/>
<circle cx="671.89" cy="707.85" r="2.1"/>
<circle cx="676.2" cy="707.85" r="2.1"/>
<circle cx="680.4" cy="707.85" r="2.1"/>
<circle cx="684.6" cy="707.85" r="2.1"/>
<circle cx="688.92" cy="707.85" r="2.1"/>
<circle cx="693.12" cy="707.85" r="2.1"/>
<circle cx="701.52" cy="707.85" r="2.1"/>
<circle cx="718.56" cy="707.85" r="2.1"/>
<circle cx="621.02" cy="725" r="2.1"/>
<circle cx="633.73" cy="725" r="2.1"/>
<circle cx="638.05" cy="725" r="2.1"/>
<circle cx="642.25" cy="725" r="2.1"/>
<circle cx="646.45" cy="725" r="2.1"/>
<circle cx="650.77" cy="725" r="2.1"/>
<circle cx="654.97" cy="725" r="2.1"/>
<circle cx="659.17" cy="725" r="2.1"/>
<circle cx="663.49" cy="725" r="2.1"/>
<circle cx="667.69" cy="725" r="2.1"/>
<circle cx="671.89" cy="725" r="2.1"/>
<circle cx="676.2" cy="725" r="2.1"/>
<circle cx="680.4" cy="725" r="2.1"/>
<circle cx="684.6" cy="725" r="2.1"/>
<circle cx="688.92" cy="725" r="2.1"/>
<circle cx="705.84" cy="725" r="2.1"/>
<circle cx="621.02" cy="741.92" r="2.1"/>
<circle cx="625.33" cy="741.92" r="2.1"/>
<circle cx="633.73" cy="741.92" r="2.1"/>
<circle cx="638.05" cy="741.92" r="2.1"/>
<circle cx="642.25" cy="741.92" r="2.1"/>
<circle cx="646.45" cy="741.92" r="2.1"/>
<circle cx="650.77" cy="741.92" r="2.1"/>
<circle cx="654.97" cy="741.92" r="2.1"/>
<circle cx="659.17" cy="741.92" r="2.1"/>
<circle cx="663.49" cy="741.92" r="2.1"/>
<circle cx="667.69" cy="741.92" r="2.1"/>
<circle cx="671.89" cy="741.92" r="2.1"/>
<circle cx="676.2" cy="741.92" r="2.1"/>
<circle cx="680.4" cy="741.92" r="2.1"/>
<circle cx="684.6" cy="741.92" r="2.1"/>
<circle cx="688.92" cy="741.92" r="2.1"/>
<circle cx="693.12" cy="741.92" r="2.1"/>
<circle cx="705.84" cy="741.92" r="2.1"/>
<circle cx="621.02" cy="758.84" r="2.1"/>
<circle cx="625.33" cy="758.84" r="2.1"/>
<circle cx="629.53" cy="758.84" r="2.1"/>
<circle cx="633.73" cy="758.84" r="2.1"/>
<circle cx="638.05" cy="758.84" r="2.1"/>
<circle cx="642.25" cy="758.84" r="2.1"/>
<circle cx="650.77" cy="758.84" r="2.1"/>
<circle cx="654.97" cy="758.84" r="2.1"/>
<circle cx="659.17" cy="758.84" r="2.1"/>
<circle cx="663.49" cy="758.84" r="2.1"/>
<circle cx="667.69" cy="758.84" r="2.1"/>
<circle cx="671.89" cy="758.84" r="2.1"/>
<circle cx="621.02" cy="775.76" r="2.1"/>
<circle cx="629.53" cy="775.76" r="2.1"/>
<circle cx="633.73" cy="775.76" r="2.1"/>
<circle cx="642.25" cy="775.76" r="2.1"/>
<circle cx="654.97" cy="775.76" r="2.1"/>
<circle cx="659.17" cy="775.76" r="2.1"/>
<circle cx="667.69" cy="775.76" r="2.1"/>
<circle cx="710.04" cy="775.76" r="2.1"/>
</g>
<g clip-path="url(#c53)"><path class="lo" d="M621.02,759.07 C622.13,757.9 625.39,754.4 627.67,752.07 C629.94,749.74 632.33,747.25 634.67,745.07 C637,742.89 639.72,740.7 641.67,739 C643.61,737.31 644.78,736.18 646.33,734.92 C647.89,733.66 649.25,732.49 651,731.42 C652.75,730.35 654.89,729.57 656.84,728.5 C658.78,727.43 660.72,726.27 662.67,725 C664.61,723.74 666.56,722.32 668.5,720.92 C670.45,719.52 672.39,718.06 674.34,716.6 C676.28,715.14 678.23,713.65 680.17,712.17 C682.11,710.69 684.06,709.19 686,707.74 C687.95,706.28 689.89,704.92 691.84,703.42 C693.78,701.92 695.73,700.31 697.67,698.75 C699.62,697.2 701.56,695.64 703.5,694.08 C705.45,692.53 707.2,691.11 709.34,689.42 C711.48,687.73 714.1,685.78 716.34,683.93 C718.57,682.09 721.69,679.27 722.76,678.33"/></g>
<g class="pt">
<circle cx="743.43" cy="674.25" r="2.1"/>
<circle cx="751.25" cy="674.25" r="2.1"/>
<circle cx="753.58" cy="674.25" r="2.1"/>
<circle cx="755.92" cy="674.25" r="2.1"/>
<circle cx="758.25" cy="674.25" r="2.1"/>
<circle cx="760.58" cy="674.25" r="2.1"/>
<circle cx="762.92" cy="674.25" r="2.1"/>
<circle cx="764.67" cy="674.25" r="2.1"/>
<circle cx="771.67" cy="674.25" r="2.1"/>
<circle cx="774" cy="674.25" r="2.1"/>
<circle cx="776.34" cy="674.25" r="2.1"/>
<circle cx="778.67" cy="674.25" r="2.1"/>
<circle cx="780.42" cy="674.25" r="2.1"/>
<circle cx="785.09" cy="674.25" r="2.1"/>
<circle cx="807.84" cy="674.25" r="2.1"/>
<circle cx="743.43" cy="690.93" r="2.1"/>
<circle cx="750.08" cy="690.93" r="2.1"/>
<circle cx="752.42" cy="690.93" r="2.1"/>
<circle cx="754.75" cy="690.93" r="2.1"/>
<circle cx="757.08" cy="690.93" r="2.1"/>
<circle cx="759.42" cy="690.93" r="2.1"/>
<circle cx="761.75" cy="690.93" r="2.1"/>
<circle cx="764.08" cy="690.93" r="2.1"/>
<circle cx="766.42" cy="690.93" r="2.1"/>
<circle cx="768.17" cy="690.93" r="2.1"/>
<circle cx="774" cy="690.93" r="2.1"/>
<circle cx="778.09" cy="690.93" r="2.1"/>
<circle cx="779.84" cy="690.93" r="2.1"/>
<circle cx="786.25" cy="690.93" r="2.1"/>
<circle cx="789.17" cy="690.93" r="2.1"/>
<circle cx="807.84" cy="690.93" r="2.1"/>
<circle cx="815.42" cy="690.93" r="2.1"/>
<circle cx="819.5" cy="690.93" r="2.1"/>
<circle cx="826.5" cy="690.93" r="2.1"/>
<circle cx="838.4" cy="690.93" r="2.1"/>
<circle cx="845.41" cy="690.93" r="2.1"/>
<circle cx="743.43" cy="707.85" r="2.1"/>
<circle cx="745.42" cy="707.85" r="2.1"/>
<circle cx="747.75" cy="707.85" r="2.1"/>
<circle cx="750.08" cy="707.85" r="2.1"/>
<circle cx="752.42" cy="707.85" r="2.1"/>
<circle cx="754.75" cy="707.85" r="2.1"/>
<circle cx="757.08" cy="707.85" r="2.1"/>
<circle cx="759.42" cy="707.85" r="2.1"/>
<circle cx="761.75" cy="707.85" r="2.1"/>
<circle cx="764.08" cy="707.85" r="2.1"/>
<circle cx="766.42" cy="707.85" r="2.1"/>
<circle cx="768.75" cy="707.85" r="2.1"/>
<circle cx="771.08" cy="707.85" r="2.1"/>
<circle cx="773.42" cy="707.85" r="2.1"/>
<circle cx="779.84" cy="707.85" r="2.1"/>
<circle cx="798.5" cy="707.85" r="2.1"/>
<circle cx="803.75" cy="707.85" r="2.1"/>
<circle cx="810.4" cy="707.85" r="2.1"/>
<circle cx="818.69" cy="707.85" r="2.1"/>
<circle cx="827.9" cy="707.85" r="2.1"/>
<circle cx="743.43" cy="725" r="2.1"/>
<circle cx="745.42" cy="725" r="2.1"/>
<circle cx="747.75" cy="725" r="2.1"/>
<circle cx="750.08" cy="725" r="2.1"/>
<circle cx="752.42" cy="725" r="2.1"/>
<circle cx="754.75" cy="725" r="2.1"/>
<circle cx="757.08" cy="725" r="2.1"/>
<circle cx="759.42" cy="725" r="2.1"/>
<circle cx="761.75" cy="725" r="2.1"/>
<circle cx="763.73" cy="725" r="2.1"/>
<circle cx="774" cy="725" r="2.1"/>
<circle cx="781" cy="725" r="2.1"/>
<circle cx="799.67" cy="725" r="2.1"/>
<circle cx="802.94" cy="725" r="2.1"/>
<circle cx="806.67" cy="725" r="2.1"/>
<circle cx="810.17" cy="725" r="2.1"/>
<circle cx="819.5" cy="725" r="2.1"/>
<circle cx="825.34" cy="725" r="2.1"/>
<circle cx="743.43" cy="741.92" r="2.1"/>
<circle cx="745.42" cy="741.92" r="2.1"/>
<circle cx="747.75" cy="741.92" r="2.1"/>
<circle cx="750.08" cy="741.92" r="2.1"/>
<circle cx="752.42" cy="741.92" r="2.1"/>
<circle cx="754.75" cy="741.92" r="2.1"/>
<circle cx="757.08" cy="741.92" r="2.1"/>
<circle cx="759.42" cy="741.92" r="2.1"/>
<circle cx="761.75" cy="741.92" r="2.1"/>
<circle cx="764.08" cy="741.92" r="2.1"/>
<circle cx="766.42" cy="741.92" r="2.1"/>
<circle cx="768.75" cy="741.92" r="2.1"/>
<circle cx="771.08" cy="741.92" r="2.1"/>
<circle cx="774" cy="741.92" r="2.1"/>
<circle cx="781" cy="741.92" r="2.1"/>
<circle cx="784.5" cy="741.92" r="2.1"/>
<circle cx="792.67" cy="741.92" r="2.1"/>
<circle cx="796.17" cy="741.92" r="2.1"/>
<circle cx="821.25" cy="741.92" r="2.1"/>
<circle cx="834.67" cy="741.92" r="2.1"/>
<circle cx="743.43" cy="758.84" r="2.1"/>
<circle cx="745.42" cy="758.84" r="2.1"/>
<circle cx="747.75" cy="758.84" r="2.1"/>
<circle cx="750.08" cy="758.84" r="2.1"/>
<circle cx="752.42" cy="758.84" r="2.1"/>
<circle cx="754.75" cy="758.84" r="2.1"/>
<circle cx="767.58" cy="758.84" r="2.1"/>
<circle cx="770.5" cy="758.84" r="2.1"/>
<circle cx="774" cy="758.84" r="2.1"/>
<circle cx="778.09" cy="758.84" r="2.1"/>
<circle cx="785.09" cy="758.84" r="2.1"/>
<circle cx="743.43" cy="775.76" r="2.1"/>
<circle cx="745.42" cy="775.76" r="2.1"/>
<circle cx="747.75" cy="775.76" r="2.1"/>
<circle cx="750.08" cy="775.76" r="2.1"/>
<circle cx="752.42" cy="775.76" r="2.1"/>
<circle cx="755.92" cy="775.76" r="2.1"/>
<circle cx="758.25" cy="775.76" r="2.1"/>
<circle cx="769.1" cy="775.76" r="2.1"/>
<circle cx="776.92" cy="775.76" r="2.1"/>
</g>
<g clip-path="url(#c54)"><path class="lo" d="M743.43,739 C744.06,738.32 745.77,736.38 747.17,734.92 C748.57,733.46 750.47,732.1 751.83,730.25 C753.2,728.41 754.17,725.59 755.33,723.84 C756.5,722.09 757.67,720.63 758.83,719.75 C760,718.88 760.78,719.42 762.33,718.59 C763.89,717.75 766.22,715.51 768.17,714.74 C770.11,713.96 772.45,714 774,713.92 C775.56,713.84 776.34,714.02 777.5,714.27 C778.67,714.52 779.64,715.36 781,715.44 C782.36,715.51 783.92,715.05 785.67,714.74 C787.42,714.42 789.17,713.9 791.5,713.57 C793.84,713.24 796.75,713.08 799.67,712.75 C802.59,712.42 805.5,712.07 809,711.59 C812.5,711.1 816.78,710.4 820.67,709.84 C824.56,709.27 828.22,708.79 832.34,708.2 C836.46,707.62 843.23,706.65 845.41,706.34"/></g>
<g class="bar">
<rect x="866.27" y="764.38" width="8.47" height="15.52"/>
<rect x="874.74" y="750.4" width="8.47" height="29.5"/>
<rect x="891.68" y="706.7" width="8.47" height="73.2"/>
<rect x="908.63" y="723.61" width="8.47" height="56.29"/>
<rect x="925.57" y="725.88" width="8.47" height="54.02"/>
<rect x="942.52" y="746.23" width="8.47" height="33.67"/>
<rect x="959.46" y="755.3" width="8.47" height="24.6"/>
</g>
<g clip-path="url(#c55)"><path class="dens" d="M862.17,765.6 C863.14,764.67 866.06,761.91 868,760 C869.94,758.1 871.89,756.31 873.83,754.17 C875.78,752.03 877.72,750.09 879.67,747.17 C881.61,744.25 883.56,740.56 885.5,736.67 C887.45,732.78 889.58,727.73 891.33,723.84 C893.08,719.95 894.45,716.06 896,713.34 C897.56,710.61 899.11,708.67 900.67,707.5 C902.22,706.34 903.78,706.24 905.34,706.34 C906.89,706.43 908.25,707.11 910,708.09 C911.75,709.06 913.89,710.9 915.84,712.17 C917.78,713.43 919.53,714.6 921.67,715.67 C923.81,716.74 926.73,717.61 928.67,718.59 C930.61,719.56 931.39,719.85 933.34,721.5 C935.28,723.16 938,725.98 940.34,728.5 C942.67,731.03 945,734.14 947.34,736.67 C949.67,739.2 952,741.53 954.34,743.67 C956.67,745.81 959,747.56 961.34,749.5 C963.67,751.45 966.59,753.78 968.34,755.34 C970.09,756.89 971.26,758.25 971.84,758.84"/></g>
<g class="rug">
<line x1="866.27" y1="779.9" x2="866.27" y2="776.6"/>
<line x1="883.21" y1="779.9" x2="883.21" y2="776.6"/>
<line x1="900.16" y1="779.9" x2="900.16" y2="776.6"/>
<line x1="917.1" y1="779.9" x2="917.1" y2="776.6"/>
<line x1="934.04" y1="779.9" x2="934.04" y2="776.6"/>
<line x1="950.99" y1="779.9" x2="950.99" y2="776.6"/>
<line x1="967.93" y1="779.9" x2="967.93" y2="776.6"/>
</g>
<text class="lab" x="917.1" y="692.05">logic</text>
<text class="rt" x="1039.65" y="718.4">r&#160;&#160;= 0.70</text>
<text class="rt" x="1039.65" y="750.5">[0.64, 0.76]</text>
<polygon class="stp" points="1067.3,689.65 1067.95,691.21 1069.63,691.34 1068.35,692.44 1068.74,694.08 1067.3,693.2 1065.86,694.08 1066.25,692.44 1064.97,691.34 1066.65,691.21"/>
<polygon class="stp" points="1072.25,689.65 1072.9,691.21 1074.58,691.34 1073.3,692.44 1073.69,694.08 1072.25,693.2 1070.81,694.08 1071.2,692.44 1069.92,691.34 1071.6,691.21"/>
<polygon class="stp" points="1077.2,689.65 1077.85,691.21 1079.53,691.34 1078.25,692.44 1078.64,694.08 1077.2,693.2 1075.76,694.08 1076.15,692.44 1074.87,691.34 1076.55,691.21"/>
<g class="pt">
<circle cx="253.25" cy="796.6" r="2.1"/>
<circle cx="256.17" cy="796.6" r="2.1"/>
<circle cx="264.92" cy="796.6" r="2.1"/>
<circle cx="270.75" cy="796.6" r="2.1"/>
<circle cx="276.58" cy="796.6" r="2.1"/>
<circle cx="279.5" cy="796.6" r="2.1"/>
<circle cx="282.42" cy="796.6" r="2.1"/>
<circle cx="291.17" cy="796.6" r="2.1"/>
<circle cx="320.34" cy="796.6" r="2.1"/>
<circle cx="323.25" cy="796.6" r="2.1"/>
<circle cx="340.52" cy="796.6" r="2.1"/>
<circle cx="253.25" cy="813.52" r="2.1"/>
<circle cx="256.17" cy="813.52" r="2.1"/>
<circle cx="262" cy="813.52" r="2.1"/>
<circle cx="270.75" cy="813.52" r="2.1"/>
<circle cx="291.17" cy="813.52" r="2.1"/>
<circle cx="297" cy="813.52" r="2.1"/>
<circle cx="320.34" cy="813.52" r="2.1"/>
<circle cx="332" cy="813.52" r="2.1"/>
<circle cx="340.52" cy="813.52" r="2.1"/>
<circle cx="355.11" cy="813.52" r="2.1"/>
<circle cx="253.25" cy="830.67" r="2.1"/>
<circle cx="256.17" cy="830.67" r="2.1"/>
<circle cx="259.08" cy="830.67" r="2.1"/>
<circle cx="262" cy="830.67" r="2.1"/>
<circle cx="264.92" cy="830.67" r="2.1"/>
<circle cx="267.83" cy="830.67" r="2.1"/>
<circle cx="270.75" cy="830.67" r="2.1"/>
<circle cx="273.67" cy="830.67" r="2.1"/>
<circle cx="276.58" cy="830.67" r="2.1"/>
<circle cx="279.5" cy="830.67" r="2.1"/>
<circle cx="285.34" cy="830.67" r="2.1"/>
<circle cx="288.25" cy="830.67" r="2.1"/>
<circle cx="291.17" cy="830.67" r="2.1"/>
<circle cx="297" cy="830.67" r="2.1"/>
<circle cx="305.75" cy="830.67" r="2.1"/>
<circle cx="308.67" cy="830.67" r="2.1"/>
<circle cx="314.5" cy="830.67" r="2.1"/>
<circle cx="355.11" cy="830.67" r="2.1"/>
<circle cx="253.25" cy="847.82" r="2.1"/>
<circle cx="256.17" cy="847.82" r="2.1"/>
<circle cx="259.08" cy="847.82" r="2.1"/>
<circle cx="262" cy="847.82" r="2.1"/>
<circle cx="264.92" cy="847.82" r="2.1"/>
<circle cx="276.58" cy="847.82" r="2.1"/>
<circle cx="279.5" cy="847.82" r="2.1"/>
<circle cx="285.34" cy="847.82" r="2.1"/>
<circle cx="288.25" cy="847.82" r="2.1"/>
<circle cx="294.09" cy="847.82" r="2.1"/>
<circle cx="297" cy="847.82" r="2.1"/>
<circle cx="299.92" cy="847.82" r="2.1"/>
<circle cx="302.84" cy="847.82" r="2.1"/>
<circle cx="311.59" cy="847.82" r="2.1"/>
<circle cx="332" cy="847.82" r="2.1"/>
<circle cx="346.59" cy="847.82" r="2.1"/>
<circle cx="355.11" cy="847.82" r="2.1"/>
<circle cx="253.25" cy="864.74" r="2.1"/>
<circle cx="256.17" cy="864.74" r="2.1"/>
<circle cx="259.08" cy="864.74" r="2.1"/>
<circle cx="264.92" cy="864.74" r="2.1"/>
<circle cx="267.83" cy="864.74" r="2.1"/>
<circle cx="279.5" cy="864.74" r="2.1"/>
<circle cx="282.42" cy="864.74" r="2.1"/>
<circle cx="288.25" cy="864.74" r="2.1"/>
<circle cx="291.17" cy="864.74" r="2.1"/>
<circle cx="294.09" cy="864.74" r="2.1"/>
<circle cx="323.25" cy="864.74" r="2.1"/>
<circle cx="253.25" cy="881.54" r="2.1"/>
<circle cx="256.17" cy="881.54" r="2.1"/>
<circle cx="264.92" cy="881.54" r="2.1"/>
<circle cx="267.83" cy="881.54" r="2.1"/>
<circle cx="273.67" cy="881.54" r="2.1"/>
<circle cx="288.25" cy="881.54" r="2.1"/>
<circle cx="253.25" cy="898.34" r="2.1"/>
<circle cx="256.17" cy="898.34" r="2.1"/>
<circle cx="259.08" cy="898.34" r="2.1"/>
</g>
<g clip-path="url(#c60)"><path class="lo" d="M253.25,854.59 C253.54,853.61 254.32,850.31 255,848.75 C255.68,847.2 256.26,846.17 257.33,845.25 C258.4,844.34 260.06,844.18 261.42,843.27 C262.78,842.36 264.04,840.61 265.5,839.77 C266.96,838.93 268.9,838.21 270.17,838.25 C271.43,838.29 271.92,839.32 273.08,840 C274.25,840.68 275.52,841.79 277.17,842.34 C278.82,842.88 281.06,843.11 283,843.27 C284.95,843.42 286.89,843.62 288.84,843.27 C290.78,842.92 292.72,842.06 294.67,841.17 C296.61,840.27 298.56,838.97 300.5,837.9 C302.45,836.83 304.2,835.67 306.34,834.75 C308.48,833.84 310.61,833.29 313.34,832.42 C316.06,831.54 319.56,830.47 322.67,829.5 C325.78,828.53 328.89,827.56 332,826.59 C335.12,825.61 337.49,824.89 341.34,823.67 C345.19,822.44 352.81,819.97 355.11,819.23"/></g>
<g class="pt">
<circle cx="376.02" cy="796.6" r="2.1"/>
<circle cx="385.58" cy="796.6" r="2.1"/>
<circle cx="400.17" cy="796.6" r="2.1"/>
<circle cx="402.5" cy="796.6" r="2.1"/>
<circle cx="412.19" cy="796.6" r="2.1"/>
<circle cx="414.75" cy="796.6" r="2.1"/>
<circle cx="419.42" cy="796.6" r="2.1"/>
<circle cx="431.67" cy="796.6" r="2.1"/>
<circle cx="434" cy="796.6" r="2.1"/>
<circle cx="448.59" cy="796.6" r="2.1"/>
<circle cx="450.92" cy="796.6" r="2.1"/>
<circle cx="453.25" cy="796.6" r="2.1"/>
<circle cx="455.59" cy="796.6" r="2.1"/>
<circle cx="460.84" cy="796.6" r="2.1"/>
<circle cx="463.17" cy="796.6" r="2.1"/>
<circle cx="376.02" cy="813.52" r="2.1"/>
<circle cx="380.92" cy="813.52" r="2.1"/>
<circle cx="387.92" cy="813.52" r="2.1"/>
<circle cx="392.58" cy="813.52" r="2.1"/>
<circle cx="400.17" cy="813.52" r="2.1"/>
<circle cx="402.5" cy="813.52" r="2.1"/>
<circle cx="409.85" cy="813.52" r="2.1"/>
<circle cx="424.32" cy="813.52" r="2.1"/>
<circle cx="431.67" cy="813.52" r="2.1"/>
<circle cx="434" cy="813.52" r="2.1"/>
<circle cx="436.34" cy="813.52" r="2.1"/>
<circle cx="438.67" cy="813.52" r="2.1"/>
<circle cx="443.92" cy="813.52" r="2.1"/>
<circle cx="446.25" cy="813.52" r="2.1"/>
<circle cx="453.25" cy="813.52" r="2.1"/>
<circle cx="455.59" cy="813.52" r="2.1"/>
<circle cx="460.84" cy="813.52" r="2.1"/>
<circle cx="477.76" cy="813.52" r="2.1"/>
<circle cx="376.02" cy="830.67" r="2.1"/>
<circle cx="378.47" cy="830.67" r="2.1"/>
<circle cx="380.92" cy="830.67" r="2.1"/>
<circle cx="385.58" cy="830.67" r="2.1"/>
<circle cx="387.92" cy="830.67" r="2.1"/>
<circle cx="390.25" cy="830.67" r="2.1"/>
<circle cx="392.58" cy="830.67" r="2.1"/>
<circle cx="397.6" cy="830.67" r="2.1"/>
<circle cx="400.17" cy="830.67" r="2.1"/>
<circle cx="402.5" cy="830.67" r="2.1"/>
<circle cx="404.84" cy="830.67" r="2.1"/>
<circle cx="407.17" cy="830.67" r="2.1"/>
<circle cx="409.5" cy="830.67" r="2.1"/>
<circle cx="412.19" cy="830.67" r="2.1"/>
<circle cx="419.42" cy="830.67" r="2.1"/>
<circle cx="426.42" cy="830.67" r="2.1"/>
<circle cx="429.34" cy="830.67" r="2.1"/>
<circle cx="431.67" cy="830.67" r="2.1"/>
<circle cx="434" cy="830.67" r="2.1"/>
<circle cx="436.34" cy="830.67" r="2.1"/>
<circle cx="438.67" cy="830.67" r="2.1"/>
<circle cx="441" cy="830.67" r="2.1"/>
<circle cx="446.25" cy="830.67" r="2.1"/>
<circle cx="450.92" cy="830.67" r="2.1"/>
<circle cx="458.27" cy="830.67" r="2.1"/>
<circle cx="463.17" cy="830.67" r="2.1"/>
<circle cx="477.76" cy="830.67" r="2.1"/>
<circle cx="376.02" cy="847.82" r="2.1"/>
<circle cx="378.47" cy="847.82" r="2.1"/>
<circle cx="380.92" cy="847.82" r="2.1"/>
<circle cx="385.58" cy="847.82" r="2.1"/>
<circle cx="390.25" cy="847.82" r="2.1"/>
<circle cx="392.58" cy="847.82" r="2.1"/>
<circle cx="395.27" cy="847.82" r="2.1"/>
<circle cx="397.6" cy="847.82" r="2.1"/>
<circle cx="400.17" cy="847.82" r="2.1"/>
<circle cx="402.5" cy="847.82" r="2.1"/>
<circle cx="404.84" cy="847.82" r="2.1"/>
<circle cx="407.17" cy="847.82" r="2.1"/>
<circle cx="409.5" cy="847.82" r="2.1"/>
<circle cx="412.19" cy="847.82" r="2.1"/>
<circle cx="414.75" cy="847.82" r="2.1"/>
<circle cx="417.09" cy="847.82" r="2.1"/>
<circle cx="419.42" cy="847.82" r="2.1"/>
<circle cx="421.75" cy="847.82" r="2.1"/>
<circle cx="424.09" cy="847.82" r="2.1"/>
<circle cx="426.42" cy="847.82" r="2.1"/>
<circle cx="429.34" cy="847.82" r="2.1"/>
<circle cx="434" cy="847.82" r="2.1"/>
<circle cx="436.34" cy="847.82" r="2.1"/>
<circle cx="438.67" cy="847.82" r="2.1"/>
<circle cx="448.59" cy="847.82" r="2.1"/>
<circle cx="450.92" cy="847.82" r="2.1"/>
<circle cx="477.76" cy="847.82" r="2.1"/>
<circle cx="376.02" cy="864.74" r="2.1"/>
<circle cx="378.47" cy="864.74" r="2.1"/>
<circle cx="380.92" cy="864.74" r="2.1"/>
<circle cx="383.25" cy="864.74" r="2.1"/>
<circle cx="385.58" cy="864.74" r="2.1"/>
<circle cx="387.92" cy="864.74" r="2.1"/>
<circle cx="390.25" cy="864.74" r="2.1"/>
<circle cx="397.6" cy="864.74" r="2.1"/>
<circle cx="402.5" cy="864.74" r="2.1"/>
<circle cx="404.84" cy="864.74" r="2.1"/>
<circle cx="409.5" cy="864.74" r="2.1"/>
<circle cx="412.19" cy="864.74" r="2.1"/>
<circle cx="414.75" cy="864.74" r="2.1"/>
<circle cx="417.09" cy="864.74" r="2.1"/>
<circle cx="419.42" cy="864.74" r="2.1"/>
<circle cx="424.32" cy="864.74" r="2.1"/>
<circle cx="434" cy="864.74" r="2.1"/>
<circle cx="455.94" cy="864.74" r="2.1"/>
<circle cx="376.02" cy="881.54" r="2.1"/>
<circle cx="380.92" cy="881.54" r="2.1"/>
<circle cx="383.25" cy="881.54" r="2.1"/>
<circle cx="385.58" cy="881.54" r="2.1"/>
<circle cx="390.25" cy="881.54" r="2.1"/>
<circle cx="395.27" cy="881.54" r="2.1"/>
<circle cx="397.6" cy="881.54" r="2.1"/>
<circle cx="400.17" cy="881.54" r="2.1"/>
<circle cx="402.5" cy="881.54" r="2.1"/>
<circle cx="404.84" cy="881.54" r="2.1"/>
<circle cx="407.17" cy="881.54" r="2.1"/>
<circle cx="431.67" cy="881.54" r="2.1"/>
<circle cx="438.9" cy="881.54" r="2.1"/>
<circle cx="453.25" cy="881.54" r="2.1"/>
<circle cx="376.02" cy="898.34" r="2.1"/>
<circle cx="380.92" cy="898.34" r="2.1"/>
<circle cx="385.58" cy="898.34" r="2.1"/>
<circle cx="390.25" cy="898.34" r="2.1"/>
<circle cx="395.27" cy="898.34" r="2.1"/>
<circle cx="407.17" cy="898.34" r="2.1"/>
<circle cx="414.75" cy="898.34" r="2.1"/>
<circle cx="434" cy="898.34" r="2.1"/>
<circle cx="448.59" cy="898.34" r="2.1"/>
</g>
<g clip-path="url(#c61)"><path class="lo" d="M376.02,862.4 C377.13,861.78 380.39,859.91 382.67,858.67 C384.94,857.43 387.33,856.2 389.67,854.94 C392,853.67 394.33,852.21 396.67,851.09 C399,849.96 401.53,849.04 403.67,848.17 C405.81,847.29 407.56,846.81 409.5,845.84 C411.45,844.86 413.2,843.7 415.34,842.34 C417.47,840.97 420,839.22 422.34,837.67 C424.67,836.11 427,834.46 429.34,833 C431.67,831.54 434,830.18 436.34,828.92 C438.67,827.65 440.61,826.78 443.34,825.42 C446.06,824.06 449.56,822.21 452.67,820.75 C455.78,819.29 458.89,818.03 462,816.67 C465.12,815.31 468.71,813.75 471.34,812.58 C473.96,811.42 476.69,810.15 477.76,809.67"/></g>
<g class="pt">
<circle cx="498.43" cy="796.6" r="2.1"/>
<circle cx="518.27" cy="796.6" r="2.1"/>
<circle cx="523.98" cy="796.6" r="2.1"/>
<circle cx="526.9" cy="796.6" r="2.1"/>
<circle cx="538.1" cy="796.6" r="2.1"/>
<circle cx="554.9" cy="796.6" r="2.1"/>
<circle cx="569.25" cy="796.6" r="2.1"/>
<circle cx="577.42" cy="796.6" r="2.1"/>
<circle cx="594.57" cy="796.6" r="2.1"/>
<circle cx="597.26" cy="796.6" r="2.1"/>
<circle cx="600.17" cy="796.6" r="2.1"/>
<circle cx="498.43" cy="813.52" r="2.1"/>
<circle cx="503.92" cy="813.52" r="2.1"/>
<circle cx="506.83" cy="813.52" r="2.1"/>
<circle cx="509.75" cy="813.52" r="2.1"/>
<circle cx="512.67" cy="813.52" r="2.1"/>
<circle cx="515.58" cy="813.52" r="2.1"/>
<circle cx="526.9" cy="813.52" r="2.1"/>
<circle cx="535.07" cy="813.52" r="2.1"/>
<circle cx="543.59" cy="813.52" r="2.1"/>
<circle cx="549.42" cy="813.52" r="2.1"/>
<circle cx="552.1" cy="813.52" r="2.1"/>
<circle cx="554.9" cy="813.52" r="2.1"/>
<circle cx="563.42" cy="813.52" r="2.1"/>
<circle cx="566.34" cy="813.52" r="2.1"/>
<circle cx="574.5" cy="813.52" r="2.1"/>
<circle cx="577.42" cy="813.52" r="2.1"/>
<circle cx="583.25" cy="813.52" r="2.1"/>
<circle cx="586.17" cy="813.52" r="2.1"/>
<circle cx="588.74" cy="813.52" r="2.1"/>
<circle cx="591.77" cy="813.52" r="2.1"/>
<circle cx="498.43" cy="830.67" r="2.1"/>
<circle cx="501.23" cy="830.67" r="2.1"/>
<circle cx="503.92" cy="830.67" r="2.1"/>
<circle cx="506.83" cy="830.67" r="2.1"/>
<circle cx="512.67" cy="830.67" r="2.1"/>
<circle cx="515.58" cy="830.67" r="2.1"/>
<circle cx="521.07" cy="830.67" r="2.1"/>
<circle cx="523.98" cy="830.67" r="2.1"/>
<circle cx="526.9" cy="830.67" r="2.1"/>
<circle cx="529.59" cy="830.67" r="2.1"/>
<circle cx="532.5" cy="830.67" r="2.1"/>
<circle cx="535.42" cy="830.67" r="2.1"/>
<circle cx="538.1" cy="830.67" r="2.1"/>
<circle cx="540.67" cy="830.67" r="2.1"/>
<circle cx="546.5" cy="830.67" r="2.1"/>
<circle cx="549.42" cy="830.67" r="2.1"/>
<circle cx="554.9" cy="830.67" r="2.1"/>
<circle cx="557.59" cy="830.67" r="2.1"/>
<circle cx="560.5" cy="830.67" r="2.1"/>
<circle cx="563.42" cy="830.67" r="2.1"/>
<circle cx="569.25" cy="830.67" r="2.1"/>
<circle cx="498.43" cy="847.82" r="2.1"/>
<circle cx="501.23" cy="847.82" r="2.1"/>
<circle cx="503.92" cy="847.82" r="2.1"/>
<circle cx="506.83" cy="847.82" r="2.1"/>
<circle cx="509.75" cy="847.82" r="2.1"/>
<circle cx="512.67" cy="847.82" r="2.1"/>
<circle cx="515.58" cy="847.82" r="2.1"/>
<circle cx="518.27" cy="847.82" r="2.1"/>
<circle cx="521.07" cy="847.82" r="2.1"/>
<circle cx="523.98" cy="847.82" r="2.1"/>
<circle cx="526.9" cy="847.82" r="2.1"/>
<circle cx="529.59" cy="847.82" r="2.1"/>
<circle cx="532.5" cy="847.82" r="2.1"/>
<circle cx="538.1" cy="847.82" r="2.1"/>
<circle cx="540.67" cy="847.82" r="2.1"/>
<circle cx="549.42" cy="847.82" r="2.1"/>
<circle cx="552.1" cy="847.82" r="2.1"/>
<circle cx="554.9" cy="847.82" r="2.1"/>
<circle cx="557.59" cy="847.82" r="2.1"/>
<circle cx="563.42" cy="847.82" r="2.1"/>
<circle cx="583.25" cy="847.82" r="2.1"/>
<circle cx="498.43" cy="864.74" r="2.1"/>
<circle cx="501.23" cy="864.74" r="2.1"/>
<circle cx="503.92" cy="864.74" r="2.1"/>
<circle cx="506.83" cy="864.74" r="2.1"/>
<circle cx="509.75" cy="864.74" r="2.1"/>
<circle cx="518.27" cy="864.74" r="2.1"/>
<circle cx="521.07" cy="864.74" r="2.1"/>
<circle cx="523.98" cy="864.74" r="2.1"/>
<circle cx="526.9" cy="864.74" r="2.1"/>
<circle cx="529.59" cy="864.74" r="2.1"/>
<circle cx="532.5" cy="864.74" r="2.1"/>
<circle cx="535.42" cy="864.74" r="2.1"/>
<circle cx="538.1" cy="864.74" r="2.1"/>
<circle cx="540.67" cy="864.74" r="2.1"/>
<circle cx="543.59" cy="864.74" r="2.1"/>
<circle cx="546.5" cy="864.74" r="2.1"/>
<circle cx="549.42" cy="864.74" r="2.1"/>
<circle cx="552.1" cy="864.74" r="2.1"/>
<circle cx="554.9" cy="864.74" r="2.1"/>
<circle cx="557.94" cy="864.74" r="2.1"/>
<circle cx="498.43" cy="881.54" r="2.1"/>
<circle cx="501.23" cy="881.54" r="2.1"/>
<circle cx="503.92" cy="881.54" r="2.1"/>
<circle cx="512.67" cy="881.54" r="2.1"/>
<circle cx="526.9" cy="881.54" r="2.1"/>
<circle cx="543.59" cy="881.54" r="2.1"/>
<circle cx="552.1" cy="881.54" r="2.1"/>
<circle cx="557.94" cy="881.54" r="2.1"/>
<circle cx="498.43" cy="898.34" r="2.1"/>
<circle cx="503.92" cy="898.34" r="2.1"/>
<circle cx="512.67" cy="898.34" r="2.1"/>
<circle cx="523.98" cy="898.34" r="2.1"/>
<circle cx="532.5" cy="898.34" r="2.1"/>
</g>
<g clip-path="url(#c62)"><path class="lo" d="M498.43,861.59 C499.25,860.71 501.54,858.09 503.33,856.34 C505.12,854.59 507.22,852.68 509.17,851.09 C511.11,849.49 512.86,847.55 515,846.77 C517.14,845.99 519.67,846.48 522,846.42 C524.33,846.36 526.86,846.56 529,846.42 C531.14,846.28 532.89,845.99 534.84,845.6 C536.78,845.21 538.72,844.79 540.67,844.09 C542.61,843.39 544.56,842.47 546.5,841.4 C548.45,840.33 550.39,839.07 552.34,837.67 C554.28,836.27 556.23,834.6 558.17,833 C560.11,831.41 562.06,829.7 564,828.1 C565.95,826.51 567.89,824.99 569.84,823.43 C571.78,821.88 573.53,820.48 575.67,818.77 C577.81,817.06 580.14,815.07 582.67,813.17 C585.2,811.26 587.88,809.28 590.84,807.33 C593.79,805.39 598.81,802.47 600.41,801.5"/></g>
<g class="pt">
<circle cx="621.02" cy="796.6" r="2.1"/>
<circle cx="633.73" cy="796.6" r="2.1"/>
<circle cx="654.97" cy="796.6" r="2.1"/>
<circle cx="671.89" cy="796.6" r="2.1"/>
<circle cx="684.6" cy="796.6" r="2.1"/>
<circle cx="693.12" cy="796.6" r="2.1"/>
<circle cx="697.32" cy="796.6" r="2.1"/>
<circle cx="705.84" cy="796.6" r="2.1"/>
<circle cx="710.04" cy="796.6" r="2.1"/>
<circle cx="722.76" cy="796.6" r="2.1"/>
<circle cx="633.73" cy="813.52" r="2.1"/>
<circle cx="638.05" cy="813.52" r="2.1"/>
<circle cx="654.97" cy="813.52" r="2.1"/>
<circle cx="659.17" cy="813.52" r="2.1"/>
<circle cx="663.49" cy="813.52" r="2.1"/>
<circle cx="667.69" cy="813.52" r="2.1"/>
<circle cx="671.89" cy="813.52" r="2.1"/>
<circle cx="676.2" cy="813.52" r="2.1"/>
<circle cx="680.4" cy="813.52" r="2.1"/>
<circle cx="688.92" cy="813.52" r="2.1"/>
<circle cx="693.12" cy="813.52" r="2.1"/>
<circle cx="697.32" cy="813.52" r="2.1"/>
<circle cx="701.52" cy="813.52" r="2.1"/>
<circle cx="705.84" cy="813.52" r="2.1"/>
<circle cx="710.04" cy="813.52" r="2.1"/>
<circle cx="714.24" cy="813.52" r="2.1"/>
<circle cx="718.56" cy="813.52" r="2.1"/>
<circle cx="638.05" cy="830.67" r="2.1"/>
<circle cx="642.25" cy="830.67" r="2.1"/>
<circle cx="646.45" cy="830.67" r="2.1"/>
<circle cx="650.77" cy="830.67" r="2.1"/>
<circle cx="654.97" cy="830.67" r="2.1"/>
<circle cx="659.17" cy="830.67" r="2.1"/>
<circle cx="663.49" cy="830.67" r="2.1"/>
<circle cx="667.69" cy="830.67" r="2.1"/>
<circle cx="671.89" cy="830.67" r="2.1"/>
<circle cx="676.2" cy="830.67" r="2.1"/>
<circle cx="680.4" cy="830.67" r="2.1"/>
<circle cx="684.6" cy="830.67" r="2.1"/>
<circle cx="688.92" cy="830.67" r="2.1"/>
<circle cx="693.12" cy="830.67" r="2.1"/>
<circle cx="697.32" cy="830.67" r="2.1"/>
<circle cx="718.56" cy="830.67" r="2.1"/>
<circle cx="621.02" cy="847.82" r="2.1"/>
<circle cx="625.33" cy="847.82" r="2.1"/>
<circle cx="633.73" cy="847.82" r="2.1"/>
<circle cx="638.05" cy="847.82" r="2.1"/>
<circle cx="642.25" cy="847.82" r="2.1"/>
<circle cx="646.45" cy="847.82" r="2.1"/>
<circle cx="650.77" cy="847.82" r="2.1"/>
<circle cx="654.97" cy="847.82" r="2.1"/>
<circle cx="659.17" cy="847.82" r="2.1"/>
<circle cx="663.49" cy="847.82" r="2.1"/>
<circle cx="667.69" cy="847.82" r="2.1"/>
<circle cx="671.89" cy="847.82" r="2.1"/>
<circle cx="676.2" cy="847.82" r="2.1"/>
<circle cx="680.4" cy="847.82" r="2.1"/>
<circle cx="684.6" cy="847.82" r="2.1"/>
<circle cx="688.92" cy="847.82" r="2.1"/>
<circle cx="693.12" cy="847.82" r="2.1"/>
<circle cx="701.52" cy="847.82" r="2.1"/>
<circle cx="705.84" cy="847.82" r="2.1"/>
<circle cx="621.02" cy="864.74" r="2.1"/>
<circle cx="629.53" cy="864.74" r="2.1"/>
<circle cx="633.73" cy="864.74" r="2.1"/>
<circle cx="638.05" cy="864.74" r="2.1"/>
<circle cx="642.25" cy="864.74" r="2.1"/>
<circle cx="646.45" cy="864.74" r="2.1"/>
<circle cx="650.77" cy="864.74" r="2.1"/>
<circle cx="654.97" cy="864.74" r="2.1"/>
<circle cx="659.17" cy="864.74" r="2.1"/>
<circle cx="663.49" cy="864.74" r="2.1"/>
<circle cx="667.69" cy="864.74" r="2.1"/>
<circle cx="671.89" cy="864.74" r="2.1"/>
<circle cx="676.2" cy="864.74" r="2.1"/>
<circle cx="684.6" cy="864.74" r="2.1"/>
<circle cx="688.92" cy="864.74" r="2.1"/>
<circle cx="705.84" cy="864.74" r="2.1"/>
<circle cx="621.02" cy="881.54" r="2.1"/>
<circle cx="625.33" cy="881.54" r="2.1"/>
<circle cx="629.53" cy="881.54" r="2.1"/>
<circle cx="633.73" cy="881.54" r="2.1"/>
<circle cx="638.05" cy="881.54" r="2.1"/>
<circle cx="642.25" cy="881.54" r="2.1"/>
<circle cx="646.45" cy="881.54" r="2.1"/>
<circle cx="650.77" cy="881.54" r="2.1"/>
<circle cx="654.97" cy="881.54" r="2.1"/>
<circle cx="659.17" cy="881.54" r="2.1"/>
<circle cx="663.49" cy="881.54" r="2.1"/>
<circle cx="667.69" cy="881.54" r="2.1"/>
<circle cx="671.89" cy="881.54" r="2.1"/>
<circle cx="676.2" cy="881.54" r="2.1"/>
<circle cx="680.4" cy="881.54" r="2.1"/>
<circle cx="621.02" cy="898.34" r="2.1"/>
<circle cx="625.33" cy="898.34" r="2.1"/>
<circle cx="629.53" cy="898.34" r="2.1"/>
<circle cx="633.73" cy="898.34" r="2.1"/>
<circle cx="638.05" cy="898.34" r="2.1"/>
<circle cx="642.25" cy="898.34" r="2.1"/>
<circle cx="646.45" cy="898.34" r="2.1"/>
<circle cx="654.97" cy="898.34" r="2.1"/>
<circle cx="663.49" cy="898.34" r="2.1"/>
<circle cx="667.69" cy="898.34" r="2.1"/>
<circle cx="684.6" cy="898.34" r="2.1"/>
</g>
<g clip-path="url(#c63)"><path class="lo" d="M621.02,879.09 C622.13,878.12 625.39,875.3 627.67,873.25 C629.94,871.21 632.33,868.88 634.67,866.84 C637,864.8 639.53,862.75 641.67,861 C643.81,859.25 645.75,857.6 647.5,856.34 C649.25,855.07 650.42,854.2 652.17,853.42 C653.92,852.64 655.86,852.35 658,851.67 C660.14,850.99 662.86,850.11 665,849.34 C667.14,848.56 668.89,847.98 670.84,847 C672.78,846.03 674.73,844.86 676.67,843.5 C678.61,842.14 680.56,840.55 682.5,838.84 C684.45,837.12 686.39,835.18 688.34,833.24 C690.28,831.29 692.23,829.11 694.17,827.17 C696.12,825.22 698.06,823.42 700,821.57 C701.95,819.72 703.7,818.07 705.84,816.08 C707.98,814.1 710.02,812.2 712.84,809.67 C715.66,807.14 721.1,802.38 722.76,800.92"/></g>
<g class="pt">
<circle cx="751.25" cy="796.6" r="2.1"/>
<circle cx="753.58" cy="796.6" r="2.1"/>
<circle cx="756.5" cy="796.6" r="2.1"/>
<circle cx="758.83" cy="796.6" r="2.1"/>
<circle cx="761.17" cy="796.6" r="2.1"/>
<circle cx="763.5" cy="796.6" r="2.1"/>
<circle cx="765.83" cy="796.6" r="2.1"/>
<circle cx="771.08" cy="796.6" r="2.1"/>
<circle cx="773.42" cy="796.6" r="2.1"/>
<circle cx="775.75" cy="796.6" r="2.1"/>
<circle cx="778.09" cy="796.6" r="2.1"/>
<circle cx="779.84" cy="796.6" r="2.1"/>
<circle cx="807.84" cy="796.6" r="2.1"/>
<circle cx="743.43" cy="813.52" r="2.1"/>
<circle cx="747.17" cy="813.52" r="2.1"/>
<circle cx="749.5" cy="813.52" r="2.1"/>
<circle cx="751.83" cy="813.52" r="2.1"/>
<circle cx="754.17" cy="813.52" r="2.1"/>
<circle cx="756.5" cy="813.52" r="2.1"/>
<circle cx="758.83" cy="813.52" r="2.1"/>
<circle cx="761.17" cy="813.52" r="2.1"/>
<circle cx="763.5" cy="813.52" r="2.1"/>
<circle cx="765.83" cy="813.52" r="2.1"/>
<circle cx="768.17" cy="813.52" r="2.1"/>
<circle cx="773.07" cy="813.52" r="2.1"/>
<circle cx="778.67" cy="813.52" r="2.1"/>
<circle cx="781" cy="813.52" r="2.1"/>
<circle cx="783.92" cy="813.52" r="2.1"/>
<circle cx="786.25" cy="813.52" r="2.1"/>
<circle cx="807.84" cy="813.52" r="2.1"/>
<circle cx="815.77" cy="813.52" r="2.1"/>
<circle cx="838.4" cy="813.52" r="2.1"/>
<circle cx="845.41" cy="813.52" r="2.1"/>
<circle cx="743.43" cy="830.67" r="2.1"/>
<circle cx="745.42" cy="830.67" r="2.1"/>
<circle cx="747.75" cy="830.67" r="2.1"/>
<circle cx="750.08" cy="830.67" r="2.1"/>
<circle cx="752.42" cy="830.67" r="2.1"/>
<circle cx="754.75" cy="830.67" r="2.1"/>
<circle cx="757.08" cy="830.67" r="2.1"/>
<circle cx="759.42" cy="830.67" r="2.1"/>
<circle cx="761.75" cy="830.67" r="2.1"/>
<circle cx="764.08" cy="830.67" r="2.1"/>
<circle cx="766.42" cy="830.67" r="2.1"/>
<circle cx="768.75" cy="830.67" r="2.1"/>
<circle cx="771.08" cy="830.67" r="2.1"/>
<circle cx="773.42" cy="830.67" r="2.1"/>
<circle cx="774.59" cy="830.67" r="2.1"/>
<circle cx="779.84" cy="830.67" r="2.1"/>
<circle cx="810.4" cy="830.67" r="2.1"/>
<circle cx="818.34" cy="830.67" r="2.1"/>
<circle cx="825.34" cy="830.67" r="2.1"/>
<circle cx="743.43" cy="847.82" r="2.1"/>
<circle cx="745.42" cy="847.82" r="2.1"/>
<circle cx="747.75" cy="847.82" r="2.1"/>
<circle cx="750.08" cy="847.82" r="2.1"/>
<circle cx="752.42" cy="847.82" r="2.1"/>
<circle cx="754.75" cy="847.82" r="2.1"/>
<circle cx="757.08" cy="847.82" r="2.1"/>
<circle cx="759.42" cy="847.82" r="2.1"/>
<circle cx="761.75" cy="847.82" r="2.1"/>
<circle cx="764.08" cy="847.82" r="2.1"/>
<circle cx="766.42" cy="847.82" r="2.1"/>
<circle cx="767.58" cy="847.82" r="2.1"/>
<circle cx="773.07" cy="847.82" r="2.1"/>
<circle cx="789.17" cy="847.82" r="2.1"/>
<circle cx="796.17" cy="847.82" r="2.1"/>
<circle cx="799.09" cy="847.82" r="2.1"/>
<circle cx="802.59" cy="847.82" r="2.1"/>
<circle cx="807.84" cy="847.82" r="2.1"/>
<circle cx="810.4" cy="847.82" r="2.1"/>
<circle cx="819.5" cy="847.82" r="2.1"/>
<circle cx="826.5" cy="847.82" r="2.1"/>
<circle cx="834.44" cy="847.82" r="2.1"/>
<circle cx="743.43" cy="864.74" r="2.1"/>
<circle cx="745.42" cy="864.74" r="2.1"/>
<circle cx="747.75" cy="864.74" r="2.1"/>
<circle cx="750.08" cy="864.74" r="2.1"/>
<circle cx="752.42" cy="864.74" r="2.1"/>
<circle cx="754.75" cy="864.74" r="2.1"/>
<circle cx="757.08" cy="864.74" r="2.1"/>
<circle cx="759.42" cy="864.74" r="2.1"/>
<circle cx="761.75" cy="864.74" r="2.1"/>
<circle cx="767.58" cy="864.74" r="2.1"/>
<circle cx="769.92" cy="864.74" r="2.1"/>
<circle cx="774.59" cy="864.74" r="2.1"/>
<circle cx="777.5" cy="864.74" r="2.1"/>
<circle cx="779.84" cy="864.74" r="2.1"/>
<circle cx="785.09" cy="864.74" r="2.1"/>
<circle cx="792.9" cy="864.74" r="2.1"/>
<circle cx="799.67" cy="864.74" r="2.1"/>
<circle cx="803.75" cy="864.74" r="2.1"/>
<circle cx="819.5" cy="864.74" r="2.1"/>
<circle cx="821.25" cy="864.74" r="2.1"/>
<circle cx="827.9" cy="864.74" r="2.1"/>
<circle cx="743.43" cy="881.54" r="2.1"/>
<circle cx="745.42" cy="881.54" r="2.1"/>
<circle cx="747.75" cy="881.54" r="2.1"/>
<circle cx="750.08" cy="881.54" r="2.1"/>
<circle cx="752.42" cy="881.54" r="2.1"/>
<circle cx="754.75" cy="881.54" r="2.1"/>
<circle cx="757.08" cy="881.54" r="2.1"/>
<circle cx="759.42" cy="881.54" r="2.1"/>
<circle cx="761.75" cy="881.54" r="2.1"/>
<circle cx="767.58" cy="881.54" r="2.1"/>
<circle cx="769.33" cy="881.54" r="2.1"/>
<circle cx="774.59" cy="881.54" r="2.1"/>
<circle cx="783.92" cy="881.54" r="2.1"/>
<circle cx="785.09" cy="881.54" r="2.1"/>
<circle cx="743.43" cy="898.34" r="2.1"/>
<circle cx="745.42" cy="898.34" r="2.1"/>
<circle cx="747.75" cy="898.34" r="2.1"/>
<circle cx="751.25" cy="898.34" r="2.1"/>
<circle cx="754.75" cy="898.34" r="2.1"/>
<circle cx="757.67" cy="898.34" r="2.1"/>
<circle cx="768.75" cy="898.34" r="2.1"/>
<circle cx="770.5" cy="898.34" r="2.1"/>
<circle cx="803.75" cy="898.34" r="2.1"/>
</g>
<g clip-path="url(#c64)"><path class="lo" d="M743.43,857.74 C744.25,857.21 746.54,855.75 748.33,854.59 C750.12,853.42 752.42,852.04 754.17,850.74 C755.92,849.43 757.28,848.13 758.83,846.77 C760.39,845.41 761.95,844.12 763.5,842.57 C765.06,841.01 766.81,838.54 768.17,837.44 C769.53,836.33 770.4,836.23 771.67,835.92 C772.93,835.61 774.49,835.32 775.75,835.57 C777.02,835.82 777.99,836.7 779.25,837.44 C780.52,838.17 781.68,839.54 783.34,840 C784.99,840.47 787.22,840.08 789.17,840.24 C791.11,840.39 792.86,840.64 795,840.94 C797.14,841.23 799.67,841.85 802,841.99 C804.34,842.12 805.89,841.93 809,841.75 C812.11,841.58 816.78,841.17 820.67,840.94 C824.56,840.7 828.22,840.55 832.34,840.35 C836.46,840.16 843.23,839.87 845.41,839.77"/></g>
<g class="pt">
<circle cx="866.13" cy="796.6" r="2.1"/>
<circle cx="950.84" cy="796.6" r="2.1"/>
<circle cx="967.87" cy="796.6" r="2.1"/>
<circle cx="883.17" cy="813.52" r="2.1"/>
<circle cx="900.09" cy="813.52" r="2.1"/>
<circle cx="933.92" cy="813.52" r="2.1"/>
<circle cx="950.84" cy="813.52" r="2.1"/>
<circle cx="967.87" cy="813.52" r="2.1"/>
<circle cx="900.09" cy="830.67" r="2.1"/>
<circle cx="917" cy="830.67" r="2.1"/>
<circle cx="933.92" cy="830.67" r="2.1"/>
<circle cx="950.84" cy="830.67" r="2.1"/>
<circle cx="967.87" cy="830.67" r="2.1"/>
<circle cx="883.17" cy="847.82" r="2.1"/>
<circle cx="900.09" cy="847.82" r="2.1"/>
<circle cx="917" cy="847.82" r="2.1"/>
<circle cx="933.92" cy="847.82" r="2.1"/>
<circle cx="950.84" cy="847.82" r="2.1"/>
<circle cx="967.87" cy="847.82" r="2.1"/>
<circle cx="866.13" cy="864.74" r="2.1"/>
<circle cx="883.17" cy="864.74" r="2.1"/>
<circle cx="900.09" cy="864.74" r="2.1"/>
<circle cx="917" cy="864.74" r="2.1"/>
<circle cx="933.92" cy="864.74" r="2.1"/>
<circle cx="967.87" cy="864.74" r="2.1"/>
<circle cx="866.13" cy="881.54" r="2.1"/>
<circle cx="883.17" cy="881.54" r="2.1"/>
<circle cx="900.09" cy="881.54" r="2.1"/>
<circle cx="917" cy="881.54" r="2.1"/>
<circle cx="933.92" cy="881.54" r="2.1"/>
<circle cx="950.84" cy="881.54" r="2.1"/>
<circle cx="866.13" cy="898.34" r="2.1"/>
<circle cx="883.17" cy="898.34" r="2.1"/>
<circle cx="900.09" cy="898.34" r="2.1"/>
<circle cx="917" cy="898.34" r="2.1"/>
<circle cx="967.87" cy="898.34" r="2.1"/>
</g>
<g clip-path="url(#c65)"><path class="lo" d="M866.13,889.59 C868.97,887.35 877.51,880.74 883.17,876.17 C888.83,871.6 894.45,866.64 900.09,862.17 C905.72,857.7 911.36,853.81 917,849.34 C922.64,844.86 928.28,840.59 933.92,835.34 C939.56,830.09 945.18,823.38 950.84,817.83 C956.5,812.29 965.03,804.71 967.87,802.08"/></g>
<g class="bar">
<rect x="988.82" y="884.74" width="8.47" height="17.71"/>
<rect x="997.29" y="866.07" width="8.47" height="36.38"/>
<rect x="1014.23" y="838.69" width="8.47" height="63.76"/>
<rect x="1031.18" y="829.25" width="8.47" height="73.2"/>
<rect x="1048.12" y="844.48" width="8.47" height="57.97"/>
<rect x="1065.07" y="874.63" width="8.47" height="27.82"/>
<rect x="1082.01" y="878.88" width="8.47" height="23.57"/>
</g>
<g clip-path="url(#c66)"><path class="dens" d="M984.58,887.67 C985.65,886.5 988.96,883 991,880.67 C993.04,878.34 994.89,876 996.83,873.67 C998.78,871.34 1000.72,869.2 1002.67,866.67 C1004.61,864.14 1006.56,861.42 1008.5,858.5 C1010.45,855.59 1012.39,852.09 1014.33,849.17 C1016.28,846.25 1018.22,843.34 1020.17,841 C1022.11,838.67 1024.06,836.82 1026,835.17 C1027.95,833.52 1030.09,832.02 1031.84,831.09 C1033.59,830.15 1034.75,829.67 1036.5,829.57 C1038.25,829.47 1040.39,829.57 1042.34,830.5 C1044.28,831.44 1046.23,833.42 1048.17,835.17 C1050.11,836.92 1052.06,838.86 1054,841 C1055.95,843.14 1057.89,845.28 1059.84,848 C1061.78,850.73 1063.73,854.42 1065.67,857.34 C1067.62,860.25 1069.56,863.17 1071.5,865.5 C1073.45,867.84 1075.39,869.59 1077.34,871.34 C1079.28,873.09 1081.23,874.64 1083.17,876 C1085.12,877.37 1087.16,878.14 1089.01,879.5 C1090.85,880.87 1093.38,883.39 1094.26,884.17"/></g>
<g class="rug">
<line x1="988.82" y1="902.45" x2="988.82" y2="899.15"/>
<line x1="1005.76" y1="902.45" x2="1005.76" y2="899.15"/>
<line x1="1022.71" y1="902.45" x2="1022.71" y2="899.15"/>
<line x1="1039.65" y1="902.45" x2="1039.65" y2="899.15"/>
<line x1="1056.59" y1="902.45" x2="1056.59" y2="899.15"/>
<line x1="1073.54" y1="902.45" x2="1073.54" y2="899.15"/>
<line x1="1090.48" y1="902.45" x2="1090.48" y2="899.15"/>
</g>
<text class="lab" x="1039.65" y="814.6">intuition</text>
<g class="box">
<rect x="249.45" y="57.35" width="109.8" height="109.8"/>
<rect x="372" y="57.35" width="109.8" height="109.8"/>
<rect x="494.55" y="57.35" width="109.8" height="109.8"/>
<rect x="617.1" y="57.35" width="109.8" height="109.8"/>
<rect x="739.65" y="57.35" width="109.8" height="109.8"/>
<rect x="862.2" y="57.35" width="109.8" height="109.8"/>
<rect x="984.75" y="57.35" width="109.8" height="109.8"/>
<rect x="249.45" y="179.9" width="109.8" height="109.8"/>
<rect x="372" y="179.9" width="109.8" height="109.8"/>
<rect x="494.55" y="179.9" width="109.8" height="109.8"/>
<rect x="617.1" y="179.9" width="109.8" height="109.8"/>
<rect x="739.65" y="179.9" width="109.8" height="109.8"/>
<rect x="862.2" y="179.9" width="109.8" height="109.8"/>
<rect x="984.75" y="179.9" width="109.8" height="109.8"/>
<rect x="249.45" y="302.45" width="109.8" height="109.8"/>
<rect x="372" y="302.45" width="109.8" height="109.8"/>
<rect x="494.55" y="302.45" width="109.8" height="109.8"/>
<rect x="617.1" y="302.45" width="109.8" height="109.8"/>
<rect x="739.65" y="302.45" width="109.8" height="109.8"/>
<rect x="862.2" y="302.45" width="109.8" height="109.8"/>
<rect x="984.75" y="302.45" width="109.8" height="109.8"/>
<rect x="249.45" y="425" width="109.8" height="109.8"/>
<rect x="372" y="425" width="109.8" height="109.8"/>
<rect x="494.55" y="425" width="109.8" height="109.8"/>
<rect x="617.1" y="425" width="109.8" height="109.8"/>
<rect x="739.65" y="425" width="109.8" height="109.8"/>
<rect x="862.2" y="425" width="109.8" height="109.8"/>
<rect x="984.75" y="425" width="109.8" height="109.8"/>
<rect x="249.45" y="547.55" width="109.8" height="109.8"/>
<rect x="372" y="547.55" width="109.8" height="109.8"/>
<rect x="494.55" y="547.55" width="109.8" height="109.8"/>
<rect x="617.1" y="547.55" width="109.8" height="109.8"/>
<rect x="739.65" y="547.55" width="109.8" height="109.8"/>
<rect x="862.2" y="547.55" width="109.8" height="109.8"/>
<rect x="984.75" y="547.55" width="109.8" height="109.8"/>
<rect x="249.45" y="670.1" width="109.8" height="109.8"/>
<rect x="372" y="670.1" width="109.8" height="109.8"/>
<rect x="494.55" y="670.1" width="109.8" height="109.8"/>
<rect x="617.1" y="670.1" width="109.8" height="109.8"/>
<rect x="739.65" y="670.1" width="109.8" height="109.8"/>
<rect x="862.2" y="670.1" width="109.8" height="109.8"/>
<rect x="984.75" y="670.1" width="109.8" height="109.8"/>
<rect x="249.45" y="792.65" width="109.8" height="109.8"/>
<rect x="372" y="792.65" width="109.8" height="109.8"/>
<rect x="494.55" y="792.65" width="109.8" height="109.8"/>
<rect x="617.1" y="792.65" width="109.8" height="109.8"/>
<rect x="739.65" y="792.65" width="109.8" height="109.8"/>
<rect x="862.2" y="792.65" width="109.8" height="109.8"/>
<rect x="984.75" y="792.65" width="109.8" height="109.8"/>
</g>
<g class="axl">
<line x1="376.07" y1="57.35" x2="376.07" y2="50.75"/>
<line x1="390.59" y1="57.35" x2="390.59" y2="50.75"/>
<line x1="405.11" y1="57.35" x2="405.11" y2="50.75"/>
<line x1="419.64" y1="57.35" x2="419.64" y2="50.75"/>
<line x1="434.16" y1="57.35" x2="434.16" y2="50.75"/>
<line x1="448.69" y1="57.35" x2="448.69" y2="50.75"/>
<line x1="463.21" y1="57.35" x2="463.21" y2="50.75"/>
<line x1="477.73" y1="57.35" x2="477.73" y2="50.75"/>
<text class="ax" x="376.07" y="42.54">1</text>
<text class="ax" x="405.11" y="42.54">3</text>
<text class="ax" x="434.16" y="42.54">5</text>
<text class="ax" x="463.21" y="42.54">7</text>
<line x1="621.17" y1="57.35" x2="621.17" y2="50.75"/>
<line x1="638.11" y1="57.35" x2="638.11" y2="50.75"/>
<line x1="655.06" y1="57.35" x2="655.06" y2="50.75"/>
<line x1="672" y1="57.35" x2="672" y2="50.75"/>
<line x1="688.94" y1="57.35" x2="688.94" y2="50.75"/>
<line x1="705.89" y1="57.35" x2="705.89" y2="50.75"/>
<line x1="722.83" y1="57.35" x2="722.83" y2="50.75"/>
<text class="ax" x="621.17" y="42.54">1</text>
<text class="ax" x="638.11" y="42.54">2</text>
<text class="ax" x="655.06" y="42.54">3</text>
<text class="ax" x="672" y="42.54">4</text>
<text class="ax" x="688.94" y="42.54">5</text>
<text class="ax" x="705.89" y="42.54">6</text>
<text class="ax" x="722.83" y="42.54">7</text>
<line x1="866.27" y1="57.35" x2="866.27" y2="50.75"/>
<line x1="883.21" y1="57.35" x2="883.21" y2="50.75"/>
<line x1="900.16" y1="57.35" x2="900.16" y2="50.75"/>
<line x1="917.1" y1="57.35" x2="917.1" y2="50.75"/>
<line x1="934.04" y1="57.35" x2="934.04" y2="50.75"/>
<line x1="950.99" y1="57.35" x2="950.99" y2="50.75"/>
<line x1="967.93" y1="57.35" x2="967.93" y2="50.75"/>
<text class="ax" x="866.27" y="42.54">1</text>
<text class="ax" x="883.21" y="42.54">2</text>
<text class="ax" x="900.16" y="42.54">3</text>
<text class="ax" x="917.1" y="42.54">4</text>
<text class="ax" x="934.04" y="42.54">5</text>
<text class="ax" x="950.99" y="42.54">6</text>
<text class="ax" x="967.93" y="42.54">7</text>
<line x1="253.52" y1="902.45" x2="253.52" y2="909.05"/>
<line x1="268.04" y1="902.45" x2="268.04" y2="909.05"/>
<line x1="282.56" y1="902.45" x2="282.56" y2="909.05"/>
<line x1="297.09" y1="902.45" x2="297.09" y2="909.05"/>
<line x1="311.61" y1="902.45" x2="311.61" y2="909.05"/>
<line x1="326.14" y1="902.45" x2="326.14" y2="909.05"/>
<line x1="340.66" y1="902.45" x2="340.66" y2="909.05"/>
<line x1="355.18" y1="902.45" x2="355.18" y2="909.05"/>
<text class="ax" x="253.52" y="926.44">1</text>
<text class="ax" x="282.56" y="926.44">3</text>
<text class="ax" x="311.61" y="926.44">5</text>
<text class="ax" x="340.66" y="926.44">7</text>
<line x1="498.62" y1="902.45" x2="498.62" y2="909.05"/>
<line x1="515.56" y1="902.45" x2="515.56" y2="909.05"/>
<line x1="532.51" y1="902.45" x2="532.51" y2="909.05"/>
<line x1="549.45" y1="902.45" x2="549.45" y2="909.05"/>
<line x1="566.39" y1="902.45" x2="566.39" y2="909.05"/>
<line x1="583.34" y1="902.45" x2="583.34" y2="909.05"/>
<line x1="600.28" y1="902.45" x2="600.28" y2="909.05"/>
<text class="ax" x="498.62" y="926.44">1</text>
<text class="ax" x="515.56" y="926.44">2</text>
<text class="ax" x="532.51" y="926.44">3</text>
<text class="ax" x="549.45" y="926.44">4</text>
<text class="ax" x="566.39" y="926.44">5</text>
<text class="ax" x="583.34" y="926.44">6</text>
<text class="ax" x="600.28" y="926.44">7</text>
<line x1="743.72" y1="902.45" x2="743.72" y2="909.05"/>
<line x1="765.12" y1="902.45" x2="765.12" y2="909.05"/>
<line x1="786.52" y1="902.45" x2="786.52" y2="909.05"/>
<line x1="807.93" y1="902.45" x2="807.93" y2="909.05"/>
<line x1="829.33" y1="902.45" x2="829.33" y2="909.05"/>
<text class="ax" x="743.72" y="926.44">1</text>
<text class="ax" x="765.12" y="926.44">2</text>
<text class="ax" x="786.52" y="926.44">3</text>
<text class="ax" x="807.93" y="926.44">4</text>
<text class="ax" x="829.33" y="926.44">5</text>
<line x1="988.82" y1="902.45" x2="988.82" y2="909.05"/>
<line x1="1005.76" y1="902.45" x2="1005.76" y2="909.05"/>
<line x1="1022.71" y1="902.45" x2="1022.71" y2="909.05"/>
<line x1="1039.65" y1="902.45" x2="1039.65" y2="909.05"/>
<line x1="1056.59" y1="902.45" x2="1056.59" y2="909.05"/>
<line x1="1073.54" y1="902.45" x2="1073.54" y2="909.05"/>
<line x1="1090.48" y1="902.45" x2="1090.48" y2="909.05"/>
<text class="ax" x="988.82" y="926.44">1</text>
<text class="ax" x="1005.76" y="926.44">2</text>
<text class="ax" x="1022.71" y="926.44">3</text>
<text class="ax" x="1039.65" y="926.44">4</text>
<text class="ax" x="1056.59" y="926.44">5</text>
<text class="ax" x="1073.54" y="926.44">6</text>
<text class="ax" x="1090.48" y="926.44">7</text>
<line x1="249.45" y1="285.63" x2="242.85" y2="285.63"/>
<line x1="249.45" y1="271.11" x2="242.85" y2="271.11"/>
<line x1="249.45" y1="256.59" x2="242.85" y2="256.59"/>
<line x1="249.45" y1="242.06" x2="242.85" y2="242.06"/>
<line x1="249.45" y1="227.54" x2="242.85" y2="227.54"/>
<line x1="249.45" y1="213.01" x2="242.85" y2="213.01"/>
<line x1="249.45" y1="198.49" x2="242.85" y2="198.49"/>
<line x1="249.45" y1="183.97" x2="242.85" y2="183.97"/>
<text class="ax" transform="translate(233.84,285.63) rotate(-90)">1</text>
<text class="ax" transform="translate(233.84,256.59) rotate(-90)">3</text>
<text class="ax" transform="translate(233.84,227.54) rotate(-90)">5</text>
<text class="ax" transform="translate(233.84,198.49) rotate(-90)">7</text>
<line x1="249.45" y1="530.73" x2="242.85" y2="530.73"/>
<line x1="249.45" y1="513.79" x2="242.85" y2="513.79"/>
<line x1="249.45" y1="496.84" x2="242.85" y2="496.84"/>
<line x1="249.45" y1="479.9" x2="242.85" y2="479.9"/>
<line x1="249.45" y1="462.96" x2="242.85" y2="462.96"/>
<line x1="249.45" y1="446.01" x2="242.85" y2="446.01"/>
<line x1="249.45" y1="429.07" x2="242.85" y2="429.07"/>
<text class="ax" transform="translate(233.84,530.73) rotate(-90)">1</text>
<text class="ax" transform="translate(233.84,513.79) rotate(-90)">2</text>
<text class="ax" transform="translate(233.84,496.84) rotate(-90)">3</text>
<text class="ax" transform="translate(233.84,479.9) rotate(-90)">4</text>
<text class="ax" transform="translate(233.84,462.96) rotate(-90)">5</text>
<text class="ax" transform="translate(233.84,446.01) rotate(-90)">6</text>
<text class="ax" transform="translate(233.84,429.07) rotate(-90)">7</text>
<line x1="249.45" y1="775.83" x2="242.85" y2="775.83"/>
<line x1="249.45" y1="758.89" x2="242.85" y2="758.89"/>
<line x1="249.45" y1="741.94" x2="242.85" y2="741.94"/>
<line x1="249.45" y1="725" x2="242.85" y2="725"/>
<line x1="249.45" y1="708.06" x2="242.85" y2="708.06"/>
<line x1="249.45" y1="691.11" x2="242.85" y2="691.11"/>
<line x1="249.45" y1="674.17" x2="242.85" y2="674.17"/>
<text class="ax" transform="translate(233.84,775.83) rotate(-90)">1</text>
<text class="ax" transform="translate(233.84,758.89) rotate(-90)">2</text>
<text class="ax" transform="translate(233.84,741.94) rotate(-90)">3</text>
<text class="ax" transform="translate(233.84,725) rotate(-90)">4</text>
<text class="ax" transform="translate(233.84,708.06) rotate(-90)">5</text>
<text class="ax" transform="translate(233.84,691.11) rotate(-90)">6</text>
<text class="ax" transform="translate(233.84,674.17) rotate(-90)">7</text>
<line x1="1094.55" y1="163.08" x2="1101.15" y2="163.08"/>
<line x1="1094.55" y1="148.56" x2="1101.15" y2="148.56"/>
<line x1="1094.55" y1="134.04" x2="1101.15" y2="134.04"/>
<line x1="1094.55" y1="119.51" x2="1101.15" y2="119.51"/>
<line x1="1094.55" y1="104.99" x2="1101.15" y2="104.99"/>
<line x1="1094.55" y1="90.46" x2="1101.15" y2="90.46"/>
<line x1="1094.55" y1="75.94" x2="1101.15" y2="75.94"/>
<line x1="1094.55" y1="61.42" x2="1101.15" y2="61.42"/>
<text class="ax" transform="translate(1117.54,163.08) rotate(-90)">1</text>
<text class="ax" transform="translate(1117.54,134.04) rotate(-90)">3</text>
<text class="ax" transform="translate(1117.54,104.99) rotate(-90)">5</text>
<text class="ax" transform="translate(1117.54,75.94) rotate(-90)">7</text>
<line x1="1094.55" y1="408.18" x2="1101.15" y2="408.18"/>
<line x1="1094.55" y1="391.24" x2="1101.15" y2="391.24"/>
<line x1="1094.55" y1="374.29" x2="1101.15" y2="374.29"/>
<line x1="1094.55" y1="357.35" x2="1101.15" y2="357.35"/>
<line x1="1094.55" y1="340.41" x2="1101.15" y2="340.41"/>
<line x1="1094.55" y1="323.46" x2="1101.15" y2="323.46"/>
<line x1="1094.55" y1="306.52" x2="1101.15" y2="306.52"/>
<text class="ax" transform="translate(1117.54,408.18) rotate(-90)">1</text>
<text class="ax" transform="translate(1117.54,391.24) rotate(-90)">2</text>
<text class="ax" transform="translate(1117.54,374.29) rotate(-90)">3</text>
<text class="ax" transform="translate(1117.54,357.35) rotate(-90)">4</text>
<text class="ax" transform="translate(1117.54,340.41) rotate(-90)">5</text>
<text class="ax" transform="translate(1117.54,323.46) rotate(-90)">6</text>
<text class="ax" transform="translate(1117.54,306.52) rotate(-90)">7</text>
<line x1="1094.55" y1="653.28" x2="1101.15" y2="653.28"/>
<line x1="1094.55" y1="631.88" x2="1101.15" y2="631.88"/>
<line x1="1094.55" y1="610.48" x2="1101.15" y2="610.48"/>
<line x1="1094.55" y1="589.07" x2="1101.15" y2="589.07"/>
<line x1="1094.55" y1="567.67" x2="1101.15" y2="567.67"/>
<text class="ax" transform="translate(1117.54,653.28) rotate(-90)">1</text>
<text class="ax" transform="translate(1117.54,631.88) rotate(-90)">2</text>
<text class="ax" transform="translate(1117.54,610.48) rotate(-90)">3</text>
<text class="ax" transform="translate(1117.54,589.07) rotate(-90)">4</text>
<text class="ax" transform="translate(1117.54,567.67) rotate(-90)">5</text>
<line x1="1094.55" y1="898.38" x2="1101.15" y2="898.38"/>
<line x1="1094.55" y1="881.44" x2="1101.15" y2="881.44"/>
<line x1="1094.55" y1="864.49" x2="1101.15" y2="864.49"/>
<line x1="1094.55" y1="847.55" x2="1101.15" y2="847.55"/>
<line x1="1094.55" y1="830.61" x2="1101.15" y2="830.61"/>
<line x1="1094.55" y1="813.66" x2="1101.15" y2="813.66"/>
<line x1="1094.55" y1="796.72" x2="1101.15" y2="796.72"/>
<text class="ax" transform="translate(1117.54,898.38) rotate(-90)">1</text>
<text class="ax" transform="translate(1117.54,881.44) rotate(-90)">2</text>
<text class="ax" transform="translate(1117.54,864.49) rotate(-90)">3</text>
<text class="ax" transform="translate(1117.54,847.55) rotate(-90)">4</text>
<text class="ax" transform="translate(1117.54,830.61) rotate(-90)">5</text>
<text class="ax" transform="translate(1117.54,813.66) rotate(-90)">6</text>
<text class="ax" transform="translate(1117.54,796.72) rotate(-90)">7</text>
</g>
</svg>
</body></html>
